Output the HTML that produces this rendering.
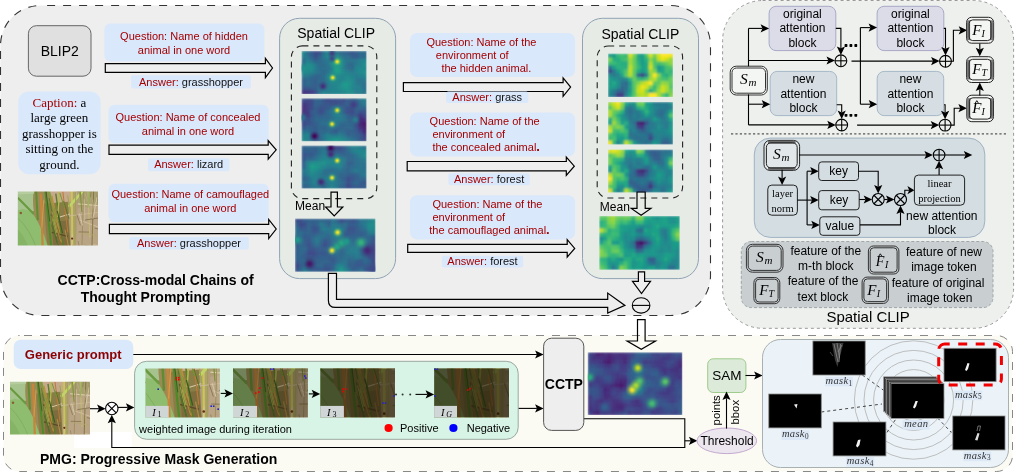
<!DOCTYPE html>
<html><head><meta charset="utf-8"><style>
html,body{margin:0;padding:0;background:#fff;}
svg{display:block;will-change:transform;}

</style></head><body>
<svg width="1015" height="475" viewBox="0 0 1015 475">
<rect x="0" y="0" width="1015" height="475" fill="#fff"/>
<rect x="0.5" y="5.5" width="710" height="310" rx="40" fill="#eeeeee" stroke="#333" stroke-width="1.1" stroke-dasharray="8 8" stroke-dashoffset="-6.6"/>
<rect x="722.6" y="0.5" width="291" height="327.8" rx="40" fill="#edf0ec" stroke="#999" stroke-width="1" stroke-dasharray="3 3" />
<rect x="3.5" y="335.5" width="1009" height="136" rx="16" fill="#fbfbf3" stroke="#888" stroke-width="1" stroke-dasharray="8 8" stroke-dashoffset="-4.5"/>
<rect x="28.4" y="25.7" width="62.6" height="50.5" rx="8" fill="#e0e0e0" stroke="#666" stroke-width="1" />
<text x="59.7" y="56" font-size="14" fill="#000" text-anchor="middle" font-family='"Liberation Sans", sans-serif' font-weight="normal" font-style="normal" >BLIP2</text>
<rect x="18.2" y="91.4" width="82.4" height="82.8" rx="11" fill="#dae8fc" stroke="none" stroke-width="1" />
<text x="59.4" y="106.7" font-size="13" fill="#000" text-anchor="middle" font-family='"Liberation Serif", serif' font-weight="normal" font-style="normal" ><tspan fill="#a50000">Caption:</tspan> a</text>
<text x="59.4" y="122.2" font-size="13" fill="#000" text-anchor="middle" font-family='"Liberation Serif", serif' font-weight="normal" font-style="normal" >large green</text>
<text x="59.4" y="137.7" font-size="13" fill="#000" text-anchor="middle" font-family='"Liberation Serif", serif' font-weight="normal" font-style="normal" >grasshopper is</text>
<text x="59.4" y="153.2" font-size="13" fill="#000" text-anchor="middle" font-family='"Liberation Serif", serif' font-weight="normal" font-style="normal" >sitting on the</text>
<text x="59.4" y="168.7" font-size="13" fill="#000" text-anchor="middle" font-family='"Liberation Serif", serif' font-weight="normal" font-style="normal" >ground.</text>
<defs><g id="ph"><rect x="-6" y="-6" width="92" height="65" fill="#9a8a55"/><path d="M50 -6 L86 -6 L86 59 L52 59 Z" fill="#b29c7a"/><path d="M60 16 L86 12 L86 59 L58 59 Z" fill="#b9a586"/><path d="M56 -6 L86 -6 L86 12 L60 14 Z" fill="#a8a070"/><path d="M30 -6 L54 -6 L53 10 L34 12 Z" fill="#c6a88c"/><path d="M26 12 L50 10 L53 59 L30 59 Z" fill="#8a7c46"/><path d="M34 30 L50 28 L53 59 L36 59 Z" fill="#7a6a3c" opacity="0.85"/><path d="M-6 -6 L17 -6 Q14 6 16 19 L-6 21 Z" fill="#a6c38e"/><path d="M-6 -6 L17 -6 L16 2 L-6 3 Z" fill="#b4cc9e"/><path d="M-6 20 L5 17 L13 19 Q20 28 26 42 L32 59 L-6 59 Z" fill="#8fbd70"/><path d="M-6 34 Q6 38 12 59 L-6 59 Z" fill="#85b466"/><path d="M0 6 L16 22" stroke="#6a9a40" stroke-width="2.2"/><path d="M0 26 Q12 36 20 59" stroke="#78a458" stroke-width="0.6" fill="none"/><circle cx="3" cy="21" r="1.2" fill="#8a5a30"/><path d="M18 -6 L20 28" stroke="#5e8c30" stroke-width="2.0" fill="none"/><path d="M23 2 L25 59" stroke="#c8843a" stroke-width="2.2" fill="none"/><path d="M26 8 L24 35" stroke="#d89a48" stroke-width="1.0" fill="none"/><path d="M27 -6 L34 59" stroke="#4f8a2a" stroke-width="2.0" fill="none"/><path d="M30 -6 L42 44" stroke="#7aa038" stroke-width="1.8" fill="none"/><path d="M34 4 L44 50" stroke="#b8903c" stroke-width="1.3" fill="none"/><path d="M38 2 L46 59" stroke="#587e2a" stroke-width="1.4" fill="none"/><path d="M42 -6 L40 25" stroke="#b0bc4c" stroke-width="1.3" fill="none"/><path d="M54 -6 L54.5 59" stroke="#c8c850" stroke-width="1.9" fill="none"/><path d="M51 15 L68 -4" stroke="#c0d468" stroke-width="2.6" fill="none"/><path d="M58 -6 L57 59" stroke="#98a448" stroke-width="0.9" fill="none"/><path d="M60 12 L84 14" stroke="#dccdb0" stroke-width="1.1" fill="none"/><path d="M50 24 L84 20" stroke="#cdbc98" stroke-width="0.8" fill="none"/><path d="M62 28 L84 36" stroke="#d4c4a4" stroke-width="0.8" fill="none"/><path d="M66 -6 L64 59" stroke="#9a8a5a" stroke-width="0.8" fill="none"/><path d="M70 -6 L72 45" stroke="#c8c070" stroke-width="0.8" fill="none"/><path d="M76 -6 L74 59" stroke="#806e44" stroke-width="0.9" fill="none"/><path d="M58 40 L84 44" stroke="#b4a474" stroke-width="0.8" fill="none"/><path d="M62 -6 L64 20" stroke="#7a9034" stroke-width="1.0" fill="none"/><path d="M72 -6 L70 16" stroke="#9ab058" stroke-width="1.2" fill="none"/><path d="M42 25 L52 22" stroke="#d6c8a8" stroke-width="1.0" fill="none"/><path d="M34 40 L50 44" stroke="#5a4a2a" stroke-width="1.3" fill="none"/><path d="M45 0 L50 40" stroke="#c07838" stroke-width="1.0" fill="none"/><path d="M59.4 -2.8 L58.4 4.8" stroke="#cdbd98" stroke-width="0.59"/><path d="M80.9 46.4 L88.2 43.9" stroke="#8a7650" stroke-width="0.86"/><path d="M79.7 6.1 L87.3 26.5" stroke="#c2b08a" stroke-width="0.81"/><path d="M54.8 52.2 L56.6 59.8" stroke="#76663e" stroke-width="0.53"/><path d="M75.4 32.6 L75.9 48.5" stroke="#b8b070" stroke-width="0.68"/><path d="M80.9 0.2 L81.4 11.6" stroke="#d6c8a8" stroke-width="0.60"/><path d="M77.9 -0.1 L80.0 6.1" stroke="#9c8c60" stroke-width="0.50"/><path d="M81.7 37.3 L82.4 53.2" stroke="#cdbd98" stroke-width="0.64"/><path d="M59.1 22.6 L62.6 33.1" stroke="#8a7650" stroke-width="0.82"/><path d="M60.4 54.0 L72.1 52.5" stroke="#c2b08a" stroke-width="0.82"/><path d="M76.9 35.8 L89.8 39.1" stroke="#76663e" stroke-width="0.61"/><path d="M75.9 12.8 L71.8 25.5" stroke="#b8b070" stroke-width="0.53"/><path d="M54.6 42.3 L53.6 57.1" stroke="#d6c8a8" stroke-width="0.66"/><path d="M66.3 52.4 L85.9 56.2" stroke="#9c8c60" stroke-width="0.76"/><path d="M74.9 7.8 L77.0 23.1" stroke="#cdbd98" stroke-width="0.54"/><path d="M60.3 48.5 L64.0 67.6" stroke="#8a7650" stroke-width="0.62"/><path d="M67.1 1.6 L69.7 9.5" stroke="#c2b08a" stroke-width="0.53"/><path d="M67.0 27.9 L86.0 25.0" stroke="#76663e" stroke-width="0.71"/><path d="M81.3 21.3 L90.0 19.9" stroke="#b8b070" stroke-width="0.88"/><path d="M79.3 5.4 L75.1 26.5" stroke="#d6c8a8" stroke-width="0.87"/><path d="M79.2 3.7 L80.5 14.5" stroke="#9c8c60" stroke-width="0.60"/><path d="M66.4 7.4 L66.9 28.3" stroke="#cdbd98" stroke-width="0.72"/><path d="M60.8 39.5 L71.3 39.7" stroke="#8a7650" stroke-width="0.87"/><path d="M65.6 -1.8 L80.3 -3.5" stroke="#c2b08a" stroke-width="0.79"/><path d="M73.4 -0.8 L72.7 5.4" stroke="#76663e" stroke-width="0.51"/><path d="M63.4 -3.2 L76.4 -6.2" stroke="#b8b070" stroke-width="0.69"/><path d="M81.5 17.7 L80.7 31.5" stroke="#d6c8a8" stroke-width="0.60"/><path d="M61.5 -1.5 L62.0 5.7" stroke="#9c8c60" stroke-width="0.88"/><path d="M75.2 51.6 L91.3 55.7" stroke="#cdbd98" stroke-width="0.68"/><path d="M80.2 7.1 L82.7 16.8" stroke="#8a7650" stroke-width="0.80"/><path d="M80.4 15.5 L94.4 13.3" stroke="#c2b08a" stroke-width="0.75"/><path d="M58.8 -0.1 L79.2 -1.1" stroke="#76663e" stroke-width="0.71"/><path d="M79.8 17.5 L81.3 24.2" stroke="#b8b070" stroke-width="0.73"/><path d="M61.6 21.5 L64.7 33.2" stroke="#d6c8a8" stroke-width="0.86"/><path d="M31.4 6.3 L36.4 31.3" stroke="#4a7426" stroke-width="0.69"/><path d="M35.0 25.4 L42.6 49.4" stroke="#8a6a34" stroke-width="0.81"/><path d="M36.0 15.7 L39.1 28.0" stroke="#6a9634" stroke-width="1.08"/><path d="M47.2 37.4 L54.2 69.9" stroke="#b08a44" stroke-width="1.07"/><path d="M33.2 22.1 L39.2 49.9" stroke="#3a5a22" stroke-width="0.73"/><path d="M33.9 24.3 L38.6 43.7" stroke="#9aa848" stroke-width="0.78"/><path d="M33.8 32.5 L42.3 58.4" stroke="#4a7426" stroke-width="0.97"/><path d="M38.1 30.3 L44.3 55.4" stroke="#8a6a34" stroke-width="1.02"/><path d="M30.2 8.2 L32.9 33.7" stroke="#6a9634" stroke-width="0.66"/><path d="M34.1 19.4 L43.1 49.1" stroke="#b08a44" stroke-width="0.98"/><path d="M39.4 18.8 L44.8 40.8" stroke="#3a5a22" stroke-width="1.05"/><path d="M49.9 3.7 L52.6 21.4" stroke="#9aa848" stroke-width="0.98"/><path d="M45.8 9.3 L51.1 26.4" stroke="#4a7426" stroke-width="0.79"/><path d="M39.5 34.4 L43.3 46.7" stroke="#8a6a34" stroke-width="0.93"/><path d="M42.1 1.5 L46.6 15.4" stroke="#6a9634" stroke-width="0.92"/><path d="M32.7 6.6 L41.5 35.9" stroke="#b08a44" stroke-width="0.87"/><path d="M28.2 -1.1 L31.9 29.4" stroke="#3a5a22" stroke-width="0.83"/><path d="M35.7 26.9 L39.2 40.6" stroke="#9aa848" stroke-width="1.05"/><circle cx="54.3" cy="46" r="1.1" fill="#6a2a10"/></g><filter id="pblur" x="-5%" y="-5%" width="110%" height="110%"><feGaussianBlur stdDeviation="0.45"/></filter></defs>
<defs><clipPath id="pca"><rect x="17.8" y="191.6" width="80.2" height="53.8"/></clipPath></defs>
<g clip-path="url(#pca)"><g transform="translate(17.8,191.6) scale(1,1.02)" filter="url(#pblur)"><use href="#ph"/></g>
</g>
<rect x="104.4" y="23.4" width="160" height="38" rx="6" fill="#dae8fc" stroke="none" stroke-width="1" />
<text x="184" y="39.8" font-size="11" fill="#a50000" text-anchor="middle" font-family='"Liberation Sans", sans-serif' font-weight="normal" font-style="normal" >Question: Name of hidden</text>
<text x="184" y="53.5" font-size="11" fill="#a50000" text-anchor="middle" font-family='"Liberation Sans", sans-serif' font-weight="normal" font-style="normal" >animal in one word</text>
<path d="M105.3 63.6 L265.4 63.6 L265.4 58.4 L272.5 68 L265.4 77.6 L265.4 72.4 L105.3 72.4 Z" fill="none" stroke="#000" stroke-width="1.2" stroke-linejoin="miter"/>
<rect x="131.1" y="75.3" width="119.8" height="13.1" rx="2" fill="#dae8fc" stroke="none" stroke-width="1" />
<text x="191" y="86" font-size="11" fill="#111" text-anchor="middle" font-family='"Liberation Sans", sans-serif' font-weight="normal" font-style="normal" ><tspan fill="#a50000">Answer:</tspan> grasshopper</text>
<rect x="108.5" y="104.7" width="160.2" height="38.6" rx="6" fill="#dae8fc" stroke="none" stroke-width="1" />
<text x="188" y="121" font-size="11" fill="#a50000" text-anchor="middle" font-family='"Liberation Sans", sans-serif' font-weight="normal" font-style="normal" >Question: Name of concealed</text>
<text x="188" y="134.7" font-size="11" fill="#a50000" text-anchor="middle" font-family='"Liberation Sans", sans-serif' font-weight="normal" font-style="normal" >animal in one word</text>
<path d="M109 145.2 L268.2 145.2 L268.2 140.5 L276.2 149.8 L268.2 159.1 L268.2 154.4 L109 154.4 Z" fill="none" stroke="#000" stroke-width="1.2" stroke-linejoin="miter"/>
<rect x="148" y="158.3" width="81.4" height="13" rx="2" fill="#dae8fc" stroke="none" stroke-width="1" />
<text x="188.7" y="168" font-size="11" fill="#111" text-anchor="middle" font-family='"Liberation Sans", sans-serif' font-weight="normal" font-style="normal" ><tspan fill="#a50000">Answer:</tspan> lizard</text>
<rect x="108.5" y="183.7" width="160.2" height="38.4" rx="6" fill="#dae8fc" stroke="none" stroke-width="1" />
<text x="190.3" y="198" font-size="11" fill="#a50000" text-anchor="middle" font-family='"Liberation Sans", sans-serif' font-weight="normal" font-style="normal" >Question: Name of camouflaged</text>
<text x="190.3" y="211.7" font-size="11" fill="#a50000" text-anchor="middle" font-family='"Liberation Sans", sans-serif' font-weight="normal" font-style="normal" >animal in one word</text>
<path d="M109.4 224.4 L268.7 224.4 L268.7 219.5 L276.2 229 L268.7 238.5 L268.7 233.6 L109.4 233.6 Z" fill="none" stroke="#000" stroke-width="1.2" stroke-linejoin="miter"/>
<rect x="129.3" y="237.1" width="119.6" height="12.5" rx="2" fill="#dae8fc" stroke="none" stroke-width="1" />
<text x="189" y="247.3" font-size="11" fill="#111" text-anchor="middle" font-family='"Liberation Sans", sans-serif' font-weight="normal" font-style="normal" ><tspan fill="#a50000">Answer:</tspan> grasshopper</text>
<text x="57.6" y="285.1" font-size="14" fill="#000" text-anchor="start" font-family='"Liberation Sans", sans-serif' font-weight="bold" font-style="normal" >CCTP:Cross-modal Chains of</text>
<text x="80.7" y="301.7" font-size="14" fill="#000" text-anchor="start" font-family='"Liberation Sans", sans-serif' font-weight="bold" font-style="normal" >Thought Prompting</text>
<rect x="279.6" y="18.3" width="116" height="260.3" rx="20" fill="#e6ebe6" stroke="#8fa3b3" stroke-width="1" />
<rect x="582.5" y="18.3" width="116" height="260.3" rx="20" fill="#e6ebe6" stroke="#8fa3b3" stroke-width="1" />
<text x="336.2" y="37.8" font-size="14" fill="#000" text-anchor="middle" font-family='"Liberation Sans", sans-serif' font-weight="normal" font-style="normal" >Spatial CLIP</text>
<text x="640.4" y="38.6" font-size="14" fill="#000" text-anchor="middle" font-family='"Liberation Sans", sans-serif' font-weight="normal" font-style="normal" >Spatial CLIP</text>
<rect x="291.4" y="45.9" width="85.4" height="152.7" rx="11" fill="none" stroke="#222" stroke-width="1.1" stroke-dasharray="6 5" />
<rect x="597.2" y="46" width="85.4" height="152" rx="11" fill="none" stroke="#222" stroke-width="1.1" stroke-dasharray="6 5" />
<defs><filter id="hb1" x="-5%" y="-5%" width="110%" height="110%"><feGaussianBlur stdDeviation="0.9"/></filter><clipPath id="chb1"><rect x="301.5" y="50.9" width="65" height="43.2"/></clipPath><radialGradient id="hb1g0"><stop offset="0.00" stop-color="#28ae7f" stop-opacity="1.000"/><stop offset="0.20" stop-color="#28ae7f" stop-opacity="0.874"/><stop offset="0.40" stop-color="#28ae7f" stop-opacity="0.582"/><stop offset="0.60" stop-color="#28ae7f" stop-opacity="0.296"/><stop offset="0.80" stop-color="#28ae7f" stop-opacity="0.115"/><stop offset="1.00" stop-color="#28ae7f" stop-opacity="0.034"/></radialGradient><radialGradient id="hb1g1"><stop offset="0.00" stop-color="#1ea087" stop-opacity="1.000"/><stop offset="0.20" stop-color="#1ea087" stop-opacity="0.874"/><stop offset="0.40" stop-color="#1ea087" stop-opacity="0.582"/><stop offset="0.60" stop-color="#1ea087" stop-opacity="0.296"/><stop offset="0.80" stop-color="#1ea087" stop-opacity="0.115"/><stop offset="1.00" stop-color="#1ea087" stop-opacity="0.034"/></radialGradient><radialGradient id="hb1g2"><stop offset="0.00" stop-color="#20918c" stop-opacity="1.000"/><stop offset="0.20" stop-color="#20918c" stop-opacity="0.874"/><stop offset="0.40" stop-color="#20918c" stop-opacity="0.582"/><stop offset="0.60" stop-color="#20918c" stop-opacity="0.296"/><stop offset="0.80" stop-color="#20918c" stop-opacity="0.115"/><stop offset="1.00" stop-color="#20918c" stop-opacity="0.034"/></radialGradient><radialGradient id="hb1g3"><stop offset="0.00" stop-color="#1fa187" stop-opacity="1.000"/><stop offset="0.20" stop-color="#1fa187" stop-opacity="0.874"/><stop offset="0.40" stop-color="#1fa187" stop-opacity="0.582"/><stop offset="0.60" stop-color="#1fa187" stop-opacity="0.296"/><stop offset="0.80" stop-color="#1fa187" stop-opacity="0.115"/><stop offset="1.00" stop-color="#1fa187" stop-opacity="0.034"/></radialGradient><radialGradient id="hb1g4"><stop offset="0.00" stop-color="#443982" stop-opacity="1.000"/><stop offset="0.20" stop-color="#443982" stop-opacity="0.874"/><stop offset="0.40" stop-color="#443982" stop-opacity="0.582"/><stop offset="0.60" stop-color="#443982" stop-opacity="0.296"/><stop offset="0.80" stop-color="#443982" stop-opacity="0.115"/><stop offset="1.00" stop-color="#443982" stop-opacity="0.034"/></radialGradient><radialGradient id="hb1g5"><stop offset="0.00" stop-color="#472b7a" stop-opacity="1.000"/><stop offset="0.20" stop-color="#472b7a" stop-opacity="0.874"/><stop offset="0.40" stop-color="#472b7a" stop-opacity="0.582"/><stop offset="0.60" stop-color="#472b7a" stop-opacity="0.296"/><stop offset="0.80" stop-color="#472b7a" stop-opacity="0.115"/><stop offset="1.00" stop-color="#472b7a" stop-opacity="0.034"/></radialGradient><radialGradient id="hb1g6"><stop offset="0.00" stop-color="#3e4888" stop-opacity="1.000"/><stop offset="0.20" stop-color="#3e4888" stop-opacity="0.874"/><stop offset="0.40" stop-color="#3e4888" stop-opacity="0.582"/><stop offset="0.60" stop-color="#3e4888" stop-opacity="0.296"/><stop offset="0.80" stop-color="#3e4888" stop-opacity="0.115"/><stop offset="1.00" stop-color="#3e4888" stop-opacity="0.034"/></radialGradient><radialGradient id="hb1g7"><stop offset="0.00" stop-color="#fde724" stop-opacity="1.000"/><stop offset="0.20" stop-color="#fde724" stop-opacity="0.874"/><stop offset="0.40" stop-color="#fde724" stop-opacity="0.582"/><stop offset="0.60" stop-color="#fde724" stop-opacity="0.296"/><stop offset="0.80" stop-color="#fde724" stop-opacity="0.115"/><stop offset="1.00" stop-color="#fde724" stop-opacity="0.034"/></radialGradient><radialGradient id="hb1g8"><stop offset="0.00" stop-color="#fde724" stop-opacity="1.000"/><stop offset="0.20" stop-color="#fde724" stop-opacity="0.874"/><stop offset="0.40" stop-color="#fde724" stop-opacity="0.582"/><stop offset="0.60" stop-color="#fde724" stop-opacity="0.296"/><stop offset="0.80" stop-color="#fde724" stop-opacity="0.115"/><stop offset="1.00" stop-color="#fde724" stop-opacity="0.034"/></radialGradient></defs>
<g clip-path="url(#chb1)"><g filter="url(#hb1)"><rect x="301.5" y="50.9" width="4.66" height="4.53" fill="#23878d"/><rect x="305.56" y="50.9" width="4.66" height="4.53" fill="#2e6d8e"/><rect x="309.62" y="50.9" width="4.66" height="4.53" fill="#345e8d"/><rect x="313.69" y="50.9" width="4.66" height="4.53" fill="#3c4d8a"/><rect x="317.75" y="50.9" width="4.66" height="4.53" fill="#3a538b"/><rect x="321.81" y="50.9" width="4.66" height="4.53" fill="#2c728e"/><rect x="325.88" y="50.9" width="4.66" height="4.53" fill="#228b8d"/><rect x="329.94" y="50.9" width="4.66" height="4.53" fill="#1f938b"/><rect x="334" y="50.9" width="4.66" height="4.53" fill="#277e8e"/><rect x="338.06" y="50.9" width="4.66" height="4.53" fill="#2e6d8e"/><rect x="342.12" y="50.9" width="4.66" height="4.53" fill="#30678d"/><rect x="346.19" y="50.9" width="4.66" height="4.53" fill="#33608d"/><rect x="350.25" y="50.9" width="4.66" height="4.53" fill="#37598c"/><rect x="354.31" y="50.9" width="4.66" height="4.53" fill="#345e8d"/><rect x="358.38" y="50.9" width="4.66" height="4.53" fill="#2e6c8e"/><rect x="362.44" y="50.9" width="4.66" height="4.53" fill="#2e6b8e"/><rect x="301.5" y="54.83" width="4.66" height="4.53" fill="#267f8e"/><rect x="305.56" y="54.83" width="4.66" height="4.53" fill="#2a768e"/><rect x="309.62" y="54.83" width="4.66" height="4.53" fill="#32628d"/><rect x="313.69" y="54.83" width="4.66" height="4.53" fill="#3b508a"/><rect x="317.75" y="54.83" width="4.66" height="4.53" fill="#32628d"/><rect x="321.81" y="54.83" width="4.66" height="4.53" fill="#2a778e"/><rect x="325.88" y="54.83" width="4.66" height="4.53" fill="#228a8d"/><rect x="329.94" y="54.83" width="4.66" height="4.53" fill="#1f938b"/><rect x="334" y="54.83" width="4.66" height="4.53" fill="#25828e"/><rect x="338.06" y="54.83" width="4.66" height="4.53" fill="#2a768e"/><rect x="342.12" y="54.83" width="4.66" height="4.53" fill="#2d6e8e"/><rect x="346.19" y="54.83" width="4.66" height="4.53" fill="#2d6e8e"/><rect x="350.25" y="54.83" width="4.66" height="4.53" fill="#345f8d"/><rect x="354.31" y="54.83" width="4.66" height="4.53" fill="#355c8c"/><rect x="358.38" y="54.83" width="4.66" height="4.53" fill="#30678d"/><rect x="362.44" y="54.83" width="4.66" height="4.53" fill="#2e6c8e"/><rect x="301.5" y="58.75" width="4.66" height="4.53" fill="#2f6a8d"/><rect x="305.56" y="58.75" width="4.66" height="4.53" fill="#26808e"/><rect x="309.62" y="58.75" width="4.66" height="4.53" fill="#2c728e"/><rect x="313.69" y="58.75" width="4.66" height="4.53" fill="#33618d"/><rect x="317.75" y="58.75" width="4.66" height="4.53" fill="#2e6b8e"/><rect x="321.81" y="58.75" width="4.66" height="4.53" fill="#2d6f8e"/><rect x="325.88" y="58.75" width="4.66" height="4.53" fill="#287b8e"/><rect x="329.94" y="58.75" width="4.66" height="4.53" fill="#218d8c"/><rect x="334" y="58.75" width="4.66" height="4.53" fill="#228a8d"/><rect x="338.06" y="58.75" width="4.66" height="4.53" fill="#26808e"/><rect x="342.12" y="58.75" width="4.66" height="4.53" fill="#287a8e"/><rect x="346.19" y="58.75" width="4.66" height="4.53" fill="#2b748e"/><rect x="350.25" y="58.75" width="4.66" height="4.53" fill="#2b748e"/><rect x="354.31" y="58.75" width="4.66" height="4.53" fill="#2a778e"/><rect x="358.38" y="58.75" width="4.66" height="4.53" fill="#26818e"/><rect x="362.44" y="58.75" width="4.66" height="4.53" fill="#24868d"/><rect x="301.5" y="62.68" width="4.66" height="4.53" fill="#2e6b8e"/><rect x="305.56" y="62.68" width="4.66" height="4.53" fill="#218e8c"/><rect x="309.62" y="62.68" width="4.66" height="4.53" fill="#23898d"/><rect x="313.69" y="62.68" width="4.66" height="4.53" fill="#2a778e"/><rect x="317.75" y="62.68" width="4.66" height="4.53" fill="#2e6c8e"/><rect x="321.81" y="62.68" width="4.66" height="4.53" fill="#2e6c8e"/><rect x="325.88" y="62.68" width="4.66" height="4.53" fill="#2a768e"/><rect x="329.94" y="62.68" width="4.66" height="4.53" fill="#25838d"/><rect x="334" y="62.68" width="4.66" height="4.53" fill="#208f8c"/><rect x="338.06" y="62.68" width="4.66" height="4.53" fill="#228b8d"/><rect x="342.12" y="62.68" width="4.66" height="4.53" fill="#287b8e"/><rect x="346.19" y="62.68" width="4.66" height="4.53" fill="#2f6a8d"/><rect x="350.25" y="62.68" width="4.66" height="4.53" fill="#2f6a8d"/><rect x="354.31" y="62.68" width="4.66" height="4.53" fill="#287a8e"/><rect x="358.38" y="62.68" width="4.66" height="4.53" fill="#26818e"/><rect x="362.44" y="62.68" width="4.66" height="4.53" fill="#218d8c"/><rect x="301.5" y="66.61" width="4.66" height="4.53" fill="#29798e"/><rect x="305.56" y="66.61" width="4.66" height="4.53" fill="#228b8d"/><rect x="309.62" y="66.61" width="4.66" height="4.53" fill="#218e8c"/><rect x="313.69" y="66.61" width="4.66" height="4.53" fill="#277d8e"/><rect x="317.75" y="66.61" width="4.66" height="4.53" fill="#2c708e"/><rect x="321.81" y="66.61" width="4.66" height="4.53" fill="#2d6e8e"/><rect x="325.88" y="66.61" width="4.66" height="4.53" fill="#2b738e"/><rect x="329.94" y="66.61" width="4.66" height="4.53" fill="#287a8e"/><rect x="334" y="66.61" width="4.66" height="4.53" fill="#218c8d"/><rect x="338.06" y="66.61" width="4.66" height="4.53" fill="#23878d"/><rect x="342.12" y="66.61" width="4.66" height="4.53" fill="#277c8e"/><rect x="346.19" y="66.61" width="4.66" height="4.53" fill="#2d6f8e"/><rect x="350.25" y="66.61" width="4.66" height="4.53" fill="#2f6a8d"/><rect x="354.31" y="66.61" width="4.66" height="4.53" fill="#24848d"/><rect x="358.38" y="66.61" width="4.66" height="4.53" fill="#23898d"/><rect x="362.44" y="66.61" width="4.66" height="4.53" fill="#23878d"/><rect x="301.5" y="70.54" width="4.66" height="4.53" fill="#23888d"/><rect x="305.56" y="70.54" width="4.66" height="4.53" fill="#23878d"/><rect x="309.62" y="70.54" width="4.66" height="4.53" fill="#25838d"/><rect x="313.69" y="70.54" width="4.66" height="4.53" fill="#29788e"/><rect x="317.75" y="70.54" width="4.66" height="4.53" fill="#2d6f8e"/><rect x="321.81" y="70.54" width="4.66" height="4.53" fill="#2e6b8e"/><rect x="325.88" y="70.54" width="4.66" height="4.53" fill="#2b738e"/><rect x="329.94" y="70.54" width="4.66" height="4.53" fill="#29788e"/><rect x="334" y="70.54" width="4.66" height="4.53" fill="#25828e"/><rect x="338.06" y="70.54" width="4.66" height="4.53" fill="#22898d"/><rect x="342.12" y="70.54" width="4.66" height="4.53" fill="#23878d"/><rect x="346.19" y="70.54" width="4.66" height="4.53" fill="#26808e"/><rect x="350.25" y="70.54" width="4.66" height="4.53" fill="#287b8e"/><rect x="354.31" y="70.54" width="4.66" height="4.53" fill="#26818e"/><rect x="358.38" y="70.54" width="4.66" height="4.53" fill="#228a8d"/><rect x="362.44" y="70.54" width="4.66" height="4.53" fill="#20908c"/><rect x="301.5" y="74.46" width="4.66" height="4.53" fill="#29788e"/><rect x="305.56" y="74.46" width="4.66" height="4.53" fill="#2a778e"/><rect x="309.62" y="74.46" width="4.66" height="4.53" fill="#2e6c8e"/><rect x="313.69" y="74.46" width="4.66" height="4.53" fill="#31658d"/><rect x="317.75" y="74.46" width="4.66" height="4.53" fill="#31668d"/><rect x="321.81" y="74.46" width="4.66" height="4.53" fill="#2c718e"/><rect x="325.88" y="74.46" width="4.66" height="4.53" fill="#2a778e"/><rect x="329.94" y="74.46" width="4.66" height="4.53" fill="#277c8e"/><rect x="334" y="74.46" width="4.66" height="4.53" fill="#287a8e"/><rect x="338.06" y="74.46" width="4.66" height="4.53" fill="#26818e"/><rect x="342.12" y="74.46" width="4.66" height="4.53" fill="#24868d"/><rect x="346.19" y="74.46" width="4.66" height="4.53" fill="#22898d"/><rect x="350.25" y="74.46" width="4.66" height="4.53" fill="#24848d"/><rect x="354.31" y="74.46" width="4.66" height="4.53" fill="#277c8e"/><rect x="358.38" y="74.46" width="4.66" height="4.53" fill="#26808e"/><rect x="362.44" y="74.46" width="4.66" height="4.53" fill="#24868d"/><rect x="301.5" y="78.39" width="4.66" height="4.53" fill="#33618d"/><rect x="305.56" y="78.39" width="4.66" height="4.53" fill="#2f6a8d"/><rect x="309.62" y="78.39" width="4.66" height="4.53" fill="#32638d"/><rect x="313.69" y="78.39" width="4.66" height="4.53" fill="#33608d"/><rect x="317.75" y="78.39" width="4.66" height="4.53" fill="#30678d"/><rect x="321.81" y="78.39" width="4.66" height="4.53" fill="#2e6c8e"/><rect x="325.88" y="78.39" width="4.66" height="4.53" fill="#2a758e"/><rect x="329.94" y="78.39" width="4.66" height="4.53" fill="#287a8e"/><rect x="334" y="78.39" width="4.66" height="4.53" fill="#267f8e"/><rect x="338.06" y="78.39" width="4.66" height="4.53" fill="#24848d"/><rect x="342.12" y="78.39" width="4.66" height="4.53" fill="#23898d"/><rect x="346.19" y="78.39" width="4.66" height="4.53" fill="#218e8c"/><rect x="350.25" y="78.39" width="4.66" height="4.53" fill="#228b8d"/><rect x="354.31" y="78.39" width="4.66" height="4.53" fill="#29788e"/><rect x="358.38" y="78.39" width="4.66" height="4.53" fill="#2a758e"/><rect x="362.44" y="78.39" width="4.66" height="4.53" fill="#29788e"/><rect x="301.5" y="82.32" width="4.66" height="4.53" fill="#33618d"/><rect x="305.56" y="82.32" width="4.66" height="4.53" fill="#2e6c8e"/><rect x="309.62" y="82.32" width="4.66" height="4.53" fill="#31658d"/><rect x="313.69" y="82.32" width="4.66" height="4.53" fill="#345f8d"/><rect x="317.75" y="82.32" width="4.66" height="4.53" fill="#2e6b8e"/><rect x="321.81" y="82.32" width="4.66" height="4.53" fill="#2c708e"/><rect x="325.88" y="82.32" width="4.66" height="4.53" fill="#287a8e"/><rect x="329.94" y="82.32" width="4.66" height="4.53" fill="#26808e"/><rect x="334" y="82.32" width="4.66" height="4.53" fill="#24868d"/><rect x="338.06" y="82.32" width="4.66" height="4.53" fill="#228a8d"/><rect x="342.12" y="82.32" width="4.66" height="4.53" fill="#1e9a89"/><rect x="346.19" y="82.32" width="4.66" height="4.53" fill="#1e978a"/><rect x="350.25" y="82.32" width="4.66" height="4.53" fill="#22898d"/><rect x="354.31" y="82.32" width="4.66" height="4.53" fill="#277c8e"/><rect x="358.38" y="82.32" width="4.66" height="4.53" fill="#2a778e"/><rect x="362.44" y="82.32" width="4.66" height="4.53" fill="#2c718e"/><rect x="301.5" y="86.25" width="4.66" height="4.53" fill="#39548b"/><rect x="305.56" y="86.25" width="4.66" height="4.53" fill="#37588c"/><rect x="309.62" y="86.25" width="4.66" height="4.53" fill="#365b8c"/><rect x="313.69" y="86.25" width="4.66" height="4.53" fill="#345e8d"/><rect x="317.75" y="86.25" width="4.66" height="4.53" fill="#2b738e"/><rect x="321.81" y="86.25" width="4.66" height="4.53" fill="#277d8e"/><rect x="325.88" y="86.25" width="4.66" height="4.53" fill="#287b8e"/><rect x="329.94" y="86.25" width="4.66" height="4.53" fill="#24848d"/><rect x="334" y="86.25" width="4.66" height="4.53" fill="#24868d"/><rect x="338.06" y="86.25" width="4.66" height="4.53" fill="#218c8d"/><rect x="342.12" y="86.25" width="4.66" height="4.53" fill="#1f948b"/><rect x="346.19" y="86.25" width="4.66" height="4.53" fill="#1f948b"/><rect x="350.25" y="86.25" width="4.66" height="4.53" fill="#24868d"/><rect x="354.31" y="86.25" width="4.66" height="4.53" fill="#267f8e"/><rect x="358.38" y="86.25" width="4.66" height="4.53" fill="#267f8e"/><rect x="362.44" y="86.25" width="4.66" height="4.53" fill="#2c708e"/><rect x="301.5" y="90.17" width="4.66" height="4.53" fill="#453580"/><rect x="305.56" y="90.17" width="4.66" height="4.53" fill="#443982"/><rect x="309.62" y="90.17" width="4.66" height="4.53" fill="#423e85"/><rect x="313.69" y="90.17" width="4.66" height="4.53" fill="#3b508a"/><rect x="317.75" y="90.17" width="4.66" height="4.53" fill="#2c718e"/><rect x="321.81" y="90.17" width="4.66" height="4.53" fill="#24858d"/><rect x="325.88" y="90.17" width="4.66" height="4.53" fill="#277e8e"/><rect x="329.94" y="90.17" width="4.66" height="4.53" fill="#24848d"/><rect x="334" y="90.17" width="4.66" height="4.53" fill="#24848d"/><rect x="338.06" y="90.17" width="4.66" height="4.53" fill="#24858d"/><rect x="342.12" y="90.17" width="4.66" height="4.53" fill="#23878d"/><rect x="346.19" y="90.17" width="4.66" height="4.53" fill="#218e8c"/><rect x="350.25" y="90.17" width="4.66" height="4.53" fill="#218c8d"/><rect x="354.31" y="90.17" width="4.66" height="4.53" fill="#277e8e"/><rect x="358.38" y="90.17" width="4.66" height="4.53" fill="#277e8e"/><rect x="362.44" y="90.17" width="4.66" height="4.53" fill="#2a768e"/></g><ellipse cx="337.25" cy="61.7" rx="8.32" ry="8.32" fill="url(#hb1g0)"/><ellipse cx="332.7" cy="77.68" rx="8.32" ry="8.32" fill="url(#hb1g1)"/><ellipse cx="303.45" cy="68.18" rx="7.8" ry="7.8" fill="url(#hb1g2)"/><ellipse cx="337.25" cy="70.34" rx="7.8" ry="7.8" fill="url(#hb1g3)"/><ellipse cx="332.05" cy="53.49" rx="5.72" ry="5.72" fill="url(#hb1g4)"/><ellipse cx="322.95" cy="86.32" rx="5.72" ry="5.72" fill="url(#hb1g5)"/><ellipse cx="332.05" cy="58.68" rx="5.2" ry="5.2" fill="url(#hb1g6)"/><ellipse cx="337.25" cy="61.7" rx="3.9" ry="3.9" fill="url(#hb1g7)"/><ellipse cx="332.7" cy="77.68" rx="3.9" ry="3.9" fill="url(#hb1g8)"/></g>
<defs><filter id="hb2" x="-5%" y="-5%" width="110%" height="110%"><feGaussianBlur stdDeviation="0.9"/></filter><clipPath id="chb2"><rect x="301.5" y="98.3" width="65" height="43"/></clipPath><radialGradient id="hb2g0"><stop offset="0.00" stop-color="#20908c" stop-opacity="1.000"/><stop offset="0.20" stop-color="#20908c" stop-opacity="0.874"/><stop offset="0.40" stop-color="#20908c" stop-opacity="0.582"/><stop offset="0.60" stop-color="#20908c" stop-opacity="0.296"/><stop offset="0.80" stop-color="#20908c" stop-opacity="0.115"/><stop offset="1.00" stop-color="#20908c" stop-opacity="0.034"/></radialGradient><radialGradient id="hb2g1"><stop offset="0.00" stop-color="#218d8c" stop-opacity="1.000"/><stop offset="0.20" stop-color="#218d8c" stop-opacity="0.874"/><stop offset="0.40" stop-color="#218d8c" stop-opacity="0.582"/><stop offset="0.60" stop-color="#218d8c" stop-opacity="0.296"/><stop offset="0.80" stop-color="#218d8c" stop-opacity="0.115"/><stop offset="1.00" stop-color="#218d8c" stop-opacity="0.034"/></radialGradient><radialGradient id="hb2g2"><stop offset="0.00" stop-color="#423e85" stop-opacity="1.000"/><stop offset="0.20" stop-color="#423e85" stop-opacity="0.874"/><stop offset="0.40" stop-color="#423e85" stop-opacity="0.582"/><stop offset="0.60" stop-color="#423e85" stop-opacity="0.296"/><stop offset="0.80" stop-color="#423e85" stop-opacity="0.115"/><stop offset="1.00" stop-color="#423e85" stop-opacity="0.034"/></radialGradient><radialGradient id="hb2g3"><stop offset="0.00" stop-color="#3c4e8a" stop-opacity="1.000"/><stop offset="0.20" stop-color="#3c4e8a" stop-opacity="0.874"/><stop offset="0.40" stop-color="#3c4e8a" stop-opacity="0.582"/><stop offset="0.60" stop-color="#3c4e8a" stop-opacity="0.296"/><stop offset="0.80" stop-color="#3c4e8a" stop-opacity="0.115"/><stop offset="1.00" stop-color="#3c4e8a" stop-opacity="0.034"/></radialGradient><radialGradient id="hb2g4"><stop offset="0.00" stop-color="#2a758e" stop-opacity="1.000"/><stop offset="0.20" stop-color="#2a758e" stop-opacity="0.874"/><stop offset="0.40" stop-color="#2a758e" stop-opacity="0.582"/><stop offset="0.60" stop-color="#2a758e" stop-opacity="0.296"/><stop offset="0.80" stop-color="#2a758e" stop-opacity="0.115"/><stop offset="1.00" stop-color="#2a758e" stop-opacity="0.034"/></radialGradient><radialGradient id="hb2g5"><stop offset="0.00" stop-color="#267f8e" stop-opacity="1.000"/><stop offset="0.20" stop-color="#267f8e" stop-opacity="0.874"/><stop offset="0.40" stop-color="#267f8e" stop-opacity="0.582"/><stop offset="0.60" stop-color="#267f8e" stop-opacity="0.296"/><stop offset="0.80" stop-color="#267f8e" stop-opacity="0.115"/><stop offset="1.00" stop-color="#267f8e" stop-opacity="0.034"/></radialGradient><radialGradient id="hb2g6"><stop offset="0.00" stop-color="#440154" stop-opacity="1.000"/><stop offset="0.20" stop-color="#440154" stop-opacity="0.874"/><stop offset="0.40" stop-color="#440154" stop-opacity="0.582"/><stop offset="0.60" stop-color="#440154" stop-opacity="0.296"/><stop offset="0.80" stop-color="#440154" stop-opacity="0.115"/><stop offset="1.00" stop-color="#440154" stop-opacity="0.034"/></radialGradient><radialGradient id="hb2g7"><stop offset="0.00" stop-color="#f3e51e" stop-opacity="1.000"/><stop offset="0.20" stop-color="#f3e51e" stop-opacity="0.874"/><stop offset="0.40" stop-color="#f3e51e" stop-opacity="0.582"/><stop offset="0.60" stop-color="#f3e51e" stop-opacity="0.296"/><stop offset="0.80" stop-color="#f3e51e" stop-opacity="0.115"/><stop offset="1.00" stop-color="#f3e51e" stop-opacity="0.034"/></radialGradient><radialGradient id="hb2g8"><stop offset="0.00" stop-color="#f8e621" stop-opacity="1.000"/><stop offset="0.20" stop-color="#f8e621" stop-opacity="0.874"/><stop offset="0.40" stop-color="#f8e621" stop-opacity="0.582"/><stop offset="0.60" stop-color="#f8e621" stop-opacity="0.296"/><stop offset="0.80" stop-color="#f8e621" stop-opacity="0.115"/><stop offset="1.00" stop-color="#f8e621" stop-opacity="0.034"/></radialGradient></defs>
<g clip-path="url(#chb2)"><g filter="url(#hb2)"><rect x="301.5" y="98.3" width="4.66" height="4.51" fill="#3c4d8a"/><rect x="305.56" y="98.3" width="4.66" height="4.51" fill="#3e4888"/><rect x="309.62" y="98.3" width="4.66" height="4.51" fill="#3d4c89"/><rect x="313.69" y="98.3" width="4.66" height="4.51" fill="#32638d"/><rect x="317.75" y="98.3" width="4.66" height="4.51" fill="#32638d"/><rect x="321.81" y="98.3" width="4.66" height="4.51" fill="#39558b"/><rect x="325.88" y="98.3" width="4.66" height="4.51" fill="#3d4c89"/><rect x="329.94" y="98.3" width="4.66" height="4.51" fill="#3c4d8a"/><rect x="334" y="98.3" width="4.66" height="4.51" fill="#3b518a"/><rect x="338.06" y="98.3" width="4.66" height="4.51" fill="#3a528b"/><rect x="342.12" y="98.3" width="4.66" height="4.51" fill="#3c4e8a"/><rect x="346.19" y="98.3" width="4.66" height="4.51" fill="#345f8d"/><rect x="350.25" y="98.3" width="4.66" height="4.51" fill="#30688d"/><rect x="354.31" y="98.3" width="4.66" height="4.51" fill="#2f698d"/><rect x="358.38" y="98.3" width="4.66" height="4.51" fill="#2a758e"/><rect x="362.44" y="98.3" width="4.66" height="4.51" fill="#277c8e"/><rect x="301.5" y="102.21" width="4.66" height="4.51" fill="#443982"/><rect x="305.56" y="102.21" width="4.66" height="4.51" fill="#424085"/><rect x="309.62" y="102.21" width="4.66" height="4.51" fill="#3d4a89"/><rect x="313.69" y="102.21" width="4.66" height="4.51" fill="#31648d"/><rect x="317.75" y="102.21" width="4.66" height="4.51" fill="#345f8d"/><rect x="321.81" y="102.21" width="4.66" height="4.51" fill="#37588c"/><rect x="325.88" y="102.21" width="4.66" height="4.51" fill="#38578c"/><rect x="329.94" y="102.21" width="4.66" height="4.51" fill="#3b508a"/><rect x="334" y="102.21" width="4.66" height="4.51" fill="#3f4788"/><rect x="338.06" y="102.21" width="4.66" height="4.51" fill="#3c4e8a"/><rect x="342.12" y="102.21" width="4.66" height="4.51" fill="#37588c"/><rect x="346.19" y="102.21" width="4.66" height="4.51" fill="#31668d"/><rect x="350.25" y="102.21" width="4.66" height="4.51" fill="#30678d"/><rect x="354.31" y="102.21" width="4.66" height="4.51" fill="#31658d"/><rect x="358.38" y="102.21" width="4.66" height="4.51" fill="#2c708e"/><rect x="362.44" y="102.21" width="4.66" height="4.51" fill="#2a778e"/><rect x="301.5" y="106.12" width="4.66" height="4.51" fill="#46317e"/><rect x="305.56" y="106.12" width="4.66" height="4.51" fill="#423e85"/><rect x="309.62" y="106.12" width="4.66" height="4.51" fill="#3d4c89"/><rect x="313.69" y="106.12" width="4.66" height="4.51" fill="#33618d"/><rect x="317.75" y="106.12" width="4.66" height="4.51" fill="#345e8d"/><rect x="321.81" y="106.12" width="4.66" height="4.51" fill="#38568b"/><rect x="325.88" y="106.12" width="4.66" height="4.51" fill="#365a8c"/><rect x="329.94" y="106.12" width="4.66" height="4.51" fill="#355d8c"/><rect x="334" y="106.12" width="4.66" height="4.51" fill="#38568b"/><rect x="338.06" y="106.12" width="4.66" height="4.51" fill="#37588c"/><rect x="342.12" y="106.12" width="4.66" height="4.51" fill="#37598c"/><rect x="346.19" y="106.12" width="4.66" height="4.51" fill="#39558b"/><rect x="350.25" y="106.12" width="4.66" height="4.51" fill="#365a8c"/><rect x="354.31" y="106.12" width="4.66" height="4.51" fill="#2e6d8e"/><rect x="358.38" y="106.12" width="4.66" height="4.51" fill="#30678d"/><rect x="362.44" y="106.12" width="4.66" height="4.51" fill="#32638d"/><rect x="301.5" y="110.03" width="4.66" height="4.51" fill="#46317e"/><rect x="305.56" y="110.03" width="4.66" height="4.51" fill="#433c84"/><rect x="309.62" y="110.03" width="4.66" height="4.51" fill="#37598c"/><rect x="313.69" y="110.03" width="4.66" height="4.51" fill="#31658d"/><rect x="317.75" y="110.03" width="4.66" height="4.51" fill="#2f698d"/><rect x="321.81" y="110.03" width="4.66" height="4.51" fill="#30688d"/><rect x="325.88" y="110.03" width="4.66" height="4.51" fill="#2f698d"/><rect x="329.94" y="110.03" width="4.66" height="4.51" fill="#2c708e"/><rect x="334" y="110.03" width="4.66" height="4.51" fill="#2e6c8e"/><rect x="338.06" y="110.03" width="4.66" height="4.51" fill="#31648d"/><rect x="342.12" y="110.03" width="4.66" height="4.51" fill="#37598c"/><rect x="346.19" y="110.03" width="4.66" height="4.51" fill="#3c4e8a"/><rect x="350.25" y="110.03" width="4.66" height="4.51" fill="#3d4b89"/><rect x="354.31" y="110.03" width="4.66" height="4.51" fill="#33608d"/><rect x="358.38" y="110.03" width="4.66" height="4.51" fill="#3b518a"/><rect x="362.44" y="110.03" width="4.66" height="4.51" fill="#39558b"/><rect x="301.5" y="113.94" width="4.66" height="4.51" fill="#46307d"/><rect x="305.56" y="113.94" width="4.66" height="4.51" fill="#443982"/><rect x="309.62" y="113.94" width="4.66" height="4.51" fill="#38578c"/><rect x="313.69" y="113.94" width="4.66" height="4.51" fill="#32638d"/><rect x="317.75" y="113.94" width="4.66" height="4.51" fill="#31668d"/><rect x="321.81" y="113.94" width="4.66" height="4.51" fill="#2f6a8d"/><rect x="325.88" y="113.94" width="4.66" height="4.51" fill="#30678d"/><rect x="329.94" y="113.94" width="4.66" height="4.51" fill="#2c708e"/><rect x="334" y="113.94" width="4.66" height="4.51" fill="#287a8e"/><rect x="338.06" y="113.94" width="4.66" height="4.51" fill="#287b8e"/><rect x="342.12" y="113.94" width="4.66" height="4.51" fill="#2d6f8e"/><rect x="346.19" y="113.94" width="4.66" height="4.51" fill="#33608d"/><rect x="350.25" y="113.94" width="4.66" height="4.51" fill="#39558b"/><rect x="354.31" y="113.94" width="4.66" height="4.51" fill="#3c4d8a"/><rect x="358.38" y="113.94" width="4.66" height="4.51" fill="#443781"/><rect x="362.44" y="113.94" width="4.66" height="4.51" fill="#3f4788"/><rect x="301.5" y="117.85" width="4.66" height="4.51" fill="#3f4587"/><rect x="305.56" y="117.85" width="4.66" height="4.51" fill="#3d4b89"/><rect x="309.62" y="117.85" width="4.66" height="4.51" fill="#355c8c"/><rect x="313.69" y="117.85" width="4.66" height="4.51" fill="#2f698d"/><rect x="317.75" y="117.85" width="4.66" height="4.51" fill="#2f698d"/><rect x="321.81" y="117.85" width="4.66" height="4.51" fill="#2e6c8e"/><rect x="325.88" y="117.85" width="4.66" height="4.51" fill="#31648d"/><rect x="329.94" y="117.85" width="4.66" height="4.51" fill="#30678d"/><rect x="334" y="117.85" width="4.66" height="4.51" fill="#2a778e"/><rect x="338.06" y="117.85" width="4.66" height="4.51" fill="#287b8e"/><rect x="342.12" y="117.85" width="4.66" height="4.51" fill="#2b748e"/><rect x="346.19" y="117.85" width="4.66" height="4.51" fill="#31658d"/><rect x="350.25" y="117.85" width="4.66" height="4.51" fill="#37588c"/><rect x="354.31" y="117.85" width="4.66" height="4.51" fill="#423d84"/><rect x="358.38" y="117.85" width="4.66" height="4.51" fill="#472676"/><rect x="362.44" y="117.85" width="4.66" height="4.51" fill="#46317e"/><rect x="301.5" y="121.75" width="4.66" height="4.51" fill="#3e4989"/><rect x="305.56" y="121.75" width="4.66" height="4.51" fill="#3a538b"/><rect x="309.62" y="121.75" width="4.66" height="4.51" fill="#37588c"/><rect x="313.69" y="121.75" width="4.66" height="4.51" fill="#345e8d"/><rect x="317.75" y="121.75" width="4.66" height="4.51" fill="#2e6c8e"/><rect x="321.81" y="121.75" width="4.66" height="4.51" fill="#2d6f8e"/><rect x="325.88" y="121.75" width="4.66" height="4.51" fill="#2f6a8d"/><rect x="329.94" y="121.75" width="4.66" height="4.51" fill="#2f698d"/><rect x="334" y="121.75" width="4.66" height="4.51" fill="#2c718e"/><rect x="338.06" y="121.75" width="4.66" height="4.51" fill="#2f6a8d"/><rect x="342.12" y="121.75" width="4.66" height="4.51" fill="#31658d"/><rect x="346.19" y="121.75" width="4.66" height="4.51" fill="#2f698d"/><rect x="350.25" y="121.75" width="4.66" height="4.51" fill="#32628d"/><rect x="354.31" y="121.75" width="4.66" height="4.51" fill="#3f4587"/><rect x="358.38" y="121.75" width="4.66" height="4.51" fill="#472575"/><rect x="362.44" y="121.75" width="4.66" height="4.51" fill="#481e70"/><rect x="301.5" y="125.66" width="4.66" height="4.51" fill="#38568b"/><rect x="305.56" y="125.66" width="4.66" height="4.51" fill="#32638d"/><rect x="309.62" y="125.66" width="4.66" height="4.51" fill="#345f8d"/><rect x="313.69" y="125.66" width="4.66" height="4.51" fill="#365b8c"/><rect x="317.75" y="125.66" width="4.66" height="4.51" fill="#2f6a8d"/><rect x="321.81" y="125.66" width="4.66" height="4.51" fill="#32638d"/><rect x="325.88" y="125.66" width="4.66" height="4.51" fill="#31648d"/><rect x="329.94" y="125.66" width="4.66" height="4.51" fill="#33618d"/><rect x="334" y="125.66" width="4.66" height="4.51" fill="#345e8d"/><rect x="338.06" y="125.66" width="4.66" height="4.51" fill="#31648d"/><rect x="342.12" y="125.66" width="4.66" height="4.51" fill="#31668d"/><rect x="346.19" y="125.66" width="4.66" height="4.51" fill="#30688d"/><rect x="350.25" y="125.66" width="4.66" height="4.51" fill="#30688d"/><rect x="354.31" y="125.66" width="4.66" height="4.51" fill="#3a538b"/><rect x="358.38" y="125.66" width="4.66" height="4.51" fill="#46307d"/><rect x="362.44" y="125.66" width="4.66" height="4.51" fill="#482273"/><rect x="301.5" y="129.57" width="4.66" height="4.51" fill="#2c708e"/><rect x="305.56" y="129.57" width="4.66" height="4.51" fill="#2c718e"/><rect x="309.62" y="129.57" width="4.66" height="4.51" fill="#33608d"/><rect x="313.69" y="129.57" width="4.66" height="4.51" fill="#365b8c"/><rect x="317.75" y="129.57" width="4.66" height="4.51" fill="#30688d"/><rect x="321.81" y="129.57" width="4.66" height="4.51" fill="#30688d"/><rect x="325.88" y="129.57" width="4.66" height="4.51" fill="#2d6e8e"/><rect x="329.94" y="129.57" width="4.66" height="4.51" fill="#345f8d"/><rect x="334" y="129.57" width="4.66" height="4.51" fill="#365a8c"/><rect x="338.06" y="129.57" width="4.66" height="4.51" fill="#2e6c8e"/><rect x="342.12" y="129.57" width="4.66" height="4.51" fill="#30678d"/><rect x="346.19" y="129.57" width="4.66" height="4.51" fill="#345e8d"/><rect x="350.25" y="129.57" width="4.66" height="4.51" fill="#33618d"/><rect x="354.31" y="129.57" width="4.66" height="4.51" fill="#37588c"/><rect x="358.38" y="129.57" width="4.66" height="4.51" fill="#3f4788"/><rect x="362.44" y="129.57" width="4.66" height="4.51" fill="#472c7b"/><rect x="301.5" y="133.48" width="4.66" height="4.51" fill="#26808e"/><rect x="305.56" y="133.48" width="4.66" height="4.51" fill="#23878d"/><rect x="309.62" y="133.48" width="4.66" height="4.51" fill="#2f6a8d"/><rect x="313.69" y="133.48" width="4.66" height="4.51" fill="#38568b"/><rect x="317.75" y="133.48" width="4.66" height="4.51" fill="#31668d"/><rect x="321.81" y="133.48" width="4.66" height="4.51" fill="#2a768e"/><rect x="325.88" y="133.48" width="4.66" height="4.51" fill="#26818e"/><rect x="329.94" y="133.48" width="4.66" height="4.51" fill="#287a8e"/><rect x="334" y="133.48" width="4.66" height="4.51" fill="#29788e"/><rect x="338.06" y="133.48" width="4.66" height="4.51" fill="#26808e"/><rect x="342.12" y="133.48" width="4.66" height="4.51" fill="#2a758e"/><rect x="346.19" y="133.48" width="4.66" height="4.51" fill="#31648d"/><rect x="350.25" y="133.48" width="4.66" height="4.51" fill="#31668d"/><rect x="354.31" y="133.48" width="4.66" height="4.51" fill="#33618d"/><rect x="358.38" y="133.48" width="4.66" height="4.51" fill="#37588c"/><rect x="362.44" y="133.48" width="4.66" height="4.51" fill="#414286"/><rect x="301.5" y="137.39" width="4.66" height="4.51" fill="#23878d"/><rect x="305.56" y="137.39" width="4.66" height="4.51" fill="#26818e"/><rect x="309.62" y="137.39" width="4.66" height="4.51" fill="#2c708e"/><rect x="313.69" y="137.39" width="4.66" height="4.51" fill="#345f8d"/><rect x="317.75" y="137.39" width="4.66" height="4.51" fill="#31648d"/><rect x="321.81" y="137.39" width="4.66" height="4.51" fill="#2a768e"/><rect x="325.88" y="137.39" width="4.66" height="4.51" fill="#23878d"/><rect x="329.94" y="137.39" width="4.66" height="4.51" fill="#218e8c"/><rect x="334" y="137.39" width="4.66" height="4.51" fill="#1f968b"/><rect x="338.06" y="137.39" width="4.66" height="4.51" fill="#218d8c"/><rect x="342.12" y="137.39" width="4.66" height="4.51" fill="#25838d"/><rect x="346.19" y="137.39" width="4.66" height="4.51" fill="#277d8e"/><rect x="350.25" y="137.39" width="4.66" height="4.51" fill="#2c708e"/><rect x="354.31" y="137.39" width="4.66" height="4.51" fill="#30678d"/><rect x="358.38" y="137.39" width="4.66" height="4.51" fill="#38578c"/><rect x="362.44" y="137.39" width="4.66" height="4.51" fill="#3d4b89"/></g><ellipse cx="337.25" cy="110.34" rx="8.32" ry="8.32" fill="url(#hb2g0)"/><ellipse cx="332.05" cy="124.1" rx="8.32" ry="8.32" fill="url(#hb2g1)"/><ellipse cx="353.5" cy="104.75" rx="7.8" ry="7.8" fill="url(#hb2g2)"/><ellipse cx="321" cy="111.2" rx="7.8" ry="7.8" fill="url(#hb2g3)"/><ellipse cx="302.8" cy="117.65" rx="6.5" ry="6.5" fill="url(#hb2g4)"/><ellipse cx="355.45" cy="119.8" rx="6.5" ry="6.5" fill="url(#hb2g5)"/><ellipse cx="314.5" cy="136.14" rx="5.72" ry="5.72" fill="url(#hb2g6)"/><ellipse cx="337.25" cy="110.34" rx="3.9" ry="3.9" fill="url(#hb2g7)"/><ellipse cx="332.05" cy="124.1" rx="3.9" ry="3.9" fill="url(#hb2g8)"/></g>
<defs><filter id="hb3" x="-5%" y="-5%" width="110%" height="110%"><feGaussianBlur stdDeviation="0.9"/></filter><clipPath id="chb3"><rect x="301.5" y="145.6" width="65" height="42.9"/></clipPath><radialGradient id="hb3g0"><stop offset="0.00" stop-color="#1f948b" stop-opacity="1.000"/><stop offset="0.20" stop-color="#1f948b" stop-opacity="0.874"/><stop offset="0.40" stop-color="#1f948b" stop-opacity="0.582"/><stop offset="0.60" stop-color="#1f948b" stop-opacity="0.296"/><stop offset="0.80" stop-color="#1f948b" stop-opacity="0.115"/><stop offset="1.00" stop-color="#1f948b" stop-opacity="0.034"/></radialGradient><radialGradient id="hb3g1"><stop offset="0.00" stop-color="#1f948b" stop-opacity="1.000"/><stop offset="0.20" stop-color="#1f948b" stop-opacity="0.874"/><stop offset="0.40" stop-color="#1f948b" stop-opacity="0.582"/><stop offset="0.60" stop-color="#1f948b" stop-opacity="0.296"/><stop offset="0.80" stop-color="#1f948b" stop-opacity="0.115"/><stop offset="1.00" stop-color="#1f948b" stop-opacity="0.034"/></radialGradient><radialGradient id="hb3g2"><stop offset="0.00" stop-color="#440154" stop-opacity="1.000"/><stop offset="0.20" stop-color="#440154" stop-opacity="0.874"/><stop offset="0.40" stop-color="#440154" stop-opacity="0.582"/><stop offset="0.60" stop-color="#440154" stop-opacity="0.296"/><stop offset="0.80" stop-color="#440154" stop-opacity="0.115"/><stop offset="1.00" stop-color="#440154" stop-opacity="0.034"/></radialGradient><radialGradient id="hb3g3"><stop offset="0.00" stop-color="#472878" stop-opacity="1.000"/><stop offset="0.20" stop-color="#472878" stop-opacity="0.874"/><stop offset="0.40" stop-color="#472878" stop-opacity="0.582"/><stop offset="0.60" stop-color="#472878" stop-opacity="0.296"/><stop offset="0.80" stop-color="#472878" stop-opacity="0.115"/><stop offset="1.00" stop-color="#472878" stop-opacity="0.034"/></radialGradient><radialGradient id="hb3g4"><stop offset="0.00" stop-color="#472676" stop-opacity="1.000"/><stop offset="0.20" stop-color="#472676" stop-opacity="0.874"/><stop offset="0.40" stop-color="#472676" stop-opacity="0.582"/><stop offset="0.60" stop-color="#472676" stop-opacity="0.296"/><stop offset="0.80" stop-color="#472676" stop-opacity="0.115"/><stop offset="1.00" stop-color="#472676" stop-opacity="0.034"/></radialGradient><radialGradient id="hb3g5"><stop offset="0.00" stop-color="#fde724" stop-opacity="1.000"/><stop offset="0.20" stop-color="#fde724" stop-opacity="0.874"/><stop offset="0.40" stop-color="#fde724" stop-opacity="0.582"/><stop offset="0.60" stop-color="#fde724" stop-opacity="0.296"/><stop offset="0.80" stop-color="#fde724" stop-opacity="0.115"/><stop offset="1.00" stop-color="#fde724" stop-opacity="0.034"/></radialGradient><radialGradient id="hb3g6"><stop offset="0.00" stop-color="#fde724" stop-opacity="1.000"/><stop offset="0.20" stop-color="#fde724" stop-opacity="0.874"/><stop offset="0.40" stop-color="#fde724" stop-opacity="0.582"/><stop offset="0.60" stop-color="#fde724" stop-opacity="0.296"/><stop offset="0.80" stop-color="#fde724" stop-opacity="0.115"/><stop offset="1.00" stop-color="#fde724" stop-opacity="0.034"/></radialGradient></defs>
<g clip-path="url(#chb3)"><g filter="url(#hb3)"><rect x="301.5" y="145.6" width="4.66" height="4.5" fill="#32638d"/><rect x="305.56" y="145.6" width="4.66" height="4.5" fill="#30688d"/><rect x="309.62" y="145.6" width="4.66" height="4.5" fill="#30688d"/><rect x="313.69" y="145.6" width="4.66" height="4.5" fill="#32628d"/><rect x="317.75" y="145.6" width="4.66" height="4.5" fill="#2d6e8e"/><rect x="321.81" y="145.6" width="4.66" height="4.5" fill="#2d6f8e"/><rect x="325.88" y="145.6" width="4.66" height="4.5" fill="#31658d"/><rect x="329.94" y="145.6" width="4.66" height="4.5" fill="#365b8c"/><rect x="334" y="145.6" width="4.66" height="4.5" fill="#3e4989"/><rect x="338.06" y="145.6" width="4.66" height="4.5" fill="#3d4b89"/><rect x="342.12" y="145.6" width="4.66" height="4.5" fill="#37588c"/><rect x="346.19" y="145.6" width="4.66" height="4.5" fill="#2c708e"/><rect x="350.25" y="145.6" width="4.66" height="4.5" fill="#26808e"/><rect x="354.31" y="145.6" width="4.66" height="4.5" fill="#26808e"/><rect x="358.38" y="145.6" width="4.66" height="4.5" fill="#277c8e"/><rect x="362.44" y="145.6" width="4.66" height="4.5" fill="#2b738e"/><rect x="301.5" y="149.5" width="4.66" height="4.5" fill="#345f8d"/><rect x="305.56" y="149.5" width="4.66" height="4.5" fill="#33608d"/><rect x="309.62" y="149.5" width="4.66" height="4.5" fill="#345e8d"/><rect x="313.69" y="149.5" width="4.66" height="4.5" fill="#345e8d"/><rect x="317.75" y="149.5" width="4.66" height="4.5" fill="#2c708e"/><rect x="321.81" y="149.5" width="4.66" height="4.5" fill="#29788e"/><rect x="325.88" y="149.5" width="4.66" height="4.5" fill="#2d6e8e"/><rect x="329.94" y="149.5" width="4.66" height="4.5" fill="#32638d"/><rect x="334" y="149.5" width="4.66" height="4.5" fill="#365b8c"/><rect x="338.06" y="149.5" width="4.66" height="4.5" fill="#365a8c"/><rect x="342.12" y="149.5" width="4.66" height="4.5" fill="#345f8d"/><rect x="346.19" y="149.5" width="4.66" height="4.5" fill="#2e6c8e"/><rect x="350.25" y="149.5" width="4.66" height="4.5" fill="#287a8e"/><rect x="354.31" y="149.5" width="4.66" height="4.5" fill="#24848d"/><rect x="358.38" y="149.5" width="4.66" height="4.5" fill="#23888d"/><rect x="362.44" y="149.5" width="4.66" height="4.5" fill="#23878d"/><rect x="301.5" y="153.4" width="4.66" height="4.5" fill="#38568b"/><rect x="305.56" y="153.4" width="4.66" height="4.5" fill="#37598c"/><rect x="309.62" y="153.4" width="4.66" height="4.5" fill="#365a8c"/><rect x="313.69" y="153.4" width="4.66" height="4.5" fill="#2f698d"/><rect x="317.75" y="153.4" width="4.66" height="4.5" fill="#2b738e"/><rect x="321.81" y="153.4" width="4.66" height="4.5" fill="#267f8e"/><rect x="325.88" y="153.4" width="4.66" height="4.5" fill="#29798e"/><rect x="329.94" y="153.4" width="4.66" height="4.5" fill="#2c718e"/><rect x="334" y="153.4" width="4.66" height="4.5" fill="#2f6a8d"/><rect x="338.06" y="153.4" width="4.66" height="4.5" fill="#31658d"/><rect x="342.12" y="153.4" width="4.66" height="4.5" fill="#30678d"/><rect x="346.19" y="153.4" width="4.66" height="4.5" fill="#31658d"/><rect x="350.25" y="153.4" width="4.66" height="4.5" fill="#2e6b8e"/><rect x="354.31" y="153.4" width="4.66" height="4.5" fill="#2a768e"/><rect x="358.38" y="153.4" width="4.66" height="4.5" fill="#26808e"/><rect x="362.44" y="153.4" width="4.66" height="4.5" fill="#218d8c"/><rect x="301.5" y="157.3" width="4.66" height="4.5" fill="#38568b"/><rect x="305.56" y="157.3" width="4.66" height="4.5" fill="#2e6b8e"/><rect x="309.62" y="157.3" width="4.66" height="4.5" fill="#30678d"/><rect x="313.69" y="157.3" width="4.66" height="4.5" fill="#2a758e"/><rect x="317.75" y="157.3" width="4.66" height="4.5" fill="#267f8e"/><rect x="321.81" y="157.3" width="4.66" height="4.5" fill="#24858d"/><rect x="325.88" y="157.3" width="4.66" height="4.5" fill="#24858d"/><rect x="329.94" y="157.3" width="4.66" height="4.5" fill="#277c8e"/><rect x="334" y="157.3" width="4.66" height="4.5" fill="#2d6f8e"/><rect x="338.06" y="157.3" width="4.66" height="4.5" fill="#2c708e"/><rect x="342.12" y="157.3" width="4.66" height="4.5" fill="#29788e"/><rect x="346.19" y="157.3" width="4.66" height="4.5" fill="#30678d"/><rect x="350.25" y="157.3" width="4.66" height="4.5" fill="#30688d"/><rect x="354.31" y="157.3" width="4.66" height="4.5" fill="#2c708e"/><rect x="358.38" y="157.3" width="4.66" height="4.5" fill="#2a778e"/><rect x="362.44" y="157.3" width="4.66" height="4.5" fill="#287b8e"/><rect x="301.5" y="161.2" width="4.66" height="4.5" fill="#345e8d"/><rect x="305.56" y="161.2" width="4.66" height="4.5" fill="#25828e"/><rect x="309.62" y="161.2" width="4.66" height="4.5" fill="#208f8c"/><rect x="313.69" y="161.2" width="4.66" height="4.5" fill="#218e8c"/><rect x="317.75" y="161.2" width="4.66" height="4.5" fill="#20908c"/><rect x="321.81" y="161.2" width="4.66" height="4.5" fill="#20918c"/><rect x="325.88" y="161.2" width="4.66" height="4.5" fill="#23898d"/><rect x="329.94" y="161.2" width="4.66" height="4.5" fill="#24848d"/><rect x="334" y="161.2" width="4.66" height="4.5" fill="#287b8e"/><rect x="338.06" y="161.2" width="4.66" height="4.5" fill="#287b8e"/><rect x="342.12" y="161.2" width="4.66" height="4.5" fill="#2a768e"/><rect x="346.19" y="161.2" width="4.66" height="4.5" fill="#345f8d"/><rect x="350.25" y="161.2" width="4.66" height="4.5" fill="#31648d"/><rect x="354.31" y="161.2" width="4.66" height="4.5" fill="#2d6e8e"/><rect x="358.38" y="161.2" width="4.66" height="4.5" fill="#2c728e"/><rect x="362.44" y="161.2" width="4.66" height="4.5" fill="#2b748e"/><rect x="301.5" y="165.1" width="4.66" height="4.5" fill="#31648d"/><rect x="305.56" y="165.1" width="4.66" height="4.5" fill="#26818e"/><rect x="309.62" y="165.1" width="4.66" height="4.5" fill="#1e9e88"/><rect x="313.69" y="165.1" width="4.66" height="4.5" fill="#1e988a"/><rect x="317.75" y="165.1" width="4.66" height="4.5" fill="#218d8c"/><rect x="321.81" y="165.1" width="4.66" height="4.5" fill="#23888d"/><rect x="325.88" y="165.1" width="4.66" height="4.5" fill="#277c8e"/><rect x="329.94" y="165.1" width="4.66" height="4.5" fill="#287a8e"/><rect x="334" y="165.1" width="4.66" height="4.5" fill="#277c8e"/><rect x="338.06" y="165.1" width="4.66" height="4.5" fill="#26818e"/><rect x="342.12" y="165.1" width="4.66" height="4.5" fill="#2d6f8e"/><rect x="346.19" y="165.1" width="4.66" height="4.5" fill="#31658d"/><rect x="350.25" y="165.1" width="4.66" height="4.5" fill="#2e6c8e"/><rect x="354.31" y="165.1" width="4.66" height="4.5" fill="#2c708e"/><rect x="358.38" y="165.1" width="4.66" height="4.5" fill="#2b748e"/><rect x="362.44" y="165.1" width="4.66" height="4.5" fill="#2d6f8e"/><rect x="301.5" y="169" width="4.66" height="4.5" fill="#2a768e"/><rect x="305.56" y="169" width="4.66" height="4.5" fill="#26818e"/><rect x="309.62" y="169" width="4.66" height="4.5" fill="#20918c"/><rect x="313.69" y="169" width="4.66" height="4.5" fill="#218c8d"/><rect x="317.75" y="169" width="4.66" height="4.5" fill="#24848d"/><rect x="321.81" y="169" width="4.66" height="4.5" fill="#2b738e"/><rect x="325.88" y="169" width="4.66" height="4.5" fill="#2e6d8e"/><rect x="329.94" y="169" width="4.66" height="4.5" fill="#2f6a8d"/><rect x="334" y="169" width="4.66" height="4.5" fill="#2c718e"/><rect x="338.06" y="169" width="4.66" height="4.5" fill="#2b738e"/><rect x="342.12" y="169" width="4.66" height="4.5" fill="#2e6b8e"/><rect x="346.19" y="169" width="4.66" height="4.5" fill="#31648d"/><rect x="350.25" y="169" width="4.66" height="4.5" fill="#2c728e"/><rect x="354.31" y="169" width="4.66" height="4.5" fill="#29798e"/><rect x="358.38" y="169" width="4.66" height="4.5" fill="#2a758e"/><rect x="362.44" y="169" width="4.66" height="4.5" fill="#2a758e"/><rect x="301.5" y="172.9" width="4.66" height="4.5" fill="#2d6e8e"/><rect x="305.56" y="172.9" width="4.66" height="4.5" fill="#287b8e"/><rect x="309.62" y="172.9" width="4.66" height="4.5" fill="#23898d"/><rect x="313.69" y="172.9" width="4.66" height="4.5" fill="#26818e"/><rect x="317.75" y="172.9" width="4.66" height="4.5" fill="#287b8e"/><rect x="321.81" y="172.9" width="4.66" height="4.5" fill="#2c728e"/><rect x="325.88" y="172.9" width="4.66" height="4.5" fill="#30688d"/><rect x="329.94" y="172.9" width="4.66" height="4.5" fill="#31648d"/><rect x="334" y="172.9" width="4.66" height="4.5" fill="#30688d"/><rect x="338.06" y="172.9" width="4.66" height="4.5" fill="#31658d"/><rect x="342.12" y="172.9" width="4.66" height="4.5" fill="#30688d"/><rect x="346.19" y="172.9" width="4.66" height="4.5" fill="#345e8d"/><rect x="350.25" y="172.9" width="4.66" height="4.5" fill="#355d8c"/><rect x="354.31" y="172.9" width="4.66" height="4.5" fill="#32638d"/><rect x="358.38" y="172.9" width="4.66" height="4.5" fill="#2d6e8e"/><rect x="362.44" y="172.9" width="4.66" height="4.5" fill="#287b8e"/><rect x="301.5" y="176.8" width="4.66" height="4.5" fill="#32628d"/><rect x="305.56" y="176.8" width="4.66" height="4.5" fill="#30688d"/><rect x="309.62" y="176.8" width="4.66" height="4.5" fill="#277c8e"/><rect x="313.69" y="176.8" width="4.66" height="4.5" fill="#25828e"/><rect x="317.75" y="176.8" width="4.66" height="4.5" fill="#277c8e"/><rect x="321.81" y="176.8" width="4.66" height="4.5" fill="#287b8e"/><rect x="325.88" y="176.8" width="4.66" height="4.5" fill="#2b748e"/><rect x="329.94" y="176.8" width="4.66" height="4.5" fill="#2d6f8e"/><rect x="334" y="176.8" width="4.66" height="4.5" fill="#2f698d"/><rect x="338.06" y="176.8" width="4.66" height="4.5" fill="#30678d"/><rect x="342.12" y="176.8" width="4.66" height="4.5" fill="#33608d"/><rect x="346.19" y="176.8" width="4.66" height="4.5" fill="#3c4d8a"/><rect x="350.25" y="176.8" width="4.66" height="4.5" fill="#38578c"/><rect x="354.31" y="176.8" width="4.66" height="4.5" fill="#345e8d"/><rect x="358.38" y="176.8" width="4.66" height="4.5" fill="#30678d"/><rect x="362.44" y="176.8" width="4.66" height="4.5" fill="#30678d"/><rect x="301.5" y="180.7" width="4.66" height="4.5" fill="#2d6f8e"/><rect x="305.56" y="180.7" width="4.66" height="4.5" fill="#2e6d8e"/><rect x="309.62" y="180.7" width="4.66" height="4.5" fill="#287b8e"/><rect x="313.69" y="180.7" width="4.66" height="4.5" fill="#25828e"/><rect x="317.75" y="180.7" width="4.66" height="4.5" fill="#2a758e"/><rect x="321.81" y="180.7" width="4.66" height="4.5" fill="#2f698d"/><rect x="325.88" y="180.7" width="4.66" height="4.5" fill="#2c728e"/><rect x="329.94" y="180.7" width="4.66" height="4.5" fill="#287a8e"/><rect x="334" y="180.7" width="4.66" height="4.5" fill="#2b738e"/><rect x="338.06" y="180.7" width="4.66" height="4.5" fill="#2d6f8e"/><rect x="342.12" y="180.7" width="4.66" height="4.5" fill="#31658d"/><rect x="346.19" y="180.7" width="4.66" height="4.5" fill="#3c4e8a"/><rect x="350.25" y="180.7" width="4.66" height="4.5" fill="#345e8d"/><rect x="354.31" y="180.7" width="4.66" height="4.5" fill="#2f6a8d"/><rect x="358.38" y="180.7" width="4.66" height="4.5" fill="#33618d"/><rect x="362.44" y="180.7" width="4.66" height="4.5" fill="#38578c"/><rect x="301.5" y="184.6" width="4.66" height="4.5" fill="#32638d"/><rect x="305.56" y="184.6" width="4.66" height="4.5" fill="#30678d"/><rect x="309.62" y="184.6" width="4.66" height="4.5" fill="#2a758e"/><rect x="313.69" y="184.6" width="4.66" height="4.5" fill="#29788e"/><rect x="317.75" y="184.6" width="4.66" height="4.5" fill="#2a758e"/><rect x="321.81" y="184.6" width="4.66" height="4.5" fill="#31658d"/><rect x="325.88" y="184.6" width="4.66" height="4.5" fill="#2a778e"/><rect x="329.94" y="184.6" width="4.66" height="4.5" fill="#25838d"/><rect x="334" y="184.6" width="4.66" height="4.5" fill="#287a8e"/><rect x="338.06" y="184.6" width="4.66" height="4.5" fill="#30688d"/><rect x="342.12" y="184.6" width="4.66" height="4.5" fill="#33618d"/><rect x="346.19" y="184.6" width="4.66" height="4.5" fill="#3e4989"/><rect x="350.25" y="184.6" width="4.66" height="4.5" fill="#365a8c"/><rect x="354.31" y="184.6" width="4.66" height="4.5" fill="#33618d"/><rect x="358.38" y="184.6" width="4.66" height="4.5" fill="#37598c"/><rect x="362.44" y="184.6" width="4.66" height="4.5" fill="#355d8c"/></g><ellipse cx="337.25" cy="160.61" rx="8.32" ry="8.32" fill="url(#hb3g0)"/><ellipse cx="332.05" cy="177.77" rx="8.32" ry="8.32" fill="url(#hb3g1)"/><ellipse cx="330.75" cy="148.17" rx="5.72" ry="5.72" fill="url(#hb3g2)"/><ellipse cx="330.75" cy="154.18" rx="5.72" ry="5.72" fill="url(#hb3g3)"/><ellipse cx="321" cy="182.06" rx="5.72" ry="5.72" fill="url(#hb3g4)"/><ellipse cx="337.25" cy="160.61" rx="3.9" ry="3.9" fill="url(#hb3g5)"/><ellipse cx="332.05" cy="177.77" rx="3.9" ry="3.9" fill="url(#hb3g6)"/></g>
<defs><filter id="hb4" x="-5%" y="-5%" width="110%" height="110%"><feGaussianBlur stdDeviation="1.0"/></filter><clipPath id="chb4"><rect x="295" y="218.6" width="80.4" height="53.2"/></clipPath><radialGradient id="hb4g0"><stop offset="0.00" stop-color="#1e998a" stop-opacity="1.000"/><stop offset="0.20" stop-color="#1e998a" stop-opacity="0.874"/><stop offset="0.40" stop-color="#1e998a" stop-opacity="0.582"/><stop offset="0.60" stop-color="#1e998a" stop-opacity="0.296"/><stop offset="0.80" stop-color="#1e998a" stop-opacity="0.115"/><stop offset="1.00" stop-color="#1e998a" stop-opacity="0.034"/></radialGradient><radialGradient id="hb4g1"><stop offset="0.00" stop-color="#26818e" stop-opacity="1.000"/><stop offset="0.20" stop-color="#26818e" stop-opacity="0.874"/><stop offset="0.40" stop-color="#26818e" stop-opacity="0.582"/><stop offset="0.60" stop-color="#26818e" stop-opacity="0.296"/><stop offset="0.80" stop-color="#26818e" stop-opacity="0.115"/><stop offset="1.00" stop-color="#26818e" stop-opacity="0.034"/></radialGradient><radialGradient id="hb4g2"><stop offset="0.00" stop-color="#472575" stop-opacity="1.000"/><stop offset="0.20" stop-color="#472575" stop-opacity="0.874"/><stop offset="0.40" stop-color="#472575" stop-opacity="0.582"/><stop offset="0.60" stop-color="#472575" stop-opacity="0.296"/><stop offset="0.80" stop-color="#472575" stop-opacity="0.115"/><stop offset="1.00" stop-color="#472575" stop-opacity="0.034"/></radialGradient><radialGradient id="hb4g3"><stop offset="0.00" stop-color="#3a528b" stop-opacity="1.000"/><stop offset="0.20" stop-color="#3a528b" stop-opacity="0.874"/><stop offset="0.40" stop-color="#3a528b" stop-opacity="0.582"/><stop offset="0.60" stop-color="#3a528b" stop-opacity="0.296"/><stop offset="0.80" stop-color="#3a528b" stop-opacity="0.115"/><stop offset="1.00" stop-color="#3a528b" stop-opacity="0.034"/></radialGradient><radialGradient id="hb4g4"><stop offset="0.00" stop-color="#25ab81" stop-opacity="1.000"/><stop offset="0.20" stop-color="#25ab81" stop-opacity="0.874"/><stop offset="0.40" stop-color="#25ab81" stop-opacity="0.582"/><stop offset="0.60" stop-color="#25ab81" stop-opacity="0.296"/><stop offset="0.80" stop-color="#25ab81" stop-opacity="0.115"/><stop offset="1.00" stop-color="#25ab81" stop-opacity="0.034"/></radialGradient><radialGradient id="hb4g5"><stop offset="0.00" stop-color="#471265" stop-opacity="1.000"/><stop offset="0.20" stop-color="#471265" stop-opacity="0.874"/><stop offset="0.40" stop-color="#471265" stop-opacity="0.582"/><stop offset="0.60" stop-color="#471265" stop-opacity="0.296"/><stop offset="0.80" stop-color="#471265" stop-opacity="0.115"/><stop offset="1.00" stop-color="#471265" stop-opacity="0.034"/></radialGradient><radialGradient id="hb4g6"><stop offset="0.00" stop-color="#3f4587" stop-opacity="1.000"/><stop offset="0.20" stop-color="#3f4587" stop-opacity="0.874"/><stop offset="0.40" stop-color="#3f4587" stop-opacity="0.582"/><stop offset="0.60" stop-color="#3f4587" stop-opacity="0.296"/><stop offset="0.80" stop-color="#3f4587" stop-opacity="0.115"/><stop offset="1.00" stop-color="#3f4587" stop-opacity="0.034"/></radialGradient><radialGradient id="hb4g7"><stop offset="0.00" stop-color="#22a784" stop-opacity="1.000"/><stop offset="0.20" stop-color="#22a784" stop-opacity="0.874"/><stop offset="0.40" stop-color="#22a784" stop-opacity="0.582"/><stop offset="0.60" stop-color="#22a784" stop-opacity="0.296"/><stop offset="0.80" stop-color="#22a784" stop-opacity="0.115"/><stop offset="1.00" stop-color="#22a784" stop-opacity="0.034"/></radialGradient><radialGradient id="hb4g8"><stop offset="0.00" stop-color="#1e9c89" stop-opacity="1.000"/><stop offset="0.20" stop-color="#1e9c89" stop-opacity="0.874"/><stop offset="0.40" stop-color="#1e9c89" stop-opacity="0.582"/><stop offset="0.60" stop-color="#1e9c89" stop-opacity="0.296"/><stop offset="0.80" stop-color="#1e9c89" stop-opacity="0.115"/><stop offset="1.00" stop-color="#1e9c89" stop-opacity="0.034"/></radialGradient><radialGradient id="hb4g9"><stop offset="0.00" stop-color="#33b679" stop-opacity="1.000"/><stop offset="0.20" stop-color="#33b679" stop-opacity="0.874"/><stop offset="0.40" stop-color="#33b679" stop-opacity="0.582"/><stop offset="0.60" stop-color="#33b679" stop-opacity="0.296"/><stop offset="0.80" stop-color="#33b679" stop-opacity="0.115"/><stop offset="1.00" stop-color="#33b679" stop-opacity="0.034"/></radialGradient><radialGradient id="hb4g10"><stop offset="0.00" stop-color="#1e9a89" stop-opacity="1.000"/><stop offset="0.20" stop-color="#1e9a89" stop-opacity="0.874"/><stop offset="0.40" stop-color="#1e9a89" stop-opacity="0.582"/><stop offset="0.60" stop-color="#1e9a89" stop-opacity="0.296"/><stop offset="0.80" stop-color="#1e9a89" stop-opacity="0.115"/><stop offset="1.00" stop-color="#1e9a89" stop-opacity="0.034"/></radialGradient><radialGradient id="hb4g11"><stop offset="0.00" stop-color="#fde724" stop-opacity="1.000"/><stop offset="0.20" stop-color="#fde724" stop-opacity="0.874"/><stop offset="0.40" stop-color="#fde724" stop-opacity="0.582"/><stop offset="0.60" stop-color="#fde724" stop-opacity="0.296"/><stop offset="0.80" stop-color="#fde724" stop-opacity="0.115"/><stop offset="1.00" stop-color="#fde724" stop-opacity="0.034"/></radialGradient><radialGradient id="hb4g12"><stop offset="0.00" stop-color="#fde724" stop-opacity="1.000"/><stop offset="0.20" stop-color="#fde724" stop-opacity="0.874"/><stop offset="0.40" stop-color="#fde724" stop-opacity="0.582"/><stop offset="0.60" stop-color="#fde724" stop-opacity="0.296"/><stop offset="0.80" stop-color="#fde724" stop-opacity="0.115"/><stop offset="1.00" stop-color="#fde724" stop-opacity="0.034"/></radialGradient></defs>
<g clip-path="url(#chb4)"><g filter="url(#hb4)"><rect x="295" y="218.6" width="4.62" height="4.69" fill="#3b508a"/><rect x="299.02" y="218.6" width="4.62" height="4.69" fill="#3b518a"/><rect x="303.04" y="218.6" width="4.62" height="4.69" fill="#355c8c"/><rect x="307.06" y="218.6" width="4.62" height="4.69" fill="#33608d"/><rect x="311.08" y="218.6" width="4.62" height="4.69" fill="#33608d"/><rect x="315.1" y="218.6" width="4.62" height="4.69" fill="#31658d"/><rect x="319.12" y="218.6" width="4.62" height="4.69" fill="#30688d"/><rect x="323.14" y="218.6" width="4.62" height="4.69" fill="#31658d"/><rect x="327.16" y="218.6" width="4.62" height="4.69" fill="#33618d"/><rect x="331.18" y="218.6" width="4.62" height="4.69" fill="#2b738e"/><rect x="335.2" y="218.6" width="4.62" height="4.69" fill="#31658d"/><rect x="339.22" y="218.6" width="4.62" height="4.69" fill="#3d4c89"/><rect x="343.24" y="218.6" width="4.62" height="4.69" fill="#37588c"/><rect x="347.26" y="218.6" width="4.62" height="4.69" fill="#355c8c"/><rect x="351.28" y="218.6" width="4.62" height="4.69" fill="#38568b"/><rect x="355.3" y="218.6" width="4.62" height="4.69" fill="#33608d"/><rect x="359.32" y="218.6" width="4.62" height="4.69" fill="#29788e"/><rect x="363.34" y="218.6" width="4.62" height="4.69" fill="#29788e"/><rect x="367.36" y="218.6" width="4.62" height="4.69" fill="#25828e"/><rect x="371.38" y="218.6" width="4.62" height="4.69" fill="#22898d"/><rect x="295" y="222.69" width="4.62" height="4.69" fill="#345e8d"/><rect x="299.02" y="222.69" width="4.62" height="4.69" fill="#3d4a89"/><rect x="303.04" y="222.69" width="4.62" height="4.69" fill="#3b508a"/><rect x="307.06" y="222.69" width="4.62" height="4.69" fill="#30678d"/><rect x="311.08" y="222.69" width="4.62" height="4.69" fill="#32628d"/><rect x="315.1" y="222.69" width="4.62" height="4.69" fill="#2e6c8e"/><rect x="319.12" y="222.69" width="4.62" height="4.69" fill="#277e8e"/><rect x="323.14" y="222.69" width="4.62" height="4.69" fill="#2d6e8e"/><rect x="327.16" y="222.69" width="4.62" height="4.69" fill="#32628d"/><rect x="331.18" y="222.69" width="4.62" height="4.69" fill="#287a8e"/><rect x="335.2" y="222.69" width="4.62" height="4.69" fill="#2c728e"/><rect x="339.22" y="222.69" width="4.62" height="4.69" fill="#30688d"/><rect x="343.24" y="222.69" width="4.62" height="4.69" fill="#2d6f8e"/><rect x="347.26" y="222.69" width="4.62" height="4.69" fill="#355c8c"/><rect x="351.28" y="222.69" width="4.62" height="4.69" fill="#355c8c"/><rect x="355.3" y="222.69" width="4.62" height="4.69" fill="#32628d"/><rect x="359.32" y="222.69" width="4.62" height="4.69" fill="#2c718e"/><rect x="363.34" y="222.69" width="4.62" height="4.69" fill="#277d8e"/><rect x="367.36" y="222.69" width="4.62" height="4.69" fill="#218c8d"/><rect x="371.38" y="222.69" width="4.62" height="4.69" fill="#218e8c"/><rect x="295" y="226.78" width="4.62" height="4.69" fill="#2e6d8e"/><rect x="299.02" y="226.78" width="4.62" height="4.69" fill="#365a8c"/><rect x="303.04" y="226.78" width="4.62" height="4.69" fill="#37598c"/><rect x="307.06" y="226.78" width="4.62" height="4.69" fill="#2d6e8e"/><rect x="311.08" y="226.78" width="4.62" height="4.69" fill="#2e6b8e"/><rect x="315.1" y="226.78" width="4.62" height="4.69" fill="#2c708e"/><rect x="319.12" y="226.78" width="4.62" height="4.69" fill="#277e8e"/><rect x="323.14" y="226.78" width="4.62" height="4.69" fill="#277c8e"/><rect x="327.16" y="226.78" width="4.62" height="4.69" fill="#2a768e"/><rect x="331.18" y="226.78" width="4.62" height="4.69" fill="#2c718e"/><rect x="335.2" y="226.78" width="4.62" height="4.69" fill="#2c708e"/><rect x="339.22" y="226.78" width="4.62" height="4.69" fill="#2c708e"/><rect x="343.24" y="226.78" width="4.62" height="4.69" fill="#30678d"/><rect x="347.26" y="226.78" width="4.62" height="4.69" fill="#3a528b"/><rect x="351.28" y="226.78" width="4.62" height="4.69" fill="#3a538b"/><rect x="355.3" y="226.78" width="4.62" height="4.69" fill="#345f8d"/><rect x="359.32" y="226.78" width="4.62" height="4.69" fill="#2f6a8d"/><rect x="363.34" y="226.78" width="4.62" height="4.69" fill="#2c728e"/><rect x="367.36" y="226.78" width="4.62" height="4.69" fill="#228b8d"/><rect x="371.38" y="226.78" width="4.62" height="4.69" fill="#23888d"/><rect x="295" y="230.88" width="4.62" height="4.69" fill="#2e6c8e"/><rect x="299.02" y="230.88" width="4.62" height="4.69" fill="#2e6d8e"/><rect x="303.04" y="230.88" width="4.62" height="4.69" fill="#32628d"/><rect x="307.06" y="230.88" width="4.62" height="4.69" fill="#31668d"/><rect x="311.08" y="230.88" width="4.62" height="4.69" fill="#31668d"/><rect x="315.1" y="230.88" width="4.62" height="4.69" fill="#2e6d8e"/><rect x="319.12" y="230.88" width="4.62" height="4.69" fill="#2e6c8e"/><rect x="323.14" y="230.88" width="4.62" height="4.69" fill="#2c708e"/><rect x="327.16" y="230.88" width="4.62" height="4.69" fill="#2d6f8e"/><rect x="331.18" y="230.88" width="4.62" height="4.69" fill="#2e6b8e"/><rect x="335.2" y="230.88" width="4.62" height="4.69" fill="#2a758e"/><rect x="339.22" y="230.88" width="4.62" height="4.69" fill="#2e6c8e"/><rect x="343.24" y="230.88" width="4.62" height="4.69" fill="#38568b"/><rect x="347.26" y="230.88" width="4.62" height="4.69" fill="#37588c"/><rect x="351.28" y="230.88" width="4.62" height="4.69" fill="#37588c"/><rect x="355.3" y="230.88" width="4.62" height="4.69" fill="#345f8d"/><rect x="359.32" y="230.88" width="4.62" height="4.69" fill="#345e8d"/><rect x="363.34" y="230.88" width="4.62" height="4.69" fill="#31658d"/><rect x="367.36" y="230.88" width="4.62" height="4.69" fill="#29798e"/><rect x="371.38" y="230.88" width="4.62" height="4.69" fill="#277d8e"/><rect x="295" y="234.97" width="4.62" height="4.69" fill="#39558b"/><rect x="299.02" y="234.97" width="4.62" height="4.69" fill="#33608d"/><rect x="303.04" y="234.97" width="4.62" height="4.69" fill="#355c8c"/><rect x="307.06" y="234.97" width="4.62" height="4.69" fill="#33618d"/><rect x="311.08" y="234.97" width="4.62" height="4.69" fill="#30688d"/><rect x="315.1" y="234.97" width="4.62" height="4.69" fill="#2b748e"/><rect x="319.12" y="234.97" width="4.62" height="4.69" fill="#2c728e"/><rect x="323.14" y="234.97" width="4.62" height="4.69" fill="#2f6a8d"/><rect x="327.16" y="234.97" width="4.62" height="4.69" fill="#31668d"/><rect x="331.18" y="234.97" width="4.62" height="4.69" fill="#2e6c8e"/><rect x="335.2" y="234.97" width="4.62" height="4.69" fill="#2d6f8e"/><rect x="339.22" y="234.97" width="4.62" height="4.69" fill="#2f698d"/><rect x="343.24" y="234.97" width="4.62" height="4.69" fill="#37598c"/><rect x="347.26" y="234.97" width="4.62" height="4.69" fill="#345e8d"/><rect x="351.28" y="234.97" width="4.62" height="4.69" fill="#32638d"/><rect x="355.3" y="234.97" width="4.62" height="4.69" fill="#32638d"/><rect x="359.32" y="234.97" width="4.62" height="4.69" fill="#33618d"/><rect x="363.34" y="234.97" width="4.62" height="4.69" fill="#30688d"/><rect x="367.36" y="234.97" width="4.62" height="4.69" fill="#2f698d"/><rect x="371.38" y="234.97" width="4.62" height="4.69" fill="#365a8c"/><rect x="295" y="239.06" width="4.62" height="4.69" fill="#3a538b"/><rect x="299.02" y="239.06" width="4.62" height="4.69" fill="#31668d"/><rect x="303.04" y="239.06" width="4.62" height="4.69" fill="#355d8c"/><rect x="307.06" y="239.06" width="4.62" height="4.69" fill="#38568b"/><rect x="311.08" y="239.06" width="4.62" height="4.69" fill="#2e6b8e"/><rect x="315.1" y="239.06" width="4.62" height="4.69" fill="#287a8e"/><rect x="319.12" y="239.06" width="4.62" height="4.69" fill="#30688d"/><rect x="323.14" y="239.06" width="4.62" height="4.69" fill="#38568b"/><rect x="327.16" y="239.06" width="4.62" height="4.69" fill="#345f8d"/><rect x="331.18" y="239.06" width="4.62" height="4.69" fill="#2d6e8e"/><rect x="335.2" y="239.06" width="4.62" height="4.69" fill="#31668d"/><rect x="339.22" y="239.06" width="4.62" height="4.69" fill="#32628d"/><rect x="343.24" y="239.06" width="4.62" height="4.69" fill="#31658d"/><rect x="347.26" y="239.06" width="4.62" height="4.69" fill="#31668d"/><rect x="351.28" y="239.06" width="4.62" height="4.69" fill="#2f698d"/><rect x="355.3" y="239.06" width="4.62" height="4.69" fill="#2d6f8e"/><rect x="359.32" y="239.06" width="4.62" height="4.69" fill="#2d6f8e"/><rect x="363.34" y="239.06" width="4.62" height="4.69" fill="#2c708e"/><rect x="367.36" y="239.06" width="4.62" height="4.69" fill="#31648d"/><rect x="371.38" y="239.06" width="4.62" height="4.69" fill="#3a538b"/><rect x="295" y="243.15" width="4.62" height="4.69" fill="#3b518a"/><rect x="299.02" y="243.15" width="4.62" height="4.69" fill="#31668d"/><rect x="303.04" y="243.15" width="4.62" height="4.69" fill="#345f8d"/><rect x="307.06" y="243.15" width="4.62" height="4.69" fill="#3b508a"/><rect x="311.08" y="243.15" width="4.62" height="4.69" fill="#32628d"/><rect x="315.1" y="243.15" width="4.62" height="4.69" fill="#2d6e8e"/><rect x="319.12" y="243.15" width="4.62" height="4.69" fill="#33608d"/><rect x="323.14" y="243.15" width="4.62" height="4.69" fill="#3d4b89"/><rect x="327.16" y="243.15" width="4.62" height="4.69" fill="#39558b"/><rect x="331.18" y="243.15" width="4.62" height="4.69" fill="#37588c"/><rect x="335.2" y="243.15" width="4.62" height="4.69" fill="#39558b"/><rect x="339.22" y="243.15" width="4.62" height="4.69" fill="#3c4e8a"/><rect x="343.24" y="243.15" width="4.62" height="4.69" fill="#31648d"/><rect x="347.26" y="243.15" width="4.62" height="4.69" fill="#2c718e"/><rect x="351.28" y="243.15" width="4.62" height="4.69" fill="#2a768e"/><rect x="355.3" y="243.15" width="4.62" height="4.69" fill="#2a778e"/><rect x="359.32" y="243.15" width="4.62" height="4.69" fill="#2b738e"/><rect x="363.34" y="243.15" width="4.62" height="4.69" fill="#2c728e"/><rect x="367.36" y="243.15" width="4.62" height="4.69" fill="#33608d"/><rect x="371.38" y="243.15" width="4.62" height="4.69" fill="#3d4c89"/><rect x="295" y="247.25" width="4.62" height="4.69" fill="#355d8c"/><rect x="299.02" y="247.25" width="4.62" height="4.69" fill="#2f698d"/><rect x="303.04" y="247.25" width="4.62" height="4.69" fill="#30678d"/><rect x="307.06" y="247.25" width="4.62" height="4.69" fill="#39558b"/><rect x="311.08" y="247.25" width="4.62" height="4.69" fill="#3a538b"/><rect x="315.1" y="247.25" width="4.62" height="4.69" fill="#365b8c"/><rect x="319.12" y="247.25" width="4.62" height="4.69" fill="#345e8d"/><rect x="323.14" y="247.25" width="4.62" height="4.69" fill="#37598c"/><rect x="327.16" y="247.25" width="4.62" height="4.69" fill="#365a8c"/><rect x="331.18" y="247.25" width="4.62" height="4.69" fill="#3c4e8a"/><rect x="335.2" y="247.25" width="4.62" height="4.69" fill="#39558b"/><rect x="339.22" y="247.25" width="4.62" height="4.69" fill="#38578c"/><rect x="343.24" y="247.25" width="4.62" height="4.69" fill="#2c718e"/><rect x="347.26" y="247.25" width="4.62" height="4.69" fill="#277d8e"/><rect x="351.28" y="247.25" width="4.62" height="4.69" fill="#267f8e"/><rect x="355.3" y="247.25" width="4.62" height="4.69" fill="#277d8e"/><rect x="359.32" y="247.25" width="4.62" height="4.69" fill="#2c718e"/><rect x="363.34" y="247.25" width="4.62" height="4.69" fill="#2e6b8e"/><rect x="367.36" y="247.25" width="4.62" height="4.69" fill="#365a8c"/><rect x="371.38" y="247.25" width="4.62" height="4.69" fill="#3d4a89"/><rect x="295" y="251.34" width="4.62" height="4.69" fill="#33618d"/><rect x="299.02" y="251.34" width="4.62" height="4.69" fill="#30688d"/><rect x="303.04" y="251.34" width="4.62" height="4.69" fill="#345f8d"/><rect x="307.06" y="251.34" width="4.62" height="4.69" fill="#3e4989"/><rect x="311.08" y="251.34" width="4.62" height="4.69" fill="#3e4989"/><rect x="315.1" y="251.34" width="4.62" height="4.69" fill="#39558b"/><rect x="319.12" y="251.34" width="4.62" height="4.69" fill="#365a8c"/><rect x="323.14" y="251.34" width="4.62" height="4.69" fill="#3b518a"/><rect x="327.16" y="251.34" width="4.62" height="4.69" fill="#3c4e8a"/><rect x="331.18" y="251.34" width="4.62" height="4.69" fill="#38578c"/><rect x="335.2" y="251.34" width="4.62" height="4.69" fill="#2f698d"/><rect x="339.22" y="251.34" width="4.62" height="4.69" fill="#31658d"/><rect x="343.24" y="251.34" width="4.62" height="4.69" fill="#2c708e"/><rect x="347.26" y="251.34" width="4.62" height="4.69" fill="#29798e"/><rect x="351.28" y="251.34" width="4.62" height="4.69" fill="#287b8e"/><rect x="355.3" y="251.34" width="4.62" height="4.69" fill="#277e8e"/><rect x="359.32" y="251.34" width="4.62" height="4.69" fill="#2c728e"/><rect x="363.34" y="251.34" width="4.62" height="4.69" fill="#31668d"/><rect x="367.36" y="251.34" width="4.62" height="4.69" fill="#38568b"/><rect x="371.38" y="251.34" width="4.62" height="4.69" fill="#3d4c89"/><rect x="295" y="255.43" width="4.62" height="4.69" fill="#32638d"/><rect x="299.02" y="255.43" width="4.62" height="4.69" fill="#31648d"/><rect x="303.04" y="255.43" width="4.62" height="4.69" fill="#355c8c"/><rect x="307.06" y="255.43" width="4.62" height="4.69" fill="#37588c"/><rect x="311.08" y="255.43" width="4.62" height="4.69" fill="#38578c"/><rect x="315.1" y="255.43" width="4.62" height="4.69" fill="#365b8c"/><rect x="319.12" y="255.43" width="4.62" height="4.69" fill="#33608d"/><rect x="323.14" y="255.43" width="4.62" height="4.69" fill="#33618d"/><rect x="327.16" y="255.43" width="4.62" height="4.69" fill="#38568b"/><rect x="331.18" y="255.43" width="4.62" height="4.69" fill="#37588c"/><rect x="335.2" y="255.43" width="4.62" height="4.69" fill="#30678d"/><rect x="339.22" y="255.43" width="4.62" height="4.69" fill="#2f698d"/><rect x="343.24" y="255.43" width="4.62" height="4.69" fill="#2c718e"/><rect x="347.26" y="255.43" width="4.62" height="4.69" fill="#2d6e8e"/><rect x="351.28" y="255.43" width="4.62" height="4.69" fill="#2c728e"/><rect x="355.3" y="255.43" width="4.62" height="4.69" fill="#287a8e"/><rect x="359.32" y="255.43" width="4.62" height="4.69" fill="#2d6f8e"/><rect x="363.34" y="255.43" width="4.62" height="4.69" fill="#2e6c8e"/><rect x="367.36" y="255.43" width="4.62" height="4.69" fill="#38578c"/><rect x="371.38" y="255.43" width="4.62" height="4.69" fill="#3d4c89"/><rect x="295" y="259.52" width="4.62" height="4.69" fill="#38578c"/><rect x="299.02" y="259.52" width="4.62" height="4.69" fill="#31658d"/><rect x="303.04" y="259.52" width="4.62" height="4.69" fill="#2c728e"/><rect x="307.06" y="259.52" width="4.62" height="4.69" fill="#2c728e"/><rect x="311.08" y="259.52" width="4.62" height="4.69" fill="#31658d"/><rect x="315.1" y="259.52" width="4.62" height="4.69" fill="#32628d"/><rect x="319.12" y="259.52" width="4.62" height="4.69" fill="#31648d"/><rect x="323.14" y="259.52" width="4.62" height="4.69" fill="#31658d"/><rect x="327.16" y="259.52" width="4.62" height="4.69" fill="#32638d"/><rect x="331.18" y="259.52" width="4.62" height="4.69" fill="#37588c"/><rect x="335.2" y="259.52" width="4.62" height="4.69" fill="#30688d"/><rect x="339.22" y="259.52" width="4.62" height="4.69" fill="#2c718e"/><rect x="343.24" y="259.52" width="4.62" height="4.69" fill="#2a758e"/><rect x="347.26" y="259.52" width="4.62" height="4.69" fill="#31648d"/><rect x="351.28" y="259.52" width="4.62" height="4.69" fill="#31668d"/><rect x="355.3" y="259.52" width="4.62" height="4.69" fill="#355c8c"/><rect x="359.32" y="259.52" width="4.62" height="4.69" fill="#365a8c"/><rect x="363.34" y="259.52" width="4.62" height="4.69" fill="#2f6a8d"/><rect x="367.36" y="259.52" width="4.62" height="4.69" fill="#33618d"/><rect x="371.38" y="259.52" width="4.62" height="4.69" fill="#3d4a89"/><rect x="295" y="263.62" width="4.62" height="4.69" fill="#3d4a89"/><rect x="299.02" y="263.62" width="4.62" height="4.69" fill="#355d8c"/><rect x="303.04" y="263.62" width="4.62" height="4.69" fill="#2c718e"/><rect x="307.06" y="263.62" width="4.62" height="4.69" fill="#2f6a8d"/><rect x="311.08" y="263.62" width="4.62" height="4.69" fill="#345e8d"/><rect x="315.1" y="263.62" width="4.62" height="4.69" fill="#31648d"/><rect x="319.12" y="263.62" width="4.62" height="4.69" fill="#30678d"/><rect x="323.14" y="263.62" width="4.62" height="4.69" fill="#365a8c"/><rect x="327.16" y="263.62" width="4.62" height="4.69" fill="#365b8c"/><rect x="331.18" y="263.62" width="4.62" height="4.69" fill="#33618d"/><rect x="335.2" y="263.62" width="4.62" height="4.69" fill="#287b8e"/><rect x="339.22" y="263.62" width="4.62" height="4.69" fill="#24858d"/><rect x="343.24" y="263.62" width="4.62" height="4.69" fill="#2a768e"/><rect x="347.26" y="263.62" width="4.62" height="4.69" fill="#33608d"/><rect x="351.28" y="263.62" width="4.62" height="4.69" fill="#345f8d"/><rect x="355.3" y="263.62" width="4.62" height="4.69" fill="#37588c"/><rect x="359.32" y="263.62" width="4.62" height="4.69" fill="#365b8c"/><rect x="363.34" y="263.62" width="4.62" height="4.69" fill="#355c8c"/><rect x="367.36" y="263.62" width="4.62" height="4.69" fill="#355c8c"/><rect x="371.38" y="263.62" width="4.62" height="4.69" fill="#3b518a"/><rect x="295" y="267.71" width="4.62" height="4.69" fill="#39558b"/><rect x="299.02" y="267.71" width="4.62" height="4.69" fill="#30688d"/><rect x="303.04" y="267.71" width="4.62" height="4.69" fill="#287a8e"/><rect x="307.06" y="267.71" width="4.62" height="4.69" fill="#2e6d8e"/><rect x="311.08" y="267.71" width="4.62" height="4.69" fill="#345f8d"/><rect x="315.1" y="267.71" width="4.62" height="4.69" fill="#365b8c"/><rect x="319.12" y="267.71" width="4.62" height="4.69" fill="#365a8c"/><rect x="323.14" y="267.71" width="4.62" height="4.69" fill="#39548b"/><rect x="327.16" y="267.71" width="4.62" height="4.69" fill="#3a538b"/><rect x="331.18" y="267.71" width="4.62" height="4.69" fill="#31668d"/><rect x="335.2" y="267.71" width="4.62" height="4.69" fill="#24848d"/><rect x="339.22" y="267.71" width="4.62" height="4.69" fill="#1e998a"/><rect x="343.24" y="267.71" width="4.62" height="4.69" fill="#24858d"/><rect x="347.26" y="267.71" width="4.62" height="4.69" fill="#2c718e"/><rect x="351.28" y="267.71" width="4.62" height="4.69" fill="#345e8d"/><rect x="355.3" y="267.71" width="4.62" height="4.69" fill="#31658d"/><rect x="359.32" y="267.71" width="4.62" height="4.69" fill="#2d6f8e"/><rect x="363.34" y="267.71" width="4.62" height="4.69" fill="#37588c"/><rect x="367.36" y="267.71" width="4.62" height="4.69" fill="#38568b"/><rect x="371.38" y="267.71" width="4.62" height="4.69" fill="#2e6d8e"/></g><ellipse cx="337.61" cy="232.43" rx="9.36" ry="9.36" fill="url(#hb4g0)"/><ellipse cx="331.98" cy="250.52" rx="9.36" ry="9.36" fill="url(#hb4g1)"/><ellipse cx="367.36" cy="250.52" rx="9.1" ry="9.1" fill="url(#hb4g2)"/><ellipse cx="315.1" cy="229.24" rx="9.1" ry="9.1" fill="url(#hb4g3)"/><ellipse cx="341.63" cy="243.07" rx="7.8" ry="7.8" fill="url(#hb4g4)"/><ellipse cx="309.47" cy="263.82" rx="7.8" ry="7.8" fill="url(#hb4g5)"/><ellipse cx="372.99" cy="269.14" rx="7.8" ry="7.8" fill="url(#hb4g6)"/><ellipse cx="336.81" cy="246.8" rx="7.28" ry="7.28" fill="url(#hb4g7)"/><ellipse cx="297.41" cy="239.88" rx="7.28" ry="7.28" fill="url(#hb4g8)"/><ellipse cx="360.93" cy="242.54" rx="7.28" ry="7.28" fill="url(#hb4g9)"/><ellipse cx="346.46" cy="241.48" rx="6.76" ry="6.76" fill="url(#hb4g10)"/><ellipse cx="337.61" cy="232.43" rx="4.68" ry="4.68" fill="url(#hb4g11)"/><ellipse cx="331.98" cy="250.52" rx="4.68" ry="4.68" fill="url(#hb4g12)"/></g>
<path d="M331 192.2 L331 207 L325.6 207 L334.2 215.8 L342.8 207 L337.4 207 L337.4 192.2 Z" fill="none" stroke="#000" stroke-width="1.2"/>
<text x="310.1" y="210" font-size="12" fill="#000" text-anchor="middle" font-family='"Liberation Sans", sans-serif' font-weight="normal" font-style="normal" >Mean</text>
<defs><filter id="hb5" x="-5%" y="-5%" width="110%" height="110%"><feGaussianBlur stdDeviation="1.0"/></filter><clipPath id="chb5"><rect x="608" y="53.6" width="64.9" height="43.3"/></clipPath></defs>
<g clip-path="url(#chb5)"><g filter="url(#hb5)"><rect x="608" y="53.6" width="4.66" height="4.54" fill="#1ea087"/><rect x="612.06" y="53.6" width="4.66" height="4.54" fill="#1f958b"/><rect x="616.11" y="53.6" width="4.66" height="4.54" fill="#36b877"/><rect x="620.17" y="53.6" width="4.66" height="4.54" fill="#42be71"/><rect x="624.23" y="53.6" width="4.66" height="4.54" fill="#36b877"/><rect x="628.28" y="53.6" width="4.66" height="4.54" fill="#d7e219"/><rect x="632.34" y="53.6" width="4.66" height="4.54" fill="#77d052"/><rect x="636.39" y="53.6" width="4.66" height="4.54" fill="#21a784"/><rect x="640.45" y="53.6" width="4.66" height="4.54" fill="#1e9b89"/><rect x="644.51" y="53.6" width="4.66" height="4.54" fill="#51c468"/><rect x="648.56" y="53.6" width="4.66" height="4.54" fill="#d4e11a"/><rect x="652.62" y="53.6" width="4.66" height="4.54" fill="#77d052"/><rect x="656.67" y="53.6" width="4.66" height="4.54" fill="#d4e11a"/><rect x="660.73" y="53.6" width="4.66" height="4.54" fill="#fde724"/><rect x="664.79" y="53.6" width="4.66" height="4.54" fill="#fde724"/><rect x="668.84" y="53.6" width="4.66" height="4.54" fill="#f3e51e"/><rect x="608" y="57.54" width="4.66" height="4.54" fill="#74d054"/><rect x="612.06" y="57.54" width="4.66" height="4.54" fill="#28ae7f"/><rect x="616.11" y="57.54" width="4.66" height="4.54" fill="#25ab81"/><rect x="620.17" y="57.54" width="4.66" height="4.54" fill="#3bba75"/><rect x="624.23" y="57.54" width="4.66" height="4.54" fill="#47c06e"/><rect x="628.28" y="57.54" width="4.66" height="4.54" fill="#a2da37"/><rect x="632.34" y="57.54" width="4.66" height="4.54" fill="#67cc5c"/><rect x="636.39" y="57.54" width="4.66" height="4.54" fill="#25ab81"/><rect x="640.45" y="57.54" width="4.66" height="4.54" fill="#1e9c89"/><rect x="644.51" y="57.54" width="4.66" height="4.54" fill="#2fb37b"/><rect x="648.56" y="57.54" width="4.66" height="4.54" fill="#8bd546"/><rect x="652.62" y="57.54" width="4.66" height="4.54" fill="#53c567"/><rect x="656.67" y="57.54" width="4.66" height="4.54" fill="#bdde26"/><rect x="660.73" y="57.54" width="4.66" height="4.54" fill="#e7e419"/><rect x="664.79" y="57.54" width="4.66" height="4.54" fill="#c7e01f"/><rect x="668.84" y="57.54" width="4.66" height="4.54" fill="#97d83e"/><rect x="608" y="61.47" width="4.66" height="4.54" fill="#40bd72"/><rect x="612.06" y="61.47" width="4.66" height="4.54" fill="#39b976"/><rect x="616.11" y="61.47" width="4.66" height="4.54" fill="#2bb17d"/><rect x="620.17" y="61.47" width="4.66" height="4.54" fill="#27ad80"/><rect x="624.23" y="61.47" width="4.66" height="4.54" fill="#27ad80"/><rect x="628.28" y="61.47" width="4.66" height="4.54" fill="#a2da37"/><rect x="632.34" y="61.47" width="4.66" height="4.54" fill="#67cc5c"/><rect x="636.39" y="61.47" width="4.66" height="4.54" fill="#2eb27c"/><rect x="640.45" y="61.47" width="4.66" height="4.54" fill="#1e9c89"/><rect x="644.51" y="61.47" width="4.66" height="4.54" fill="#23a982"/><rect x="648.56" y="61.47" width="4.66" height="4.54" fill="#b7dd29"/><rect x="652.62" y="61.47" width="4.66" height="4.54" fill="#4bc26c"/><rect x="656.67" y="61.47" width="4.66" height="4.54" fill="#44be70"/><rect x="660.73" y="61.47" width="4.66" height="4.54" fill="#55c666"/><rect x="664.79" y="61.47" width="4.66" height="4.54" fill="#6dce58"/><rect x="668.84" y="61.47" width="4.66" height="4.54" fill="#8dd644"/><rect x="608" y="65.41" width="4.66" height="4.54" fill="#29788e"/><rect x="612.06" y="65.41" width="4.66" height="4.54" fill="#1e9f88"/><rect x="616.11" y="65.41" width="4.66" height="4.54" fill="#2cb17d"/><rect x="620.17" y="65.41" width="4.66" height="4.54" fill="#2ab07e"/><rect x="624.23" y="65.41" width="4.66" height="4.54" fill="#29af7f"/><rect x="628.28" y="65.41" width="4.66" height="4.54" fill="#bfdf24"/><rect x="632.34" y="65.41" width="4.66" height="4.54" fill="#6bcd59"/><rect x="636.39" y="65.41" width="4.66" height="4.54" fill="#39b976"/><rect x="640.45" y="65.41" width="4.66" height="4.54" fill="#1fa386"/><rect x="644.51" y="65.41" width="4.66" height="4.54" fill="#21a784"/><rect x="648.56" y="65.41" width="4.66" height="4.54" fill="#d4e11a"/><rect x="652.62" y="65.41" width="4.66" height="4.54" fill="#51c468"/><rect x="656.67" y="65.41" width="4.66" height="4.54" fill="#1f968b"/><rect x="660.73" y="65.41" width="4.66" height="4.54" fill="#21a685"/><rect x="664.79" y="65.41" width="4.66" height="4.54" fill="#45bf6f"/><rect x="668.84" y="65.41" width="4.66" height="4.54" fill="#53c567"/><rect x="608" y="69.35" width="4.66" height="4.54" fill="#3e4989"/><rect x="612.06" y="69.35" width="4.66" height="4.54" fill="#287a8e"/><rect x="616.11" y="69.35" width="4.66" height="4.54" fill="#1e9c89"/><rect x="620.17" y="69.35" width="4.66" height="4.54" fill="#2cb17d"/><rect x="624.23" y="69.35" width="4.66" height="4.54" fill="#53c567"/><rect x="628.28" y="69.35" width="4.66" height="4.54" fill="#c2df22"/><rect x="632.34" y="69.35" width="4.66" height="4.54" fill="#5bc862"/><rect x="636.39" y="69.35" width="4.66" height="4.54" fill="#24aa82"/><rect x="640.45" y="69.35" width="4.66" height="4.54" fill="#1e978a"/><rect x="644.51" y="69.35" width="4.66" height="4.54" fill="#21a784"/><rect x="648.56" y="69.35" width="4.66" height="4.54" fill="#9fd938"/><rect x="652.62" y="69.35" width="4.66" height="4.54" fill="#81d34c"/><rect x="656.67" y="69.35" width="4.66" height="4.54" fill="#1fa187"/><rect x="660.73" y="69.35" width="4.66" height="4.54" fill="#20a585"/><rect x="664.79" y="69.35" width="4.66" height="4.54" fill="#42be71"/><rect x="668.84" y="69.35" width="4.66" height="4.54" fill="#32b57a"/><rect x="608" y="73.28" width="4.66" height="4.54" fill="#228a8d"/><rect x="612.06" y="73.28" width="4.66" height="4.54" fill="#287a8e"/><rect x="616.11" y="73.28" width="4.66" height="4.54" fill="#25828e"/><rect x="620.17" y="73.28" width="4.66" height="4.54" fill="#20a485"/><rect x="624.23" y="73.28" width="4.66" height="4.54" fill="#60c960"/><rect x="628.28" y="73.28" width="4.66" height="4.54" fill="#b5dd2b"/><rect x="632.34" y="73.28" width="4.66" height="4.54" fill="#59c764"/><rect x="636.39" y="73.28" width="4.66" height="4.54" fill="#2f6a8d"/><rect x="640.45" y="73.28" width="4.66" height="4.54" fill="#404487"/><rect x="644.51" y="73.28" width="4.66" height="4.54" fill="#25828e"/><rect x="648.56" y="73.28" width="4.66" height="4.54" fill="#88d547"/><rect x="652.62" y="73.28" width="4.66" height="4.54" fill="#fde724"/><rect x="656.67" y="73.28" width="4.66" height="4.54" fill="#88d547"/><rect x="660.73" y="73.28" width="4.66" height="4.54" fill="#32b57a"/><rect x="664.79" y="73.28" width="4.66" height="4.54" fill="#26ac81"/><rect x="668.84" y="73.28" width="4.66" height="4.54" fill="#44be70"/><rect x="608" y="77.22" width="4.66" height="4.54" fill="#1e9b89"/><rect x="612.06" y="77.22" width="4.66" height="4.54" fill="#1f938b"/><rect x="616.11" y="77.22" width="4.66" height="4.54" fill="#228a8d"/><rect x="620.17" y="77.22" width="4.66" height="4.54" fill="#267f8e"/><rect x="624.23" y="77.22" width="4.66" height="4.54" fill="#23898d"/><rect x="628.28" y="77.22" width="4.66" height="4.54" fill="#2ab07e"/><rect x="632.34" y="77.22" width="4.66" height="4.54" fill="#67cc5c"/><rect x="636.39" y="77.22" width="4.66" height="4.54" fill="#39b976"/><rect x="640.45" y="77.22" width="4.66" height="4.54" fill="#30b47a"/><rect x="644.51" y="77.22" width="4.66" height="4.54" fill="#4bc26c"/><rect x="648.56" y="77.22" width="4.66" height="4.54" fill="#9dd93a"/><rect x="652.62" y="77.22" width="4.66" height="4.54" fill="#bade27"/><rect x="656.67" y="77.22" width="4.66" height="4.54" fill="#60c960"/><rect x="660.73" y="77.22" width="4.66" height="4.54" fill="#49c16d"/><rect x="664.79" y="77.22" width="4.66" height="4.54" fill="#42be71"/><rect x="668.84" y="77.22" width="4.66" height="4.54" fill="#69cc5b"/><rect x="608" y="81.15" width="4.66" height="4.54" fill="#1e9d88"/><rect x="612.06" y="81.15" width="4.66" height="4.54" fill="#21a685"/><rect x="616.11" y="81.15" width="4.66" height="4.54" fill="#1f928c"/><rect x="620.17" y="81.15" width="4.66" height="4.54" fill="#2b738e"/><rect x="624.23" y="81.15" width="4.66" height="4.54" fill="#2f6a8d"/><rect x="628.28" y="81.15" width="4.66" height="4.54" fill="#1e978a"/><rect x="632.34" y="81.15" width="4.66" height="4.54" fill="#59c764"/><rect x="636.39" y="81.15" width="4.66" height="4.54" fill="#83d34b"/><rect x="640.45" y="81.15" width="4.66" height="4.54" fill="#b5dd2b"/><rect x="644.51" y="81.15" width="4.66" height="4.54" fill="#d4e11a"/><rect x="648.56" y="81.15" width="4.66" height="4.54" fill="#fde724"/><rect x="652.62" y="81.15" width="4.66" height="4.54" fill="#5ec961"/><rect x="656.67" y="81.15" width="4.66" height="4.54" fill="#5bc862"/><rect x="660.73" y="81.15" width="4.66" height="4.54" fill="#95d73f"/><rect x="664.79" y="81.15" width="4.66" height="4.54" fill="#88d547"/><rect x="668.84" y="81.15" width="4.66" height="4.54" fill="#60c960"/><rect x="608" y="85.09" width="4.66" height="4.54" fill="#1e9d88"/><rect x="612.06" y="85.09" width="4.66" height="4.54" fill="#1e9d88"/><rect x="616.11" y="85.09" width="4.66" height="4.54" fill="#22898d"/><rect x="620.17" y="85.09" width="4.66" height="4.54" fill="#2e6c8e"/><rect x="624.23" y="85.09" width="4.66" height="4.54" fill="#2d6e8e"/><rect x="628.28" y="85.09" width="4.66" height="4.54" fill="#1e9d88"/><rect x="632.34" y="85.09" width="4.66" height="4.54" fill="#57c665"/><rect x="636.39" y="85.09" width="4.66" height="4.54" fill="#b5dd2b"/><rect x="640.45" y="85.09" width="4.66" height="4.54" fill="#ece41a"/><rect x="644.51" y="85.09" width="4.66" height="4.54" fill="#cfe11c"/><rect x="648.56" y="85.09" width="4.66" height="4.54" fill="#74d054"/><rect x="652.62" y="85.09" width="4.66" height="4.54" fill="#36b877"/><rect x="656.67" y="85.09" width="4.66" height="4.54" fill="#7ed24e"/><rect x="660.73" y="85.09" width="4.66" height="4.54" fill="#cae01e"/><rect x="664.79" y="85.09" width="4.66" height="4.54" fill="#aadb32"/><rect x="668.84" y="85.09" width="4.66" height="4.54" fill="#51c468"/><rect x="608" y="89.03" width="4.66" height="4.54" fill="#218d8c"/><rect x="612.06" y="89.03" width="4.66" height="4.54" fill="#277c8e"/><rect x="616.11" y="89.03" width="4.66" height="4.54" fill="#31658d"/><rect x="620.17" y="89.03" width="4.66" height="4.54" fill="#345e8d"/><rect x="624.23" y="89.03" width="4.66" height="4.54" fill="#2a778e"/><rect x="628.28" y="89.03" width="4.66" height="4.54" fill="#1e9d88"/><rect x="632.34" y="89.03" width="4.66" height="4.54" fill="#57c665"/><rect x="636.39" y="89.03" width="4.66" height="4.54" fill="#c7e01f"/><rect x="640.45" y="89.03" width="4.66" height="4.54" fill="#d7e219"/><rect x="644.51" y="89.03" width="4.66" height="4.54" fill="#7cd24f"/><rect x="648.56" y="89.03" width="4.66" height="4.54" fill="#20a485"/><rect x="652.62" y="89.03" width="4.66" height="4.54" fill="#4bc26c"/><rect x="656.67" y="89.03" width="4.66" height="4.54" fill="#9ad83c"/><rect x="660.73" y="89.03" width="4.66" height="4.54" fill="#d2e11b"/><rect x="664.79" y="89.03" width="4.66" height="4.54" fill="#9fd938"/><rect x="668.84" y="89.03" width="4.66" height="4.54" fill="#6dce58"/><rect x="608" y="92.96" width="4.66" height="4.54" fill="#24868d"/><rect x="612.06" y="92.96" width="4.66" height="4.54" fill="#2c718e"/><rect x="616.11" y="92.96" width="4.66" height="4.54" fill="#423d84"/><rect x="620.17" y="92.96" width="4.66" height="4.54" fill="#433c84"/><rect x="624.23" y="92.96" width="4.66" height="4.54" fill="#26818e"/><rect x="628.28" y="92.96" width="4.66" height="4.54" fill="#21a685"/><rect x="632.34" y="92.96" width="4.66" height="4.54" fill="#59c764"/><rect x="636.39" y="92.96" width="4.66" height="4.54" fill="#aadb32"/><rect x="640.45" y="92.96" width="4.66" height="4.54" fill="#bdde26"/><rect x="644.51" y="92.96" width="4.66" height="4.54" fill="#a7db33"/><rect x="648.56" y="92.96" width="4.66" height="4.54" fill="#fde724"/><rect x="652.62" y="92.96" width="4.66" height="4.54" fill="#fde724"/><rect x="656.67" y="92.96" width="4.66" height="4.54" fill="#aadb32"/><rect x="660.73" y="92.96" width="4.66" height="4.54" fill="#5bc862"/><rect x="664.79" y="92.96" width="4.66" height="4.54" fill="#33b679"/><rect x="668.84" y="92.96" width="4.66" height="4.54" fill="#83d34b"/></g></g>
<defs><filter id="hb6" x="-5%" y="-5%" width="110%" height="110%"><feGaussianBlur stdDeviation="1.0"/></filter><clipPath id="chb6"><rect x="608" y="102" width="64.9" height="42.4"/></clipPath></defs>
<g clip-path="url(#chb6)"><g filter="url(#hb6)"><rect x="608" y="102" width="4.66" height="4.45" fill="#95d73f"/><rect x="612.06" y="102" width="4.66" height="4.45" fill="#cae01e"/><rect x="616.11" y="102" width="4.66" height="4.45" fill="#eee51b"/><rect x="620.17" y="102" width="4.66" height="4.45" fill="#8dd644"/><rect x="624.23" y="102" width="4.66" height="4.45" fill="#21a685"/><rect x="628.28" y="102" width="4.66" height="4.45" fill="#20908c"/><rect x="632.34" y="102" width="4.66" height="4.45" fill="#1f928c"/><rect x="636.39" y="102" width="4.66" height="4.45" fill="#67cc5c"/><rect x="640.45" y="102" width="4.66" height="4.45" fill="#72cf55"/><rect x="644.51" y="102" width="4.66" height="4.45" fill="#1fa286"/><rect x="648.56" y="102" width="4.66" height="4.45" fill="#1e978a"/><rect x="652.62" y="102" width="4.66" height="4.45" fill="#277d8e"/><rect x="656.67" y="102" width="4.66" height="4.45" fill="#29788e"/><rect x="660.73" y="102" width="4.66" height="4.45" fill="#277c8e"/><rect x="664.79" y="102" width="4.66" height="4.45" fill="#287a8e"/><rect x="668.84" y="102" width="4.66" height="4.45" fill="#208f8c"/><rect x="608" y="105.85" width="4.66" height="4.45" fill="#55c666"/><rect x="612.06" y="105.85" width="4.66" height="4.45" fill="#9fd938"/><rect x="616.11" y="105.85" width="4.66" height="4.45" fill="#cfe11c"/><rect x="620.17" y="105.85" width="4.66" height="4.45" fill="#72cf55"/><rect x="624.23" y="105.85" width="4.66" height="4.45" fill="#24848d"/><rect x="628.28" y="105.85" width="4.66" height="4.45" fill="#2c728e"/><rect x="632.34" y="105.85" width="4.66" height="4.45" fill="#25838d"/><rect x="636.39" y="105.85" width="4.66" height="4.45" fill="#2ab07e"/><rect x="640.45" y="105.85" width="4.66" height="4.45" fill="#3dbb74"/><rect x="644.51" y="105.85" width="4.66" height="4.45" fill="#23a982"/><rect x="648.56" y="105.85" width="4.66" height="4.45" fill="#1f928c"/><rect x="652.62" y="105.85" width="4.66" height="4.45" fill="#23888d"/><rect x="656.67" y="105.85" width="4.66" height="4.45" fill="#267f8e"/><rect x="660.73" y="105.85" width="4.66" height="4.45" fill="#277c8e"/><rect x="664.79" y="105.85" width="4.66" height="4.45" fill="#2a758e"/><rect x="668.84" y="105.85" width="4.66" height="4.45" fill="#26808e"/><rect x="608" y="109.71" width="4.66" height="4.45" fill="#aadb32"/><rect x="612.06" y="109.71" width="4.66" height="4.45" fill="#64cb5d"/><rect x="616.11" y="109.71" width="4.66" height="4.45" fill="#53c567"/><rect x="620.17" y="109.71" width="4.66" height="4.45" fill="#2fb37b"/><rect x="624.23" y="109.71" width="4.66" height="4.45" fill="#287a8e"/><rect x="628.28" y="109.71" width="4.66" height="4.45" fill="#2f6a8d"/><rect x="632.34" y="109.71" width="4.66" height="4.45" fill="#29788e"/><rect x="636.39" y="109.71" width="4.66" height="4.45" fill="#277d8e"/><rect x="640.45" y="109.71" width="4.66" height="4.45" fill="#1f968b"/><rect x="644.51" y="109.71" width="4.66" height="4.45" fill="#30b47a"/><rect x="648.56" y="109.71" width="4.66" height="4.45" fill="#1e978a"/><rect x="652.62" y="109.71" width="4.66" height="4.45" fill="#25828e"/><rect x="656.67" y="109.71" width="4.66" height="4.45" fill="#2d6f8e"/><rect x="660.73" y="109.71" width="4.66" height="4.45" fill="#2e6d8e"/><rect x="664.79" y="109.71" width="4.66" height="4.45" fill="#26808e"/><rect x="668.84" y="109.71" width="4.66" height="4.45" fill="#21a784"/><rect x="608" y="113.56" width="4.66" height="4.45" fill="#a5da35"/><rect x="612.06" y="113.56" width="4.66" height="4.45" fill="#57c665"/><rect x="616.11" y="113.56" width="4.66" height="4.45" fill="#27ad80"/><rect x="620.17" y="113.56" width="4.66" height="4.45" fill="#1e978a"/><rect x="624.23" y="113.56" width="4.66" height="4.45" fill="#277e8e"/><rect x="628.28" y="113.56" width="4.66" height="4.45" fill="#2c718e"/><rect x="632.34" y="113.56" width="4.66" height="4.45" fill="#26808e"/><rect x="636.39" y="113.56" width="4.66" height="4.45" fill="#2b748e"/><rect x="640.45" y="113.56" width="4.66" height="4.45" fill="#24848d"/><rect x="644.51" y="113.56" width="4.66" height="4.45" fill="#1fa187"/><rect x="648.56" y="113.56" width="4.66" height="4.45" fill="#218c8d"/><rect x="652.62" y="113.56" width="4.66" height="4.45" fill="#24848d"/><rect x="656.67" y="113.56" width="4.66" height="4.45" fill="#2d6f8e"/><rect x="660.73" y="113.56" width="4.66" height="4.45" fill="#2c728e"/><rect x="664.79" y="113.56" width="4.66" height="4.45" fill="#218c8d"/><rect x="668.84" y="113.56" width="4.66" height="4.45" fill="#51c468"/><rect x="608" y="117.42" width="4.66" height="4.45" fill="#27ad80"/><rect x="612.06" y="117.42" width="4.66" height="4.45" fill="#74d054"/><rect x="616.11" y="117.42" width="4.66" height="4.45" fill="#3ebc73"/><rect x="620.17" y="117.42" width="4.66" height="4.45" fill="#1e978a"/><rect x="624.23" y="117.42" width="4.66" height="4.45" fill="#218e8c"/><rect x="628.28" y="117.42" width="4.66" height="4.45" fill="#2b738e"/><rect x="632.34" y="117.42" width="4.66" height="4.45" fill="#287a8e"/><rect x="636.39" y="117.42" width="4.66" height="4.45" fill="#277d8e"/><rect x="640.45" y="117.42" width="4.66" height="4.45" fill="#26808e"/><rect x="644.51" y="117.42" width="4.66" height="4.45" fill="#29788e"/><rect x="648.56" y="117.42" width="4.66" height="4.45" fill="#267f8e"/><rect x="652.62" y="117.42" width="4.66" height="4.45" fill="#1e9d88"/><rect x="656.67" y="117.42" width="4.66" height="4.45" fill="#228a8d"/><rect x="660.73" y="117.42" width="4.66" height="4.45" fill="#29788e"/><rect x="664.79" y="117.42" width="4.66" height="4.45" fill="#25828e"/><rect x="668.84" y="117.42" width="4.66" height="4.45" fill="#23a883"/><rect x="608" y="121.27" width="4.66" height="4.45" fill="#1e9e88"/><rect x="612.06" y="121.27" width="4.66" height="4.45" fill="#9dd93a"/><rect x="616.11" y="121.27" width="4.66" height="4.45" fill="#57c665"/><rect x="620.17" y="121.27" width="4.66" height="4.45" fill="#1ea087"/><rect x="624.23" y="121.27" width="4.66" height="4.45" fill="#26ac81"/><rect x="628.28" y="121.27" width="4.66" height="4.45" fill="#267f8e"/><rect x="632.34" y="121.27" width="4.66" height="4.45" fill="#2d6e8e"/><rect x="636.39" y="121.27" width="4.66" height="4.45" fill="#472878"/><rect x="640.45" y="121.27" width="4.66" height="4.45" fill="#481e70"/><rect x="644.51" y="121.27" width="4.66" height="4.45" fill="#39558b"/><rect x="648.56" y="121.27" width="4.66" height="4.45" fill="#2a768e"/><rect x="652.62" y="121.27" width="4.66" height="4.45" fill="#277e8e"/><rect x="656.67" y="121.27" width="4.66" height="4.45" fill="#23888d"/><rect x="660.73" y="121.27" width="4.66" height="4.45" fill="#277e8e"/><rect x="664.79" y="121.27" width="4.66" height="4.45" fill="#287b8e"/><rect x="668.84" y="121.27" width="4.66" height="4.45" fill="#20908c"/><rect x="608" y="125.13" width="4.66" height="4.45" fill="#aadb32"/><rect x="612.06" y="125.13" width="4.66" height="4.45" fill="#69cc5b"/><rect x="616.11" y="125.13" width="4.66" height="4.45" fill="#81d34c"/><rect x="620.17" y="125.13" width="4.66" height="4.45" fill="#64cb5d"/><rect x="624.23" y="125.13" width="4.66" height="4.45" fill="#1e9e88"/><rect x="628.28" y="125.13" width="4.66" height="4.45" fill="#25838d"/><rect x="632.34" y="125.13" width="4.66" height="4.45" fill="#287b8e"/><rect x="636.39" y="125.13" width="4.66" height="4.45" fill="#414286"/><rect x="640.45" y="125.13" width="4.66" height="4.45" fill="#433a83"/><rect x="644.51" y="125.13" width="4.66" height="4.45" fill="#2e6d8e"/><rect x="648.56" y="125.13" width="4.66" height="4.45" fill="#287a8e"/><rect x="652.62" y="125.13" width="4.66" height="4.45" fill="#277c8e"/><rect x="656.67" y="125.13" width="4.66" height="4.45" fill="#208f8c"/><rect x="660.73" y="125.13" width="4.66" height="4.45" fill="#25828e"/><rect x="664.79" y="125.13" width="4.66" height="4.45" fill="#29798e"/><rect x="668.84" y="125.13" width="4.66" height="4.45" fill="#1e988a"/><rect x="608" y="128.98" width="4.66" height="4.45" fill="#cfe11c"/><rect x="612.06" y="128.98" width="4.66" height="4.45" fill="#42be71"/><rect x="616.11" y="128.98" width="4.66" height="4.45" fill="#3bba75"/><rect x="620.17" y="128.98" width="4.66" height="4.45" fill="#53c567"/><rect x="624.23" y="128.98" width="4.66" height="4.45" fill="#3bba75"/><rect x="628.28" y="128.98" width="4.66" height="4.45" fill="#287a8e"/><rect x="632.34" y="128.98" width="4.66" height="4.45" fill="#26818e"/><rect x="636.39" y="128.98" width="4.66" height="4.45" fill="#2e6d8e"/><rect x="640.45" y="128.98" width="4.66" height="4.45" fill="#355d8c"/><rect x="644.51" y="128.98" width="4.66" height="4.45" fill="#2e6c8e"/><rect x="648.56" y="128.98" width="4.66" height="4.45" fill="#277c8e"/><rect x="652.62" y="128.98" width="4.66" height="4.45" fill="#24868d"/><rect x="656.67" y="128.98" width="4.66" height="4.45" fill="#23878d"/><rect x="660.73" y="128.98" width="4.66" height="4.45" fill="#24868d"/><rect x="664.79" y="128.98" width="4.66" height="4.45" fill="#23898d"/><rect x="668.84" y="128.98" width="4.66" height="4.45" fill="#1e9a89"/><rect x="608" y="132.84" width="4.66" height="4.45" fill="#53c567"/><rect x="612.06" y="132.84" width="4.66" height="4.45" fill="#36b877"/><rect x="616.11" y="132.84" width="4.66" height="4.45" fill="#22a784"/><rect x="620.17" y="132.84" width="4.66" height="4.45" fill="#24aa82"/><rect x="624.23" y="132.84" width="4.66" height="4.45" fill="#30b47a"/><rect x="628.28" y="132.84" width="4.66" height="4.45" fill="#2d6f8e"/><rect x="632.34" y="132.84" width="4.66" height="4.45" fill="#2b748e"/><rect x="636.39" y="132.84" width="4.66" height="4.45" fill="#2a778e"/><rect x="640.45" y="132.84" width="4.66" height="4.45" fill="#2b748e"/><rect x="644.51" y="132.84" width="4.66" height="4.45" fill="#2c708e"/><rect x="648.56" y="132.84" width="4.66" height="4.45" fill="#355c8c"/><rect x="652.62" y="132.84" width="4.66" height="4.45" fill="#26808e"/><rect x="656.67" y="132.84" width="4.66" height="4.45" fill="#25838d"/><rect x="660.73" y="132.84" width="4.66" height="4.45" fill="#26818e"/><rect x="664.79" y="132.84" width="4.66" height="4.45" fill="#24848d"/><rect x="668.84" y="132.84" width="4.66" height="4.45" fill="#218c8d"/><rect x="608" y="136.69" width="4.66" height="4.45" fill="#39b976"/><rect x="612.06" y="136.69" width="4.66" height="4.45" fill="#49c16d"/><rect x="616.11" y="136.69" width="4.66" height="4.45" fill="#1fa187"/><rect x="620.17" y="136.69" width="4.66" height="4.45" fill="#1e998a"/><rect x="624.23" y="136.69" width="4.66" height="4.45" fill="#26ac81"/><rect x="628.28" y="136.69" width="4.66" height="4.45" fill="#267f8e"/><rect x="632.34" y="136.69" width="4.66" height="4.45" fill="#2d6f8e"/><rect x="636.39" y="136.69" width="4.66" height="4.45" fill="#2e6d8e"/><rect x="640.45" y="136.69" width="4.66" height="4.45" fill="#2b738e"/><rect x="644.51" y="136.69" width="4.66" height="4.45" fill="#2b738e"/><rect x="648.56" y="136.69" width="4.66" height="4.45" fill="#404487"/><rect x="652.62" y="136.69" width="4.66" height="4.45" fill="#29788e"/><rect x="656.67" y="136.69" width="4.66" height="4.45" fill="#24868d"/><rect x="660.73" y="136.69" width="4.66" height="4.45" fill="#2a768e"/><rect x="664.79" y="136.69" width="4.66" height="4.45" fill="#2c708e"/><rect x="668.84" y="136.69" width="4.66" height="4.45" fill="#26818e"/><rect x="608" y="140.55" width="4.66" height="4.45" fill="#e7e419"/><rect x="612.06" y="140.55" width="4.66" height="4.45" fill="#35b778"/><rect x="616.11" y="140.55" width="4.66" height="4.45" fill="#26818e"/><rect x="620.17" y="140.55" width="4.66" height="4.45" fill="#20a485"/><rect x="624.23" y="140.55" width="4.66" height="4.45" fill="#c2df22"/><rect x="628.28" y="140.55" width="4.66" height="4.45" fill="#67cc5c"/><rect x="632.34" y="140.55" width="4.66" height="4.45" fill="#1e998a"/><rect x="636.39" y="140.55" width="4.66" height="4.45" fill="#277e8e"/><rect x="640.45" y="140.55" width="4.66" height="4.45" fill="#2b738e"/><rect x="644.51" y="140.55" width="4.66" height="4.45" fill="#2c708e"/><rect x="648.56" y="140.55" width="4.66" height="4.45" fill="#287a8e"/><rect x="652.62" y="140.55" width="4.66" height="4.45" fill="#1e978a"/><rect x="656.67" y="140.55" width="4.66" height="4.45" fill="#23898d"/><rect x="660.73" y="140.55" width="4.66" height="4.45" fill="#32638d"/><rect x="664.79" y="140.55" width="4.66" height="4.45" fill="#355d8c"/><rect x="668.84" y="140.55" width="4.66" height="4.45" fill="#2c728e"/></g></g>
<defs><filter id="hb7" x="-5%" y="-5%" width="110%" height="110%"><feGaussianBlur stdDeviation="1.0"/></filter><clipPath id="chb7"><rect x="608" y="149.4" width="64.9" height="43.1"/></clipPath></defs>
<g clip-path="url(#chb7)"><g filter="url(#hb7)"><rect x="608" y="149.4" width="4.66" height="4.52" fill="#d2e11b"/><rect x="612.06" y="149.4" width="4.66" height="4.52" fill="#e1e318"/><rect x="616.11" y="149.4" width="4.66" height="4.52" fill="#cde01d"/><rect x="620.17" y="149.4" width="4.66" height="4.52" fill="#97d83e"/><rect x="624.23" y="149.4" width="4.66" height="4.52" fill="#21a685"/><rect x="628.28" y="149.4" width="4.66" height="4.52" fill="#1f958b"/><rect x="632.34" y="149.4" width="4.66" height="4.52" fill="#1e9a89"/><rect x="636.39" y="149.4" width="4.66" height="4.52" fill="#8bd546"/><rect x="640.45" y="149.4" width="4.66" height="4.52" fill="#64cb5d"/><rect x="644.51" y="149.4" width="4.66" height="4.52" fill="#2a768e"/><rect x="648.56" y="149.4" width="4.66" height="4.52" fill="#32638d"/><rect x="652.62" y="149.4" width="4.66" height="4.52" fill="#33618d"/><rect x="656.67" y="149.4" width="4.66" height="4.52" fill="#31658d"/><rect x="660.73" y="149.4" width="4.66" height="4.52" fill="#2d6f8e"/><rect x="664.79" y="149.4" width="4.66" height="4.52" fill="#2c708e"/><rect x="668.84" y="149.4" width="4.66" height="4.52" fill="#2a758e"/><rect x="608" y="153.32" width="4.66" height="4.52" fill="#55c666"/><rect x="612.06" y="153.32" width="4.66" height="4.52" fill="#74d054"/><rect x="616.11" y="153.32" width="4.66" height="4.52" fill="#9dd93a"/><rect x="620.17" y="153.32" width="4.66" height="4.52" fill="#81d34c"/><rect x="624.23" y="153.32" width="4.66" height="4.52" fill="#208f8c"/><rect x="628.28" y="153.32" width="4.66" height="4.52" fill="#22898d"/><rect x="632.34" y="153.32" width="4.66" height="4.52" fill="#20918c"/><rect x="636.39" y="153.32" width="4.66" height="4.52" fill="#2ab07e"/><rect x="640.45" y="153.32" width="4.66" height="4.52" fill="#27ad80"/><rect x="644.51" y="153.32" width="4.66" height="4.52" fill="#228b8d"/><rect x="648.56" y="153.32" width="4.66" height="4.52" fill="#2f698d"/><rect x="652.62" y="153.32" width="4.66" height="4.52" fill="#365b8c"/><rect x="656.67" y="153.32" width="4.66" height="4.52" fill="#33618d"/><rect x="660.73" y="153.32" width="4.66" height="4.52" fill="#2b748e"/><rect x="664.79" y="153.32" width="4.66" height="4.52" fill="#277d8e"/><rect x="668.84" y="153.32" width="4.66" height="4.52" fill="#24848d"/><rect x="608" y="157.24" width="4.66" height="4.52" fill="#72cf55"/><rect x="612.06" y="157.24" width="4.66" height="4.52" fill="#38b976"/><rect x="616.11" y="157.24" width="4.66" height="4.52" fill="#36b877"/><rect x="620.17" y="157.24" width="4.66" height="4.52" fill="#2bb17d"/><rect x="624.23" y="157.24" width="4.66" height="4.52" fill="#25828e"/><rect x="628.28" y="157.24" width="4.66" height="4.52" fill="#277c8e"/><rect x="632.34" y="157.24" width="4.66" height="4.52" fill="#23878d"/><rect x="636.39" y="157.24" width="4.66" height="4.52" fill="#277e8e"/><rect x="640.45" y="157.24" width="4.66" height="4.52" fill="#228b8d"/><rect x="644.51" y="157.24" width="4.66" height="4.52" fill="#1e9f88"/><rect x="648.56" y="157.24" width="4.66" height="4.52" fill="#29798e"/><rect x="652.62" y="157.24" width="4.66" height="4.52" fill="#32638d"/><rect x="656.67" y="157.24" width="4.66" height="4.52" fill="#33608d"/><rect x="660.73" y="157.24" width="4.66" height="4.52" fill="#2b738e"/><rect x="664.79" y="157.24" width="4.66" height="4.52" fill="#208f8c"/><rect x="668.84" y="157.24" width="4.66" height="4.52" fill="#3bba75"/><rect x="608" y="161.15" width="4.66" height="4.52" fill="#72cf55"/><rect x="612.06" y="161.15" width="4.66" height="4.52" fill="#36b877"/><rect x="616.11" y="161.15" width="4.66" height="4.52" fill="#23a982"/><rect x="620.17" y="161.15" width="4.66" height="4.52" fill="#1f938b"/><rect x="624.23" y="161.15" width="4.66" height="4.52" fill="#277e8e"/><rect x="628.28" y="161.15" width="4.66" height="4.52" fill="#2b748e"/><rect x="632.34" y="161.15" width="4.66" height="4.52" fill="#25828e"/><rect x="636.39" y="161.15" width="4.66" height="4.52" fill="#2b748e"/><rect x="640.45" y="161.15" width="4.66" height="4.52" fill="#25828e"/><rect x="644.51" y="161.15" width="4.66" height="4.52" fill="#1e988a"/><rect x="648.56" y="161.15" width="4.66" height="4.52" fill="#26818e"/><rect x="652.62" y="161.15" width="4.66" height="4.52" fill="#267f8e"/><rect x="656.67" y="161.15" width="4.66" height="4.52" fill="#2e6d8e"/><rect x="660.73" y="161.15" width="4.66" height="4.52" fill="#2e6d8e"/><rect x="664.79" y="161.15" width="4.66" height="4.52" fill="#1f928c"/><rect x="668.84" y="161.15" width="4.66" height="4.52" fill="#74d054"/><rect x="608" y="165.07" width="4.66" height="4.52" fill="#1fa386"/><rect x="612.06" y="165.07" width="4.66" height="4.52" fill="#53c567"/><rect x="616.11" y="165.07" width="4.66" height="4.52" fill="#3bba75"/><rect x="620.17" y="165.07" width="4.66" height="4.52" fill="#1f968b"/><rect x="624.23" y="165.07" width="4.66" height="4.52" fill="#218d8c"/><rect x="628.28" y="165.07" width="4.66" height="4.52" fill="#2c708e"/><rect x="632.34" y="165.07" width="4.66" height="4.52" fill="#277d8e"/><rect x="636.39" y="165.07" width="4.66" height="4.52" fill="#267f8e"/><rect x="640.45" y="165.07" width="4.66" height="4.52" fill="#287a8e"/><rect x="644.51" y="165.07" width="4.66" height="4.52" fill="#2e6d8e"/><rect x="648.56" y="165.07" width="4.66" height="4.52" fill="#29798e"/><rect x="652.62" y="165.07" width="4.66" height="4.52" fill="#1e9b89"/><rect x="656.67" y="165.07" width="4.66" height="4.52" fill="#24848d"/><rect x="660.73" y="165.07" width="4.66" height="4.52" fill="#287a8e"/><rect x="664.79" y="165.07" width="4.66" height="4.52" fill="#228a8d"/><rect x="668.84" y="165.07" width="4.66" height="4.52" fill="#2ab07e"/><rect x="608" y="168.99" width="4.66" height="4.52" fill="#1f958b"/><rect x="612.06" y="168.99" width="4.66" height="4.52" fill="#69cc5b"/><rect x="616.11" y="168.99" width="4.66" height="4.52" fill="#3bba75"/><rect x="620.17" y="168.99" width="4.66" height="4.52" fill="#1e9a89"/><rect x="624.23" y="168.99" width="4.66" height="4.52" fill="#23a883"/><rect x="628.28" y="168.99" width="4.66" height="4.52" fill="#287a8e"/><rect x="632.34" y="168.99" width="4.66" height="4.52" fill="#30688d"/><rect x="636.39" y="168.99" width="4.66" height="4.52" fill="#45347f"/><rect x="640.45" y="168.99" width="4.66" height="4.52" fill="#472575"/><rect x="644.51" y="168.99" width="4.66" height="4.52" fill="#3d4c89"/><rect x="648.56" y="168.99" width="4.66" height="4.52" fill="#2a758e"/><rect x="652.62" y="168.99" width="4.66" height="4.52" fill="#24868d"/><rect x="656.67" y="168.99" width="4.66" height="4.52" fill="#20908c"/><rect x="660.73" y="168.99" width="4.66" height="4.52" fill="#218c8d"/><rect x="664.79" y="168.99" width="4.66" height="4.52" fill="#26818e"/><rect x="668.84" y="168.99" width="4.66" height="4.52" fill="#24868d"/><rect x="608" y="172.91" width="4.66" height="4.52" fill="#bade27"/><rect x="612.06" y="172.91" width="4.66" height="4.52" fill="#5ec961"/><rect x="616.11" y="172.91" width="4.66" height="4.52" fill="#6dce58"/><rect x="620.17" y="172.91" width="4.66" height="4.52" fill="#59c764"/><rect x="624.23" y="172.91" width="4.66" height="4.52" fill="#1f968b"/><rect x="628.28" y="172.91" width="4.66" height="4.52" fill="#2c708e"/><rect x="632.34" y="172.91" width="4.66" height="4.52" fill="#2f698d"/><rect x="636.39" y="172.91" width="4.66" height="4.52" fill="#3e4989"/><rect x="640.45" y="172.91" width="4.66" height="4.52" fill="#414286"/><rect x="644.51" y="172.91" width="4.66" height="4.52" fill="#31648d"/><rect x="648.56" y="172.91" width="4.66" height="4.52" fill="#287a8e"/><rect x="652.62" y="172.91" width="4.66" height="4.52" fill="#24858d"/><rect x="656.67" y="172.91" width="4.66" height="4.52" fill="#1e9d88"/><rect x="660.73" y="172.91" width="4.66" height="4.52" fill="#1f948b"/><rect x="664.79" y="172.91" width="4.66" height="4.52" fill="#26818e"/><rect x="668.84" y="172.91" width="4.66" height="4.52" fill="#23878d"/><rect x="608" y="176.83" width="4.66" height="4.52" fill="#f8e621"/><rect x="612.06" y="176.83" width="4.66" height="4.52" fill="#55c666"/><rect x="616.11" y="176.83" width="4.66" height="4.52" fill="#3bba75"/><rect x="620.17" y="176.83" width="4.66" height="4.52" fill="#4fc369"/><rect x="624.23" y="176.83" width="4.66" height="4.52" fill="#2fb37b"/><rect x="628.28" y="176.83" width="4.66" height="4.52" fill="#2e6c8e"/><rect x="632.34" y="176.83" width="4.66" height="4.52" fill="#2b748e"/><rect x="636.39" y="176.83" width="4.66" height="4.52" fill="#2c708e"/><rect x="640.45" y="176.83" width="4.66" height="4.52" fill="#2d6e8e"/><rect x="644.51" y="176.83" width="4.66" height="4.52" fill="#2b738e"/><rect x="648.56" y="176.83" width="4.66" height="4.52" fill="#25838d"/><rect x="652.62" y="176.83" width="4.66" height="4.52" fill="#218c8d"/><rect x="656.67" y="176.83" width="4.66" height="4.52" fill="#1e978a"/><rect x="660.73" y="176.83" width="4.66" height="4.52" fill="#218c8d"/><rect x="664.79" y="176.83" width="4.66" height="4.52" fill="#24868d"/><rect x="668.84" y="176.83" width="4.66" height="4.52" fill="#1e978a"/><rect x="608" y="180.75" width="4.66" height="4.52" fill="#a5da35"/><rect x="612.06" y="180.75" width="4.66" height="4.52" fill="#4dc26b"/><rect x="616.11" y="180.75" width="4.66" height="4.52" fill="#22a784"/><rect x="620.17" y="180.75" width="4.66" height="4.52" fill="#21a784"/><rect x="624.23" y="180.75" width="4.66" height="4.52" fill="#21a784"/><rect x="628.28" y="180.75" width="4.66" height="4.52" fill="#345e8d"/><rect x="632.34" y="180.75" width="4.66" height="4.52" fill="#31648d"/><rect x="636.39" y="180.75" width="4.66" height="4.52" fill="#2e6c8e"/><rect x="640.45" y="180.75" width="4.66" height="4.52" fill="#2a778e"/><rect x="644.51" y="180.75" width="4.66" height="4.52" fill="#2e6c8e"/><rect x="648.56" y="180.75" width="4.66" height="4.52" fill="#39548b"/><rect x="652.62" y="180.75" width="4.66" height="4.52" fill="#277c8e"/><rect x="656.67" y="180.75" width="4.66" height="4.52" fill="#218e8c"/><rect x="660.73" y="180.75" width="4.66" height="4.52" fill="#24848d"/><rect x="664.79" y="180.75" width="4.66" height="4.52" fill="#24858d"/><rect x="668.84" y="180.75" width="4.66" height="4.52" fill="#20908c"/><rect x="608" y="184.66" width="4.66" height="4.52" fill="#59c764"/><rect x="612.06" y="184.66" width="4.66" height="4.52" fill="#42be71"/><rect x="616.11" y="184.66" width="4.66" height="4.52" fill="#1e978a"/><rect x="620.17" y="184.66" width="4.66" height="4.52" fill="#228a8d"/><rect x="624.23" y="184.66" width="4.66" height="4.52" fill="#21a784"/><rect x="628.28" y="184.66" width="4.66" height="4.52" fill="#287a8e"/><rect x="632.34" y="184.66" width="4.66" height="4.52" fill="#345f8d"/><rect x="636.39" y="184.66" width="4.66" height="4.52" fill="#33618d"/><rect x="640.45" y="184.66" width="4.66" height="4.52" fill="#2f698d"/><rect x="644.51" y="184.66" width="4.66" height="4.52" fill="#33618d"/><rect x="648.56" y="184.66" width="4.66" height="4.52" fill="#45327f"/><rect x="652.62" y="184.66" width="4.66" height="4.52" fill="#2e6d8e"/><rect x="656.67" y="184.66" width="4.66" height="4.52" fill="#277d8e"/><rect x="660.73" y="184.66" width="4.66" height="4.52" fill="#2a778e"/><rect x="664.79" y="184.66" width="4.66" height="4.52" fill="#277d8e"/><rect x="668.84" y="184.66" width="4.66" height="4.52" fill="#26808e"/><rect x="608" y="188.58" width="4.66" height="4.52" fill="#dae218"/><rect x="612.06" y="188.58" width="4.66" height="4.52" fill="#25ab81"/><rect x="616.11" y="188.58" width="4.66" height="4.52" fill="#287a8e"/><rect x="620.17" y="188.58" width="4.66" height="4.52" fill="#1f968b"/><rect x="624.23" y="188.58" width="4.66" height="4.52" fill="#bfdf24"/><rect x="628.28" y="188.58" width="4.66" height="4.52" fill="#64cb5d"/><rect x="632.34" y="188.58" width="4.66" height="4.52" fill="#25838d"/><rect x="636.39" y="188.58" width="4.66" height="4.52" fill="#33618d"/><rect x="640.45" y="188.58" width="4.66" height="4.52" fill="#39548b"/><rect x="644.51" y="188.58" width="4.66" height="4.52" fill="#355c8c"/><rect x="648.56" y="188.58" width="4.66" height="4.52" fill="#2e6d8e"/><rect x="652.62" y="188.58" width="4.66" height="4.52" fill="#23888d"/><rect x="656.67" y="188.58" width="4.66" height="4.52" fill="#25828e"/><rect x="660.73" y="188.58" width="4.66" height="4.52" fill="#2d6f8e"/><rect x="664.79" y="188.58" width="4.66" height="4.52" fill="#25828e"/><rect x="668.84" y="188.58" width="4.66" height="4.52" fill="#1e9a89"/></g></g>
<defs><filter id="hb8" x="-5%" y="-5%" width="110%" height="110%"><feGaussianBlur stdDeviation="1.0"/></filter><clipPath id="chb8"><rect x="599.2" y="216" width="80.5" height="53.7"/></clipPath></defs>
<g clip-path="url(#chb8)"><g filter="url(#hb8)"><rect x="599.2" y="216" width="4.62" height="4.73" fill="#5bc862"/><rect x="603.23" y="216" width="4.62" height="4.73" fill="#55c666"/><rect x="607.25" y="216" width="4.62" height="4.73" fill="#86d449"/><rect x="611.28" y="216" width="4.62" height="4.73" fill="#9dd93a"/><rect x="615.3" y="216" width="4.62" height="4.73" fill="#6dce58"/><rect x="619.33" y="216" width="4.62" height="4.73" fill="#5bc862"/><rect x="623.35" y="216" width="4.62" height="4.73" fill="#6bcd59"/><rect x="627.38" y="216" width="4.62" height="4.73" fill="#62ca5f"/><rect x="631.4" y="216" width="4.62" height="4.73" fill="#32b57a"/><rect x="635.43" y="216" width="4.62" height="4.73" fill="#7ed24e"/><rect x="639.45" y="216" width="4.62" height="4.73" fill="#7ed24e"/><rect x="643.48" y="216" width="4.62" height="4.73" fill="#28ae7f"/><rect x="647.5" y="216" width="4.62" height="4.73" fill="#21a685"/><rect x="651.53" y="216" width="4.62" height="4.73" fill="#1e998a"/><rect x="655.55" y="216" width="4.62" height="4.73" fill="#1f928c"/><rect x="659.58" y="216" width="4.62" height="4.73" fill="#1e9e88"/><rect x="663.6" y="216" width="4.62" height="4.73" fill="#1fa187"/><rect x="667.62" y="216" width="4.62" height="4.73" fill="#1f928c"/><rect x="671.65" y="216" width="4.62" height="4.73" fill="#1f968b"/><rect x="675.68" y="216" width="4.62" height="4.73" fill="#1e9f88"/><rect x="599.2" y="220.13" width="4.62" height="4.73" fill="#29af7f"/><rect x="603.23" y="220.13" width="4.62" height="4.73" fill="#39b976"/><rect x="607.25" y="220.13" width="4.62" height="4.73" fill="#7cd24f"/><rect x="611.28" y="220.13" width="4.62" height="4.73" fill="#8dd644"/><rect x="615.3" y="220.13" width="4.62" height="4.73" fill="#51c468"/><rect x="619.33" y="220.13" width="4.62" height="4.73" fill="#35b778"/><rect x="623.35" y="220.13" width="4.62" height="4.73" fill="#42be71"/><rect x="627.38" y="220.13" width="4.62" height="4.73" fill="#2cb17d"/><rect x="631.4" y="220.13" width="4.62" height="4.73" fill="#1e9f88"/><rect x="635.43" y="220.13" width="4.62" height="4.73" fill="#3dbb74"/><rect x="639.45" y="220.13" width="4.62" height="4.73" fill="#3dbb74"/><rect x="643.48" y="220.13" width="4.62" height="4.73" fill="#1fa187"/><rect x="647.5" y="220.13" width="4.62" height="4.73" fill="#1e9a89"/><rect x="651.53" y="220.13" width="4.62" height="4.73" fill="#1e9f88"/><rect x="655.55" y="220.13" width="4.62" height="4.73" fill="#1e9c89"/><rect x="659.58" y="220.13" width="4.62" height="4.73" fill="#1e9f88"/><rect x="663.6" y="220.13" width="4.62" height="4.73" fill="#1fa286"/><rect x="667.62" y="220.13" width="4.62" height="4.73" fill="#1f958b"/><rect x="671.65" y="220.13" width="4.62" height="4.73" fill="#218d8c"/><rect x="675.68" y="220.13" width="4.62" height="4.73" fill="#1e9c89"/><rect x="599.2" y="224.26" width="4.62" height="4.73" fill="#2eb27c"/><rect x="603.23" y="224.26" width="4.62" height="4.73" fill="#38b976"/><rect x="607.25" y="224.26" width="4.62" height="4.73" fill="#5bc862"/><rect x="611.28" y="224.26" width="4.62" height="4.73" fill="#70ce56"/><rect x="615.3" y="224.26" width="4.62" height="4.73" fill="#3bba75"/><rect x="619.33" y="224.26" width="4.62" height="4.73" fill="#1ea087"/><rect x="623.35" y="224.26" width="4.62" height="4.73" fill="#1e9f88"/><rect x="627.38" y="224.26" width="4.62" height="4.73" fill="#1e9c89"/><rect x="631.4" y="224.26" width="4.62" height="4.73" fill="#1e978a"/><rect x="635.43" y="224.26" width="4.62" height="4.73" fill="#1e978a"/><rect x="639.45" y="224.26" width="4.62" height="4.73" fill="#218c8d"/><rect x="643.48" y="224.26" width="4.62" height="4.73" fill="#1f938b"/><rect x="647.5" y="224.26" width="4.62" height="4.73" fill="#20908c"/><rect x="651.53" y="224.26" width="4.62" height="4.73" fill="#1e9c89"/><rect x="655.55" y="224.26" width="4.62" height="4.73" fill="#21a784"/><rect x="659.58" y="224.26" width="4.62" height="4.73" fill="#1e9b89"/><rect x="663.6" y="224.26" width="4.62" height="4.73" fill="#1e9b89"/><rect x="667.62" y="224.26" width="4.62" height="4.73" fill="#1e9d88"/><rect x="671.65" y="224.26" width="4.62" height="4.73" fill="#1fa187"/><rect x="675.68" y="224.26" width="4.62" height="4.73" fill="#23a982"/><rect x="599.2" y="228.39" width="4.62" height="4.73" fill="#c2df22"/><rect x="603.23" y="228.39" width="4.62" height="4.73" fill="#70ce56"/><rect x="607.25" y="228.39" width="4.62" height="4.73" fill="#28ae7f"/><rect x="611.28" y="228.39" width="4.62" height="4.73" fill="#39b976"/><rect x="615.3" y="228.39" width="4.62" height="4.73" fill="#32b57a"/><rect x="619.33" y="228.39" width="4.62" height="4.73" fill="#1fa286"/><rect x="623.35" y="228.39" width="4.62" height="4.73" fill="#1e9a89"/><rect x="627.38" y="228.39" width="4.62" height="4.73" fill="#1f958b"/><rect x="631.4" y="228.39" width="4.62" height="4.73" fill="#1e9a89"/><rect x="635.43" y="228.39" width="4.62" height="4.73" fill="#2c728e"/><rect x="639.45" y="228.39" width="4.62" height="4.73" fill="#2f698d"/><rect x="643.48" y="228.39" width="4.62" height="4.73" fill="#20a485"/><rect x="647.5" y="228.39" width="4.62" height="4.73" fill="#1e9a89"/><rect x="651.53" y="228.39" width="4.62" height="4.73" fill="#1ea087"/><rect x="655.55" y="228.39" width="4.62" height="4.73" fill="#1e9f88"/><rect x="659.58" y="228.39" width="4.62" height="4.73" fill="#26808e"/><rect x="663.6" y="228.39" width="4.62" height="4.73" fill="#277c8e"/><rect x="667.62" y="228.39" width="4.62" height="4.73" fill="#1e9a89"/><rect x="671.65" y="228.39" width="4.62" height="4.73" fill="#38b976"/><rect x="675.68" y="228.39" width="4.62" height="4.73" fill="#59c764"/><rect x="599.2" y="232.52" width="4.62" height="4.73" fill="#35b778"/><rect x="603.23" y="232.52" width="4.62" height="4.73" fill="#2cb17d"/><rect x="607.25" y="232.52" width="4.62" height="4.73" fill="#2eb27c"/><rect x="611.28" y="232.52" width="4.62" height="4.73" fill="#3ebc73"/><rect x="615.3" y="232.52" width="4.62" height="4.73" fill="#39b976"/><rect x="619.33" y="232.52" width="4.62" height="4.73" fill="#1e9e88"/><rect x="623.35" y="232.52" width="4.62" height="4.73" fill="#228b8d"/><rect x="627.38" y="232.52" width="4.62" height="4.73" fill="#20908c"/><rect x="631.4" y="232.52" width="4.62" height="4.73" fill="#1e9d88"/><rect x="635.43" y="232.52" width="4.62" height="4.73" fill="#228b8d"/><rect x="639.45" y="232.52" width="4.62" height="4.73" fill="#26818e"/><rect x="643.48" y="232.52" width="4.62" height="4.73" fill="#1e988a"/><rect x="647.5" y="232.52" width="4.62" height="4.73" fill="#1e988a"/><rect x="651.53" y="232.52" width="4.62" height="4.73" fill="#20a585"/><rect x="655.55" y="232.52" width="4.62" height="4.73" fill="#1fa386"/><rect x="659.58" y="232.52" width="4.62" height="4.73" fill="#25838d"/><rect x="663.6" y="232.52" width="4.62" height="4.73" fill="#29788e"/><rect x="667.62" y="232.52" width="4.62" height="4.73" fill="#1e998a"/><rect x="671.65" y="232.52" width="4.62" height="4.73" fill="#45bf6f"/><rect x="675.68" y="232.52" width="4.62" height="4.73" fill="#8bd546"/><rect x="599.2" y="236.65" width="4.62" height="4.73" fill="#23898d"/><rect x="603.23" y="236.65" width="4.62" height="4.73" fill="#1ea087"/><rect x="607.25" y="236.65" width="4.62" height="4.73" fill="#44be70"/><rect x="611.28" y="236.65" width="4.62" height="4.73" fill="#30b47a"/><rect x="615.3" y="236.65" width="4.62" height="4.73" fill="#25ab81"/><rect x="619.33" y="236.65" width="4.62" height="4.73" fill="#1e9b89"/><rect x="623.35" y="236.65" width="4.62" height="4.73" fill="#22898d"/><rect x="627.38" y="236.65" width="4.62" height="4.73" fill="#1f928c"/><rect x="631.4" y="236.65" width="4.62" height="4.73" fill="#218d8c"/><rect x="635.43" y="236.65" width="4.62" height="4.73" fill="#2d6e8e"/><rect x="639.45" y="236.65" width="4.62" height="4.73" fill="#2f698d"/><rect x="643.48" y="236.65" width="4.62" height="4.73" fill="#2a758e"/><rect x="647.5" y="236.65" width="4.62" height="4.73" fill="#24868d"/><rect x="651.53" y="236.65" width="4.62" height="4.73" fill="#1e998a"/><rect x="655.55" y="236.65" width="4.62" height="4.73" fill="#22a784"/><rect x="659.58" y="236.65" width="4.62" height="4.73" fill="#1f938b"/><rect x="663.6" y="236.65" width="4.62" height="4.73" fill="#287b8e"/><rect x="667.62" y="236.65" width="4.62" height="4.73" fill="#1f928c"/><rect x="671.65" y="236.65" width="4.62" height="4.73" fill="#32b57a"/><rect x="675.68" y="236.65" width="4.62" height="4.73" fill="#64cb5d"/><rect x="599.2" y="240.78" width="4.62" height="4.73" fill="#1fa286"/><rect x="603.23" y="240.78" width="4.62" height="4.73" fill="#38b976"/><rect x="607.25" y="240.78" width="4.62" height="4.73" fill="#57c665"/><rect x="611.28" y="240.78" width="4.62" height="4.73" fill="#1e9c89"/><rect x="615.3" y="240.78" width="4.62" height="4.73" fill="#1e998a"/><rect x="619.33" y="240.78" width="4.62" height="4.73" fill="#23a982"/><rect x="623.35" y="240.78" width="4.62" height="4.73" fill="#218e8c"/><rect x="627.38" y="240.78" width="4.62" height="4.73" fill="#25838d"/><rect x="631.4" y="240.78" width="4.62" height="4.73" fill="#2b738e"/><rect x="635.43" y="240.78" width="4.62" height="4.73" fill="#481e70"/><rect x="639.45" y="240.78" width="4.62" height="4.73" fill="#470f62"/><rect x="643.48" y="240.78" width="4.62" height="4.73" fill="#433c84"/><rect x="647.5" y="240.78" width="4.62" height="4.73" fill="#30678d"/><rect x="651.53" y="240.78" width="4.62" height="4.73" fill="#218e8c"/><rect x="655.55" y="240.78" width="4.62" height="4.73" fill="#1ea087"/><rect x="659.58" y="240.78" width="4.62" height="4.73" fill="#1f928c"/><rect x="663.6" y="240.78" width="4.62" height="4.73" fill="#23888d"/><rect x="667.62" y="240.78" width="4.62" height="4.73" fill="#208f8c"/><rect x="671.65" y="240.78" width="4.62" height="4.73" fill="#1e9a89"/><rect x="675.68" y="240.78" width="4.62" height="4.73" fill="#1e9e88"/><rect x="599.2" y="244.92" width="4.62" height="4.73" fill="#59c764"/><rect x="603.23" y="244.92" width="4.62" height="4.73" fill="#47c06e"/><rect x="607.25" y="244.92" width="4.62" height="4.73" fill="#44be70"/><rect x="611.28" y="244.92" width="4.62" height="4.73" fill="#57c665"/><rect x="615.3" y="244.92" width="4.62" height="4.73" fill="#4dc26b"/><rect x="619.33" y="244.92" width="4.62" height="4.73" fill="#28ae7f"/><rect x="623.35" y="244.92" width="4.62" height="4.73" fill="#1f948b"/><rect x="627.38" y="244.92" width="4.62" height="4.73" fill="#23878d"/><rect x="631.4" y="244.92" width="4.62" height="4.73" fill="#277c8e"/><rect x="635.43" y="244.92" width="4.62" height="4.73" fill="#443781"/><rect x="639.45" y="244.92" width="4.62" height="4.73" fill="#433c84"/><rect x="643.48" y="244.92" width="4.62" height="4.73" fill="#2b748e"/><rect x="647.5" y="244.92" width="4.62" height="4.73" fill="#25828e"/><rect x="651.53" y="244.92" width="4.62" height="4.73" fill="#1f968b"/><rect x="655.55" y="244.92" width="4.62" height="4.73" fill="#1e998a"/><rect x="659.58" y="244.92" width="4.62" height="4.73" fill="#218d8c"/><rect x="663.6" y="244.92" width="4.62" height="4.73" fill="#218e8c"/><rect x="667.62" y="244.92" width="4.62" height="4.73" fill="#22898d"/><rect x="671.65" y="244.92" width="4.62" height="4.73" fill="#1e9a89"/><rect x="675.68" y="244.92" width="4.62" height="4.73" fill="#1e988a"/><rect x="599.2" y="249.05" width="4.62" height="4.73" fill="#83d34b"/><rect x="603.23" y="249.05" width="4.62" height="4.73" fill="#55c666"/><rect x="607.25" y="249.05" width="4.62" height="4.73" fill="#3bba75"/><rect x="611.28" y="249.05" width="4.62" height="4.73" fill="#64cb5d"/><rect x="615.3" y="249.05" width="4.62" height="4.73" fill="#69cc5b"/><rect x="619.33" y="249.05" width="4.62" height="4.73" fill="#39b976"/><rect x="623.35" y="249.05" width="4.62" height="4.73" fill="#1e9f88"/><rect x="627.38" y="249.05" width="4.62" height="4.73" fill="#1e978a"/><rect x="631.4" y="249.05" width="4.62" height="4.73" fill="#1e988a"/><rect x="635.43" y="249.05" width="4.62" height="4.73" fill="#2f698d"/><rect x="639.45" y="249.05" width="4.62" height="4.73" fill="#2d6e8e"/><rect x="643.48" y="249.05" width="4.62" height="4.73" fill="#20908c"/><rect x="647.5" y="249.05" width="4.62" height="4.73" fill="#1f948b"/><rect x="651.53" y="249.05" width="4.62" height="4.73" fill="#1e998a"/><rect x="655.55" y="249.05" width="4.62" height="4.73" fill="#218d8c"/><rect x="659.58" y="249.05" width="4.62" height="4.73" fill="#24868d"/><rect x="663.6" y="249.05" width="4.62" height="4.73" fill="#1f938b"/><rect x="667.62" y="249.05" width="4.62" height="4.73" fill="#228b8d"/><rect x="671.65" y="249.05" width="4.62" height="4.73" fill="#1f958b"/><rect x="675.68" y="249.05" width="4.62" height="4.73" fill="#228b8d"/><rect x="599.2" y="253.18" width="4.62" height="4.73" fill="#7cd24f"/><rect x="603.23" y="253.18" width="4.62" height="4.73" fill="#6dce58"/><rect x="607.25" y="253.18" width="4.62" height="4.73" fill="#39b976"/><rect x="611.28" y="253.18" width="4.62" height="4.73" fill="#30b47a"/><rect x="615.3" y="253.18" width="4.62" height="4.73" fill="#39b976"/><rect x="619.33" y="253.18" width="4.62" height="4.73" fill="#49c16d"/><rect x="623.35" y="253.18" width="4.62" height="4.73" fill="#1e9b89"/><rect x="627.38" y="253.18" width="4.62" height="4.73" fill="#1e9e88"/><rect x="631.4" y="253.18" width="4.62" height="4.73" fill="#22a784"/><rect x="635.43" y="253.18" width="4.62" height="4.73" fill="#1e9d88"/><rect x="639.45" y="253.18" width="4.62" height="4.73" fill="#1e9f88"/><rect x="643.48" y="253.18" width="4.62" height="4.73" fill="#1e998a"/><rect x="647.5" y="253.18" width="4.62" height="4.73" fill="#20918c"/><rect x="651.53" y="253.18" width="4.62" height="4.73" fill="#1f968b"/><rect x="655.55" y="253.18" width="4.62" height="4.73" fill="#1f938b"/><rect x="659.58" y="253.18" width="4.62" height="4.73" fill="#20908c"/><rect x="663.6" y="253.18" width="4.62" height="4.73" fill="#1e9e88"/><rect x="667.62" y="253.18" width="4.62" height="4.73" fill="#1e9e88"/><rect x="671.65" y="253.18" width="4.62" height="4.73" fill="#1e978a"/><rect x="675.68" y="253.18" width="4.62" height="4.73" fill="#218c8d"/><rect x="599.2" y="257.31" width="4.62" height="4.73" fill="#30b47a"/><rect x="603.23" y="257.31" width="4.62" height="4.73" fill="#2cb17d"/><rect x="607.25" y="257.31" width="4.62" height="4.73" fill="#1e9b89"/><rect x="611.28" y="257.31" width="4.62" height="4.73" fill="#23a982"/><rect x="615.3" y="257.31" width="4.62" height="4.73" fill="#1e9b89"/><rect x="619.33" y="257.31" width="4.62" height="4.73" fill="#1f928c"/><rect x="623.35" y="257.31" width="4.62" height="4.73" fill="#26ac81"/><rect x="627.38" y="257.31" width="4.62" height="4.73" fill="#28ae7f"/><rect x="631.4" y="257.31" width="4.62" height="4.73" fill="#1e9c89"/><rect x="635.43" y="257.31" width="4.62" height="4.73" fill="#20a585"/><rect x="639.45" y="257.31" width="4.62" height="4.73" fill="#22a784"/><rect x="643.48" y="257.31" width="4.62" height="4.73" fill="#20918c"/><rect x="647.5" y="257.31" width="4.62" height="4.73" fill="#33608d"/><rect x="651.53" y="257.31" width="4.62" height="4.73" fill="#355d8c"/><rect x="655.55" y="257.31" width="4.62" height="4.73" fill="#218c8d"/><rect x="659.58" y="257.31" width="4.62" height="4.73" fill="#1f958b"/><rect x="663.6" y="257.31" width="4.62" height="4.73" fill="#20a485"/><rect x="667.62" y="257.31" width="4.62" height="4.73" fill="#1e998a"/><rect x="671.65" y="257.31" width="4.62" height="4.73" fill="#23888d"/><rect x="675.68" y="257.31" width="4.62" height="4.73" fill="#23898d"/><rect x="599.2" y="261.44" width="4.62" height="4.73" fill="#40bd72"/><rect x="603.23" y="261.44" width="4.62" height="4.73" fill="#32b57a"/><rect x="607.25" y="261.44" width="4.62" height="4.73" fill="#1f948b"/><rect x="611.28" y="261.44" width="4.62" height="4.73" fill="#20908c"/><rect x="615.3" y="261.44" width="4.62" height="4.73" fill="#1e998a"/><rect x="619.33" y="261.44" width="4.62" height="4.73" fill="#27ad80"/><rect x="623.35" y="261.44" width="4.62" height="4.73" fill="#47c06e"/><rect x="627.38" y="261.44" width="4.62" height="4.73" fill="#29af7f"/><rect x="631.4" y="261.44" width="4.62" height="4.73" fill="#20908c"/><rect x="635.43" y="261.44" width="4.62" height="4.73" fill="#1e9b89"/><rect x="639.45" y="261.44" width="4.62" height="4.73" fill="#1fa386"/><rect x="643.48" y="261.44" width="4.62" height="4.73" fill="#1f928c"/><rect x="647.5" y="261.44" width="4.62" height="4.73" fill="#2a768e"/><rect x="651.53" y="261.44" width="4.62" height="4.73" fill="#2e6c8e"/><rect x="655.55" y="261.44" width="4.62" height="4.73" fill="#26818e"/><rect x="659.58" y="261.44" width="4.62" height="4.73" fill="#228a8d"/><rect x="663.6" y="261.44" width="4.62" height="4.73" fill="#1e988a"/><rect x="667.62" y="261.44" width="4.62" height="4.73" fill="#23898d"/><rect x="671.65" y="261.44" width="4.62" height="4.73" fill="#26808e"/><rect x="675.68" y="261.44" width="4.62" height="4.73" fill="#228a8d"/><rect x="599.2" y="265.57" width="4.62" height="4.73" fill="#64cb5d"/><rect x="603.23" y="265.57" width="4.62" height="4.73" fill="#45bf6f"/><rect x="607.25" y="265.57" width="4.62" height="4.73" fill="#1ea087"/><rect x="611.28" y="265.57" width="4.62" height="4.73" fill="#2a768e"/><rect x="615.3" y="265.57" width="4.62" height="4.73" fill="#1e998a"/><rect x="619.33" y="265.57" width="4.62" height="4.73" fill="#81d34c"/><rect x="623.35" y="265.57" width="4.62" height="4.73" fill="#5ec961"/><rect x="627.38" y="265.57" width="4.62" height="4.73" fill="#27ad80"/><rect x="631.4" y="265.57" width="4.62" height="4.73" fill="#1e998a"/><rect x="635.43" y="265.57" width="4.62" height="4.73" fill="#1ea087"/><rect x="639.45" y="265.57" width="4.62" height="4.73" fill="#1e9d88"/><rect x="643.48" y="265.57" width="4.62" height="4.73" fill="#1f928c"/><rect x="647.5" y="265.57" width="4.62" height="4.73" fill="#1e9e88"/><rect x="651.53" y="265.57" width="4.62" height="4.73" fill="#1e9e88"/><rect x="655.55" y="265.57" width="4.62" height="4.73" fill="#22898d"/><rect x="659.58" y="265.57" width="4.62" height="4.73" fill="#1f968b"/><rect x="663.6" y="265.57" width="4.62" height="4.73" fill="#1f948b"/><rect x="667.62" y="265.57" width="4.62" height="4.73" fill="#2c708e"/><rect x="671.65" y="265.57" width="4.62" height="4.73" fill="#2c708e"/><rect x="675.68" y="265.57" width="4.62" height="4.73" fill="#218e8c"/></g></g>
<path d="M637 192 L637 208.4 L631.3 208.4 L641.1 215.2 L650.9 208.4 L645.2 208.4 L645.2 192 Z" fill="none" stroke="#000" stroke-width="1.2"/>
<text x="614.8" y="210.7" font-size="12" fill="#000" text-anchor="middle" font-family='"Liberation Sans", sans-serif' font-weight="normal" font-style="normal" >Mean</text>
<rect x="410" y="32.9" width="165.1" height="44.1" rx="7" fill="#dae8fc" stroke="none" stroke-width="1" />
<text x="426.4" y="45.8" font-size="11" fill="#a50000" text-anchor="start" font-family='"Liberation Sans", sans-serif' font-weight="normal" font-style="normal" >Question: Name of the</text>
<text x="435.8" y="58.6" font-size="11" fill="#a50000" text-anchor="start" font-family='"Liberation Sans", sans-serif' font-weight="normal" font-style="normal" >environment of</text>
<text x="441.4" y="71.6" font-size="11" fill="#a50000" text-anchor="start" font-family='"Liberation Sans", sans-serif' font-weight="normal" font-style="normal" >the hidden animal.</text>
<path d="M403.4 82.7 L563.1 82.7 L563.1 77.9 L570.6 87.1 L563.1 96.3 L563.1 91.5 L403.4 91.5 Z" fill="none" stroke="#000" stroke-width="1.2" stroke-linejoin="miter"/>
<rect x="446.1" y="91.5" width="82.2" height="11.5" rx="2" fill="#dae8fc" stroke="none" stroke-width="1" />
<text x="487.2" y="100.8" font-size="11" fill="#111" text-anchor="middle" font-family='"Liberation Sans", sans-serif' font-weight="normal" font-style="normal" ><tspan fill="#a50000">Answer:</tspan> grass</text>
<rect x="410" y="112.5" width="165.1" height="44.1" rx="7" fill="#dae8fc" stroke="none" stroke-width="1" />
<text x="429.6" y="125.1" font-size="11" fill="#a50000" text-anchor="start" font-family='"Liberation Sans", sans-serif' font-weight="normal" font-style="normal" >Question: Name of the</text>
<text x="432.4" y="138" font-size="11" fill="#a50000" text-anchor="start" font-family='"Liberation Sans", sans-serif' font-weight="normal" font-style="normal" >environment of</text>
<text x="432.4" y="150.7" font-size="11" fill="#a50000" text-anchor="start" font-family='"Liberation Sans", sans-serif' font-weight="normal" font-style="normal" >the concealed animal<tspan font-weight="bold" font-size="13">.</tspan></text>
<path d="M407.2 161.5 L566.3 161.5 L566.3 157 L574.3 166.2 L566.3 175.4 L566.3 170.9 L407.2 170.9 Z" fill="none" stroke="#000" stroke-width="1.2" stroke-linejoin="miter"/>
<rect x="448.4" y="173.3" width="81.4" height="12" rx="2" fill="#dae8fc" stroke="none" stroke-width="1" />
<text x="489.1" y="182.6" font-size="11" fill="#111" text-anchor="middle" font-family='"Liberation Sans", sans-serif' font-weight="normal" font-style="normal" ><tspan fill="#a50000">Answer:</tspan> forest</text>
<rect x="410" y="195.3" width="165.1" height="44.1" rx="7" fill="#dae8fc" stroke="none" stroke-width="1" />
<text x="432.4" y="207.9" font-size="11" fill="#a50000" text-anchor="start" font-family='"Liberation Sans", sans-serif' font-weight="normal" font-style="normal" >Question: Name of the</text>
<text x="432.4" y="220.8" font-size="11" fill="#a50000" text-anchor="start" font-family='"Liberation Sans", sans-serif' font-weight="normal" font-style="normal" >environment of</text>
<text x="429.3" y="233.9" font-size="11" fill="#a50000" text-anchor="start" font-family='"Liberation Sans", sans-serif' font-weight="normal" font-style="normal" >the camouflaged animal<tspan font-weight="bold" font-size="13">.</tspan></text>
<path d="M407.7 244.4 L567.2 244.4 L567.2 239.7 L574.7 248.4 L567.2 257.1 L567.2 252.4 L407.7 252.4 Z" fill="none" stroke="#000" stroke-width="1.2" stroke-linejoin="miter"/>
<rect x="441.8" y="255.8" width="81.4" height="11.6" rx="2" fill="#dae8fc" stroke="none" stroke-width="1" />
<text x="482.5" y="265.1" font-size="11" fill="#111" text-anchor="middle" font-family='"Liberation Sans", sans-serif' font-weight="normal" font-style="normal" ><tspan fill="#a50000">Answer:</tspan> forest</text>
<path d="M328.4 273.4 L336.5 273.4 L336.5 299.4 L607.7 299.4 L607.7 293.1 L624.9 305.4 L607.7 313 L607.7 307.4 L335.4 307.4 Q328.4 307.4 328.4 300.4 Z" fill="#eeeeee" stroke="#000" stroke-width="1.2"/>
<path d="M638.4 271.8 L638.4 281.4 L632.5 281.4 L641.5 293.6 L650.5 281.4 L644.6 281.4 L644.6 271.8 Z" fill="#eeeeee" stroke="#000" stroke-width="1.2"/>
<ellipse cx="641.1" cy="305.4" rx="8.8" ry="7.7" fill="none" stroke="#000" stroke-width="1.1"/>
<path d="M632.3 305.4 L649.9 305.4" fill="none" stroke="#000" stroke-width="1.1"/>
<path d="M637.5 319.6 L637.5 341 L627.1 341 L641.3 349.2 L655.5 341 L645.1 341 L645.1 319.6 Z" fill="none" stroke="#000" stroke-width="1.2"/>
<rect x="769.1" y="6.3" width="66.7" height="44.3" rx="7" fill="#dcdce8" stroke="#a8a8c8" stroke-width="1" />
<text x="802.4" y="18.2" font-size="12" fill="#000" text-anchor="middle" font-family='"Liberation Sans", sans-serif' font-weight="normal" font-style="normal" >original</text>
<text x="802.4" y="32.4" font-size="12" fill="#000" text-anchor="middle" font-family='"Liberation Sans", sans-serif' font-weight="normal" font-style="normal" >attention</text>
<text x="802.4" y="46.8" font-size="12" fill="#000" text-anchor="middle" font-family='"Liberation Sans", sans-serif' font-weight="normal" font-style="normal" >block</text>
<rect x="877.1" y="6.3" width="66.7" height="44.3" rx="7" fill="#dcdce8" stroke="#a8a8c8" stroke-width="1" />
<text x="910.4" y="18.2" font-size="12" fill="#000" text-anchor="middle" font-family='"Liberation Sans", sans-serif' font-weight="normal" font-style="normal" >original</text>
<text x="910.4" y="32.4" font-size="12" fill="#000" text-anchor="middle" font-family='"Liberation Sans", sans-serif' font-weight="normal" font-style="normal" >attention</text>
<text x="910.4" y="46.8" font-size="12" fill="#000" text-anchor="middle" font-family='"Liberation Sans", sans-serif' font-weight="normal" font-style="normal" >block</text>
<rect x="770.2" y="71.4" width="66.5" height="44.2" rx="7" fill="#d6dee3" stroke="#a5b8c8" stroke-width="1" />
<text x="803.4" y="83.2" font-size="12" fill="#000" text-anchor="middle" font-family='"Liberation Sans", sans-serif' font-weight="normal" font-style="normal" >new</text>
<text x="803.4" y="97.5" font-size="12" fill="#000" text-anchor="middle" font-family='"Liberation Sans", sans-serif' font-weight="normal" font-style="normal" >attention</text>
<text x="803.4" y="111.7" font-size="12" fill="#000" text-anchor="middle" font-family='"Liberation Sans", sans-serif' font-weight="normal" font-style="normal" >block</text>
<rect x="877.2" y="71.4" width="66.5" height="44.2" rx="7" fill="#d6dee3" stroke="#a5b8c8" stroke-width="1" />
<text x="910.4" y="83.2" font-size="12" fill="#000" text-anchor="middle" font-family='"Liberation Sans", sans-serif' font-weight="normal" font-style="normal" >new</text>
<text x="910.4" y="97.5" font-size="12" fill="#000" text-anchor="middle" font-family='"Liberation Sans", sans-serif' font-weight="normal" font-style="normal" >attention</text>
<text x="910.4" y="111.7" font-size="12" fill="#000" text-anchor="middle" font-family='"Liberation Sans", sans-serif' font-weight="normal" font-style="normal" >block</text>
<rect x="730.2" y="66.2" width="37.1" height="28.8" rx="6" fill="#f4f6f3" stroke="#333" stroke-width="1" />
<rect x="732" y="68" width="33.5" height="25.2" rx="4.5" fill="none" stroke="#333" stroke-width="1" />
<text x="740.05" y="84.4" font-size="15.5" font-family='"Liberation Serif", serif' font-style="italic">S</text>
<text x="748.55" y="86.3" font-size="11" font-family='"Liberation Serif", serif' font-style="italic">m</text>
<path d="M748.5 66.3 L748.5 28.4" fill="none" stroke="#000" stroke-width="1.1"/>
<path d="M748.5 28.4 L762.4 28.4" fill="none" stroke="#000" stroke-width="1.1"/>
<path d="M769.1 28.4 L760.6 32.5 L762.4 28.4 L760.6 24.3 Z" fill="#000"/>
<path d="M748.5 60.5 L828.3 60.5" fill="none" stroke="#000" stroke-width="1.1"/>
<path d="M835 60.5 L826.5 64.6 L828.3 60.5 L826.5 56.4 Z" fill="#000"/>
<path d="M748.5 94.4 L748.5 124.9" fill="none" stroke="#000" stroke-width="1.1"/>
<path d="M748.5 104.2 L763.5 104.2" fill="none" stroke="#000" stroke-width="1.1"/>
<path d="M770.2 104.2 L761.7 108.3 L763.5 104.2 L761.7 100.1 Z" fill="#000"/>
<path d="M748.5 124.9 L829.1 124.9" fill="none" stroke="#000" stroke-width="1.1"/>
<path d="M835.8 124.9 L827.3 129 L829.1 124.9 L827.3 120.8 Z" fill="#000"/>
<circle cx="840.9" cy="60.8" r="5.9" fill="none" stroke="#000" stroke-width="1.1"/>
<path d="M835 60.8 L846.8 60.8" fill="none" stroke="#000" stroke-width="1.1"/>
<path d="M840.9 54.9 L840.9 66.7" fill="none" stroke="#000" stroke-width="1.1"/>
<circle cx="945.5" cy="61.3" r="5.9" fill="none" stroke="#000" stroke-width="1.1"/>
<path d="M939.6 61.3 L951.4 61.3" fill="none" stroke="#000" stroke-width="1.1"/>
<path d="M945.5 55.4 L945.5 67.2" fill="none" stroke="#000" stroke-width="1.1"/>
<circle cx="841.7" cy="125" r="5.9" fill="none" stroke="#000" stroke-width="1.1"/>
<path d="M835.8 125 L847.6 125" fill="none" stroke="#000" stroke-width="1.1"/>
<path d="M841.7 119.1 L841.7 130.9" fill="none" stroke="#000" stroke-width="1.1"/>
<circle cx="945.1" cy="125.1" r="5.9" fill="none" stroke="#000" stroke-width="1.1"/>
<path d="M939.2 125.1 L951 125.1" fill="none" stroke="#000" stroke-width="1.1"/>
<path d="M945.1 119.2 L945.1 131" fill="none" stroke="#000" stroke-width="1.1"/>
<path d="M835.8 28.4 L840.9 28.4 L840.9 48.2" fill="none" stroke="#000" stroke-width="1.1"/>
<path d="M840.9 54.9 L836.8 46.4 L840.9 48.2 L845 46.4 Z" fill="#000"/>
<path d="M943.8 28.4 L945.5 28.4 L945.5 48.7" fill="none" stroke="#000" stroke-width="1.1"/>
<path d="M945.5 55.4 L941.4 46.9 L945.5 48.7 L949.6 46.9 Z" fill="#000"/>
<path d="M836.7 104.7 L841.7 104.7 L841.7 112.4" fill="none" stroke="#000" stroke-width="1.1"/>
<path d="M841.7 119.1 L837.6 110.6 L841.7 112.4 L845.8 110.6 Z" fill="#000"/>
<path d="M944 104.7 L945.1 104.7 L945.1 112.5" fill="none" stroke="#000" stroke-width="1.1"/>
<path d="M945.1 119.2 L941 110.7 L945.1 112.5 L949.2 110.7 Z" fill="#000"/>
<rect x="844.6" y="44.1" width="2.8" height="2.8" rx="0.6" fill="#000" stroke="none" stroke-width="1" />
<rect x="849.5" y="44.1" width="2.8" height="2.8" rx="0.6" fill="#000" stroke="none" stroke-width="1" />
<rect x="854.4" y="44.1" width="2.8" height="2.8" rx="0.6" fill="#000" stroke="none" stroke-width="1" />
<rect x="844.6" y="113.9" width="2.8" height="2.8" rx="0.6" fill="#000" stroke="none" stroke-width="1" />
<rect x="849.5" y="113.9" width="2.8" height="2.8" rx="0.6" fill="#000" stroke="none" stroke-width="1" />
<rect x="854.4" y="113.9" width="2.8" height="2.8" rx="0.6" fill="#000" stroke="none" stroke-width="1" />
<path d="M860.4 27.6 L860.4 104.2" fill="none" stroke="#000" stroke-width="1.1"/>
<path d="M860.4 27.6 L870.4 27.6" fill="none" stroke="#000" stroke-width="1.1"/>
<path d="M877.1 27.6 L868.6 31.7 L870.4 27.6 L868.6 23.5 Z" fill="#000"/>
<path d="M860.4 104.2 L870.5 104.2" fill="none" stroke="#000" stroke-width="1.1"/>
<path d="M877.2 104.2 L868.7 108.3 L870.5 104.2 L868.7 100.1 Z" fill="#000"/>
<path d="M851.5 61.1 L932.9 61.1" fill="none" stroke="#000" stroke-width="1.1"/>
<path d="M939.6 61.1 L931.1 65.2 L932.9 61.1 L931.1 57 Z" fill="#000"/>
<path d="M857.1 125.1 L932.5 125.1" fill="none" stroke="#000" stroke-width="1.1"/>
<path d="M939.2 125.1 L930.7 129.2 L932.5 125.1 L930.7 121 Z" fill="#000"/>
<path d="M951.4 61.3 L953.4 61.3 L953.4 30.3 L960.5 30.3" fill="none" stroke="#000" stroke-width="1.1"/>
<path d="M967.2 30.3 L958.7 34.4 L960.5 30.3 L958.7 26.2 Z" fill="#000"/>
<path d="M951 125.1 L954.2 125.1 L954.2 108.2 L960.2 108.2" fill="none" stroke="#000" stroke-width="1.1"/>
<path d="M966.9 108.2 L958.4 112.3 L960.2 108.2 L958.4 104.1 Z" fill="#000"/>
<rect x="966.6" y="17.3" width="27" height="25.9" rx="5" fill="#f4f6f3" stroke="#222" stroke-width="1" />
<rect x="966.9" y="20.3" width="3.2" height="19.9" rx="0" fill="#7a7a7a" stroke="none" stroke-width="1" />
<rect x="990.1" y="20.3" width="3.2" height="19.9" rx="0" fill="#7a7a7a" stroke="none" stroke-width="1" />
<rect x="969.2" y="19.9" width="21.8" height="20.7" rx="3.5" fill="none" stroke="#222" stroke-width="1" />
<text x="972.19" y="34.85" font-size="15" font-family='"Liberation Serif", serif' font-style="italic">F</text>
<text x="981.5" y="37.05" font-size="10" font-family='"Liberation Serif", serif' font-style="italic">I</text>
<rect x="966.6" y="56.7" width="27" height="25.8" rx="5" fill="#f4f6f3" stroke="#222" stroke-width="1" />
<rect x="966.9" y="59.7" width="3.2" height="19.8" rx="0" fill="#7a7a7a" stroke="none" stroke-width="1" />
<rect x="990.1" y="59.7" width="3.2" height="19.8" rx="0" fill="#7a7a7a" stroke="none" stroke-width="1" />
<rect x="969.2" y="59.3" width="21.8" height="20.6" rx="3.5" fill="none" stroke="#222" stroke-width="1" />
<text x="972.19" y="74.2" font-size="15" font-family='"Liberation Serif", serif' font-style="italic">F</text>
<text x="981.5" y="76.4" font-size="10" font-family='"Liberation Serif", serif' font-style="italic">T</text>
<rect x="966.8" y="95.2" width="26.7" height="26.5" rx="5" fill="#f4f6f3" stroke="#222" stroke-width="1" />
<rect x="967.1" y="98.2" width="3.2" height="20.5" rx="0" fill="#7a7a7a" stroke="none" stroke-width="1" />
<rect x="990" y="98.2" width="3.2" height="20.5" rx="0" fill="#7a7a7a" stroke="none" stroke-width="1" />
<rect x="969.4" y="97.8" width="21.5" height="21.3" rx="3.5" fill="none" stroke="#222" stroke-width="1" />
<text x="972.24" y="113.05" font-size="15" font-family='"Liberation Serif", serif' font-style="italic">F</text>
<text x="981.55" y="115.25" font-size="10" font-family='"Liberation Serif", serif' font-style="italic">I</text>
<path d="M975.15 103.25 L976.8 100.65 L978.45 103.25" fill="none" stroke="#000" stroke-width="0.9"/>
<path d="M979.8 43.4 L979.8 49.6" fill="none" stroke="#000" stroke-width="1.1"/>
<path d="M979.8 56.3 L975.7 47.8 L979.8 49.6 L983.9 47.8 Z" fill="#000"/>
<path d="M979.8 95.5 L979.8 89.3" fill="none" stroke="#000" stroke-width="1.1"/>
<path d="M979.8 82.6 L983.9 91.1 L979.8 89.3 L975.7 91.1 Z" fill="#000"/>
<path d="M731 133.9 L1006 133.9" fill="none" stroke="#555" stroke-width="1.2" stroke-dasharray="2.2 2.2"/>
<rect x="754.3" y="138.1" width="230.5" height="99.3" rx="16" fill="#d4dde2" stroke="#9fb2c2" stroke-width="1" />
<rect x="764" y="140.4" width="35.6" height="30" rx="6" fill="#e2e8ea" stroke="#222" stroke-width="1" />
<rect x="768" y="140.7" width="27.6" height="3" rx="0" fill="#6e6e6e" stroke="none" stroke-width="1" />
<rect x="768" y="167.1" width="27.6" height="3" rx="0" fill="#6e6e6e" stroke="none" stroke-width="1" />
<rect x="766.4" y="142.8" width="30.8" height="25.2" rx="4.5" fill="none" stroke="#222" stroke-width="1" />
<text x="773.1" y="158.8" font-size="15.5" font-family='"Liberation Serif", serif' font-style="italic">S</text>
<text x="781.6" y="160.7" font-size="11" font-family='"Liberation Serif", serif' font-style="italic">m</text>
<path d="M799 155 L926.2 155" fill="none" stroke="#000" stroke-width="1.1"/>
<path d="M932.9 155 L924.4 159.1 L926.2 155 L924.4 150.9 Z" fill="#000"/>
<circle cx="939.1" cy="155" r="5.8" fill="none" stroke="#000" stroke-width="1.1"/>
<path d="M933.3 155 L944.9 155" fill="none" stroke="#000" stroke-width="1.1"/>
<path d="M939.1 149.2 L939.1 160.8" fill="none" stroke="#000" stroke-width="1.1"/>
<path d="M945 155 L965.6 155" fill="none" stroke="#000" stroke-width="1.1"/>
<path d="M972.3 155 L963.8 159.1 L965.6 155 L963.8 150.9 Z" fill="#000"/>
<path d="M782.1 169.8 L782.1 178.4" fill="none" stroke="#000" stroke-width="1.1"/>
<path d="M782.1 185.1 L778 176.6 L782.1 178.4 L786.2 176.6 Z" fill="#000"/>
<rect x="767.8" y="185.1" width="29.6" height="30.1" rx="4" fill="#d4dde2" stroke="#222" stroke-width="1" />
<text x="782.6" y="196.8" font-size="10.5" fill="#000" text-anchor="middle" font-family='"Liberation Serif", serif' font-weight="normal" font-style="normal" >layer</text>
<text x="782.6" y="211.9" font-size="10.5" fill="#000" text-anchor="middle" font-family='"Liberation Serif", serif' font-weight="normal" font-style="normal" >norm</text>
<path d="M797.4 200.1 L807.1 200.1" fill="none" stroke="#000" stroke-width="1.1"/>
<path d="M807.1 171.2 L807.1 224.9" fill="none" stroke="#000" stroke-width="1.1"/>
<path d="M807.1 171.2 L812 171.2" fill="none" stroke="#000" stroke-width="1.1"/>
<path d="M818.7 171.2 L810.2 175.3 L812 171.2 L810.2 167.1 Z" fill="#000"/>
<path d="M807.1 200.1 L812 200.1" fill="none" stroke="#000" stroke-width="1.1"/>
<path d="M818.7 200.1 L810.2 204.2 L812 200.1 L810.2 196 Z" fill="#000"/>
<path d="M807.1 224.9 L813.1 224.9" fill="none" stroke="#000" stroke-width="1.1"/>
<path d="M819.8 224.9 L811.3 229 L813.1 224.9 L811.3 220.8 Z" fill="#000"/>
<rect x="818.7" y="161.9" width="39.8" height="18.6" rx="3" fill="#d4dde2" stroke="#222" stroke-width="1" />
<text x="838.6" y="175.4" font-size="12" fill="#000" text-anchor="middle" font-family='"Liberation Sans", sans-serif' font-weight="normal" font-style="normal" >key</text>
<rect x="818.7" y="190.6" width="40.5" height="19.2" rx="3" fill="#d4dde2" stroke="#222" stroke-width="1" />
<text x="839" y="204.4" font-size="12" fill="#000" text-anchor="middle" font-family='"Liberation Sans", sans-serif' font-weight="normal" font-style="normal" >key</text>
<rect x="819.8" y="216.8" width="40.1" height="18.5" rx="3" fill="#d4dde2" stroke="#222" stroke-width="1" />
<text x="839.8" y="230.2" font-size="12" fill="#000" text-anchor="middle" font-family='"Liberation Sans", sans-serif' font-weight="normal" font-style="normal" >value</text>
<circle cx="878.2" cy="199.5" r="6" fill="none" stroke="#000" stroke-width="1.1"/>
<path d="M873.96 195.26 L882.44 203.74" fill="none" stroke="#000" stroke-width="1.1"/>
<path d="M873.96 203.74 L882.44 195.26" fill="none" stroke="#000" stroke-width="1.1"/>
<circle cx="900.5" cy="199.5" r="6" fill="none" stroke="#000" stroke-width="1.1"/>
<path d="M896.26 195.26 L904.74 203.74" fill="none" stroke="#000" stroke-width="1.1"/>
<path d="M896.26 203.74 L904.74 195.26" fill="none" stroke="#000" stroke-width="1.1"/>
<path d="M858.5 171.2 L878.2 171.2 L878.2 186.8" fill="none" stroke="#000" stroke-width="1.1"/>
<path d="M878.2 193.5 L874.1 185 L878.2 186.8 L882.3 185 Z" fill="#000"/>
<path d="M859.2 199.5 L865.5 199.5" fill="none" stroke="#000" stroke-width="1.1"/>
<path d="M872.2 199.5 L863.7 203.6 L865.5 199.5 L863.7 195.4 Z" fill="#000"/>
<path d="M884.2 199.5 L887.8 199.5" fill="none" stroke="#000" stroke-width="1.1"/>
<path d="M894.5 199.5 L886 203.6 L887.8 199.5 L886 195.4 Z" fill="#000"/>
<path d="M859.9 224.9 L900.5 224.9 L900.5 212.2" fill="none" stroke="#000" stroke-width="1.1"/>
<path d="M900.5 205.5 L904.6 214 L900.5 212.2 L896.4 214 Z" fill="#000"/>
<path d="M904.8 195.2 L904.8 190.2 L909.2 190.2" fill="none" stroke="#000" stroke-width="1.1"/>
<path d="M914.4 190.2 L907.4 194.3 L909.2 190.2 L907.4 186.1 Z" fill="#000"/>
<rect x="914.4" y="175.1" width="50.2" height="30.1" rx="4" fill="#d4dde2" stroke="#222" stroke-width="1" />
<text x="939.5" y="187.2" font-size="10.5" fill="#000" text-anchor="middle" font-family='"Liberation Serif", serif' font-weight="normal" font-style="normal" >linear</text>
<text x="939.5" y="202.3" font-size="10.5" fill="#000" text-anchor="middle" font-family='"Liberation Serif", serif' font-weight="normal" font-style="normal" >projection</text>
<path d="M939.1 175.1 L939.1 167.5" fill="none" stroke="#000" stroke-width="1.1"/>
<path d="M939.1 160.8 L943.2 169.3 L939.1 167.5 L935 169.3 Z" fill="#000"/>
<text x="941.8" y="220.3" font-size="12" fill="#000" text-anchor="middle" font-family='"Liberation Sans", sans-serif' font-weight="normal" font-style="normal" >new attention</text>
<text x="942.1" y="234.2" font-size="12" fill="#000" text-anchor="middle" font-family='"Liberation Sans", sans-serif' font-weight="normal" font-style="normal" >block</text>
<rect x="741.3" y="241.5" width="251.7" height="66.1" rx="10" fill="#c9ced1" stroke="#a0a6aa" stroke-width="1" stroke-dasharray="3 2" />
<rect x="746.4" y="244.3" width="36.6" height="27.9" rx="6" fill="#c9ced1" stroke="#333" stroke-width="1" />
<rect x="748.2" y="246.1" width="33" height="24.3" rx="4.5" fill="none" stroke="#333" stroke-width="1" />
<text x="756" y="262.15" font-size="15.5" font-family='"Liberation Serif", serif' font-style="italic">S</text>
<text x="764.5" y="264.05" font-size="11" font-family='"Liberation Serif", serif' font-style="italic">m</text>
<rect x="753.9" y="277.5" width="25.9" height="26.2" rx="5" fill="#c9ced1" stroke="#333" stroke-width="1" />
<rect x="755.6" y="279.2" width="22.5" height="22.8" rx="3.5" fill="none" stroke="#333" stroke-width="1" />
<text x="759.29" y="294.9" font-size="15" font-family='"Liberation Serif", serif' font-style="italic">F</text>
<text x="768.6" y="297.1" font-size="10" font-family='"Liberation Serif", serif' font-style="italic">T</text>
<rect x="868.4" y="246" width="30.5" height="28" rx="5" fill="#c9ced1" stroke="#333" stroke-width="1" />
<rect x="870.2" y="247.8" width="26.9" height="24.4" rx="3.5" fill="none" stroke="#333" stroke-width="1" />
<text x="875.74" y="266.2" font-size="14" font-family='"Liberation Serif", serif' font-style="italic">F</text>
<text x="885.05" y="268.4" font-size="10" font-family='"Liberation Serif", serif' font-style="italic">I</text>
<path d="M878.65 256.4 L880.3 253.8 L881.95 256.4" fill="none" stroke="#000" stroke-width="0.9"/>
<rect x="862.1" y="277.1" width="26.3" height="26.3" rx="5" fill="#c9ced1" stroke="#333" stroke-width="1" />
<rect x="863.9" y="278.9" width="22.7" height="22.7" rx="3.5" fill="none" stroke="#333" stroke-width="1" />
<text x="867.34" y="294.85" font-size="15" font-family='"Liberation Serif", serif' font-style="italic">F</text>
<text x="876.65" y="297.05" font-size="10" font-family='"Liberation Serif", serif' font-style="italic">I</text>
<text x="825.8" y="255.4" font-size="12" fill="#000" text-anchor="middle" font-family='"Liberation Sans", sans-serif' font-weight="normal" font-style="normal" >feature of the</text>
<text x="825.8" y="269.5" font-size="12" fill="#000" text-anchor="middle" font-family='"Liberation Sans", sans-serif' font-weight="normal" font-style="normal" >m-th block</text>
<text x="823.1" y="285.3" font-size="12" fill="#000" text-anchor="middle" font-family='"Liberation Sans", sans-serif' font-weight="normal" font-style="normal" >feature of the</text>
<text x="822.9" y="300.5" font-size="12" fill="#000" text-anchor="middle" font-family='"Liberation Sans", sans-serif' font-weight="normal" font-style="normal" >text block</text>
<text x="944" y="255.8" font-size="12" fill="#000" text-anchor="middle" font-family='"Liberation Sans", sans-serif' font-weight="normal" font-style="normal" >feature of new</text>
<text x="943.9" y="270.6" font-size="12" fill="#000" text-anchor="middle" font-family='"Liberation Sans", sans-serif' font-weight="normal" font-style="normal" >image token</text>
<text x="938.1" y="287" font-size="12" fill="#000" text-anchor="middle" font-family='"Liberation Sans", sans-serif' font-weight="normal" font-style="normal" >feature of original</text>
<text x="939.7" y="301.7" font-size="12" fill="#000" text-anchor="middle" font-family='"Liberation Sans", sans-serif' font-weight="normal" font-style="normal" >image token</text>
<text x="868.1" y="322.3" font-size="15" fill="#000" text-anchor="middle" font-family='"Liberation Sans", sans-serif' font-weight="normal" font-style="normal" >Spatial CLIP</text>
<rect x="13.7" y="339.8" width="119.6" height="29.2" rx="7" fill="#dae8fc" stroke="none" stroke-width="1" />
<text x="73.2" y="359" font-size="13" fill="#8b0000" text-anchor="middle" font-family='"Liberation Sans", sans-serif' font-weight="bold" font-style="normal" >Generic prompt</text>
<defs><clipPath id="pcb"><rect x="10" y="381.8" width="80" height="52.8"/></clipPath></defs>
<g clip-path="url(#pcb)"><g transform="translate(10,381.8) scale(1,1)" filter="url(#pblur)"><use href="#ph"/></g>
</g>
<rect x="74.2" y="435" width="57.5" height="13" rx="0" fill="#fff" stroke="none" stroke-width="1" />
<rect x="90" y="432" width="41.7" height="4" rx="0" fill="#fff" stroke="none" stroke-width="1" />
<path d="M90 408.7 L98.9 408.7" fill="none" stroke="#000" stroke-width="1.1"/>
<path d="M105.6 408.7 L97.1 412.8 L98.9 408.7 L97.1 404.6 Z" fill="#000"/>
<circle cx="111.8" cy="408.5" r="6.2" fill="#fff" stroke="#000" stroke-width="1.1"/>
<path d="M107.42 404.12 L116.18 412.88" fill="none" stroke="#000" stroke-width="1.1"/>
<path d="M107.42 412.88 L116.18 404.12" fill="none" stroke="#000" stroke-width="1.1"/>
<path d="M118 407.4 L127.7 407.4" fill="none" stroke="#000" stroke-width="1.1"/>
<path d="M134.4 407.4 L125.9 411.5 L127.7 407.4 L125.9 403.3 Z" fill="#000"/>
<path d="M133.3 354.5 L536.9 354.5" fill="none" stroke="#000" stroke-width="1.1"/>
<path d="M543.6 354.5 L535.1 358.6 L536.9 354.5 L535.1 350.4 Z" fill="#000"/>
<path d="M516.9 408.4 L536.9 408.4" fill="none" stroke="#000" stroke-width="1.1"/>
<path d="M543.6 408.4 L535.1 412.5 L536.9 408.4 L535.1 404.3 Z" fill="#000"/>
<path d="M583.8 418.8 L684.8 418.8 L684.8 447.5 L111.8 447.5 L111.8 420.5" fill="none" stroke="#000" stroke-width="1.1"/>
<path d="M111.8 414.8 L115.9 423.3 L111.8 421.5 L107.7 423.3 Z" fill="#000"/>
<path d="M684.8 440.8 L690.7 440.8" fill="none" stroke="#000" stroke-width="1.1"/>
<path d="M697.4 440.8 L688.9 444.9 L690.7 440.8 L688.9 436.7 Z" fill="#000"/>
<text x="40" y="464.2" font-size="14" fill="#000" text-anchor="start" font-family='"Liberation Sans", sans-serif' font-weight="bold" font-style="normal" >PMG: Progressive Mask Generation</text>
<rect x="134.6" y="361.3" width="383.6" height="78" rx="12" fill="#d8f4e6" stroke="#9aa8a0" stroke-width="1" />
<defs><clipPath id="pcc"><rect x="145.4" y="368.4" width="74.4" height="49.2"/></clipPath></defs>
<g clip-path="url(#pcc)"><g transform="translate(140.75,358.19) scale(1.16,1.16)" filter="url(#pblur)"><use href="#ph"/></g>
<rect x="175.4" y="376.9" width="1.6" height="1.6" fill="#e00"/>
<rect x="177.9" y="376.9" width="1.6" height="1.6" fill="#e00"/>
<rect x="175.4" y="378.9" width="1.6" height="1.6" fill="#e00"/>
<rect x="177.9" y="378.9" width="1.6" height="1.6" fill="#e00"/>
<rect x="157.4" y="388.4" width="1.6" height="1.6" fill="#22c"/>
<rect x="210.4" y="405.4" width="1.6" height="1.6" fill="#22c"/>
<rect x="212.9" y="405.4" width="1.6" height="1.6" fill="#22c"/>
<rect x="217.4" y="408.4" width="1.6" height="1.6" fill="#22c"/>
</g>
<defs><clipPath id="pcd"><rect x="233" y="368.3" width="74.9" height="49.3"/></clipPath></defs>
<g clip-path="url(#pcd)"><g transform="translate(228.32,358.07) scale(1.17,1.16)" filter="url(#pblur)"><use href="#ph"/></g>
<rect x="233" y="368.3" width="74.9" height="49.3" fill="#1e1808" opacity="0.38"/>
<rect x="261.5" y="377.3" width="1.6" height="1.6" fill="#e00"/>
<rect x="255" y="392.3" width="1.6" height="1.6" fill="#e00"/>
<rect x="258" y="391.3" width="1.6" height="1.6" fill="#e00"/>
<rect x="259" y="387.3" width="1.6" height="1.6" fill="#e00"/>
<rect x="270" y="368.3" width="1.6" height="1.6" fill="#22c"/>
<rect x="272.5" y="368.3" width="1.6" height="1.6" fill="#22c"/>
<rect x="304" y="375.3" width="1.6" height="1.6" fill="#22c"/>
<rect x="305" y="377.3" width="1.6" height="1.6" fill="#22c"/>
</g>
<defs><clipPath id="pce"><rect x="320.2" y="368.3" width="74.8" height="49.3"/></clipPath></defs>
<g clip-path="url(#pce)"><g transform="translate(313.09,353.88) scale(1.31,1.3)" filter="url(#pblur)"><use href="#ph"/></g>
<rect x="320.2" y="368.3" width="74.8" height="49.3" fill="#1e1808" opacity="0.64"/>
<rect x="342.2" y="390.8" width="1.6" height="1.6" fill="#e00"/>
<rect x="342.2" y="388.3" width="1.6" height="1.6" fill="#e00"/>
<rect x="345.2" y="388.3" width="1.6" height="1.6" fill="#e00"/>
<rect x="393.2" y="395.3" width="1.6" height="1.6" fill="#22c"/>
<rect x="382.2" y="402.3" width="1.6" height="1.6" fill="#22c"/>
<rect x="384.7" y="402.3" width="1.6" height="1.6" fill="#22c"/>
</g>
<defs><clipPath id="pcf"><rect x="434.1" y="368.3" width="74.9" height="49.3"/></clipPath></defs>
<g clip-path="url(#pcf)"><g transform="translate(426.98,353.88) scale(1.31,1.3)" filter="url(#pblur)"><use href="#ph"/></g>
<rect x="434.1" y="368.3" width="74.9" height="49.3" fill="#1e1808" opacity="0.68"/>
<rect x="467.1" y="389.3" width="1.6" height="1.6" fill="#e00"/>
<rect x="469.1" y="387.8" width="1.6" height="1.6" fill="#e00"/>
<rect x="434.1" y="368.3" width="1.6" height="1.6" fill="#22c"/>
<rect x="436.6" y="368.3" width="1.6" height="1.6" fill="#22c"/>
<rect x="434.1" y="395.3" width="1.6" height="1.6" fill="#22c"/>
</g>
<rect x="145.4" y="405.9" width="23.3" height="11.7" rx="0" fill="#d0d5d6" stroke="none" stroke-width="1" />
<text x="152.3" y="415.6" font-size="10.5" font-family='"Liberation Serif", serif' font-style="italic">I</text>
<text x="157.6" y="417.4" font-size="8" font-family='"Liberation Serif", serif' font-style="normal">1</text>
<rect x="233" y="405.9" width="24.1" height="11.7" rx="0" fill="#d0d5d6" stroke="none" stroke-width="1" />
<text x="239.9" y="415.6" font-size="10.5" font-family='"Liberation Serif", serif' font-style="italic">I</text>
<text x="245.2" y="417.4" font-size="8" font-family='"Liberation Serif", serif' font-style="normal">2</text>
<rect x="320.2" y="405.9" width="23.7" height="11.7" rx="0" fill="#d0d5d6" stroke="none" stroke-width="1" />
<text x="327.1" y="415.6" font-size="10.5" font-family='"Liberation Serif", serif' font-style="italic">I</text>
<text x="332.4" y="417.4" font-size="8" font-family='"Liberation Serif", serif' font-style="normal">3</text>
<rect x="434.1" y="405.9" width="22.9" height="11.7" rx="0" fill="#d0d5d6" stroke="none" stroke-width="1" />
<text x="441" y="415.6" font-size="10.5" font-family='"Liberation Serif", serif' font-style="italic">I</text>
<text x="446.3" y="417.4" font-size="8" font-family='"Liberation Serif", serif' font-style="italic">G</text>
<path d="M220.7 393.4 L226.3 393.4" fill="none" stroke="#000" stroke-width="1.1"/>
<path d="M233 393.4 L224.5 397.5 L226.3 393.4 L224.5 389.3 Z" fill="#000"/>
<path d="M308.8 393.9 L313.5 393.9" fill="none" stroke="#000" stroke-width="1.1"/>
<path d="M320.2 393.9 L311.7 398 L313.5 393.9 L311.7 389.8 Z" fill="#000"/>
<circle cx="396" cy="394.4" r="1" fill="#333"/>
<circle cx="402.6" cy="394.4" r="1" fill="#333"/>
<circle cx="410.2" cy="394.4" r="1" fill="#333"/>
<path d="M415.5 394.4 L427.4 394.4" fill="none" stroke="#000" stroke-width="1.1"/>
<path d="M434.1 394.4 L425.6 398.5 L427.4 394.4 L425.6 390.3 Z" fill="#000"/>
<text x="139.1" y="432.5" font-size="11" fill="#000" text-anchor="start" font-family='"Liberation Sans", sans-serif' font-weight="normal" font-style="normal" >weighted image during iteration</text>
<circle cx="388.6" cy="428" r="4.1" fill="#f00"/>
<text x="400" y="432.2" font-size="11" fill="#000" text-anchor="start" font-family='"Liberation Sans", sans-serif' font-weight="normal" font-style="normal" >Positive</text>
<circle cx="453.4" cy="428" r="4.1" fill="#00f"/>
<text x="466.7" y="432.2" font-size="11" fill="#000" text-anchor="start" font-family='"Liberation Sans", sans-serif' font-weight="normal" font-style="normal" >Negative</text>
<rect x="543.6" y="338.2" width="40.2" height="92.2" rx="8" fill="#eeeeee" stroke="#555" stroke-width="1" />
<text x="563.9" y="389.4" font-size="14" fill="#000" text-anchor="middle" font-family='"Liberation Sans", sans-serif' font-weight="bold" font-style="normal" >CCTP</text>
<defs><filter id="hb9" x="-5%" y="-5%" width="110%" height="110%"><feGaussianBlur stdDeviation="1.1"/></filter><clipPath id="chb9"><rect x="587.7" y="352.3" width="94.6" height="62.6"/></clipPath><radialGradient id="hb9g0"><stop offset="0.00" stop-color="#32628d" stop-opacity="1.000"/><stop offset="0.20" stop-color="#32628d" stop-opacity="0.874"/><stop offset="0.40" stop-color="#32628d" stop-opacity="0.582"/><stop offset="0.60" stop-color="#32628d" stop-opacity="0.296"/><stop offset="0.80" stop-color="#32628d" stop-opacity="0.115"/><stop offset="1.00" stop-color="#32628d" stop-opacity="0.034"/></radialGradient><radialGradient id="hb9g1"><stop offset="0.00" stop-color="#472878" stop-opacity="1.000"/><stop offset="0.20" stop-color="#472878" stop-opacity="0.874"/><stop offset="0.40" stop-color="#472878" stop-opacity="0.582"/><stop offset="0.60" stop-color="#472878" stop-opacity="0.296"/><stop offset="0.80" stop-color="#472878" stop-opacity="0.115"/><stop offset="1.00" stop-color="#472878" stop-opacity="0.034"/></radialGradient><radialGradient id="hb9g2"><stop offset="0.00" stop-color="#4bc26c" stop-opacity="1.000"/><stop offset="0.20" stop-color="#4bc26c" stop-opacity="0.874"/><stop offset="0.40" stop-color="#4bc26c" stop-opacity="0.582"/><stop offset="0.60" stop-color="#4bc26c" stop-opacity="0.296"/><stop offset="0.80" stop-color="#4bc26c" stop-opacity="0.115"/><stop offset="1.00" stop-color="#4bc26c" stop-opacity="0.034"/></radialGradient><radialGradient id="hb9g3"><stop offset="0.00" stop-color="#44be70" stop-opacity="1.000"/><stop offset="0.20" stop-color="#44be70" stop-opacity="0.874"/><stop offset="0.40" stop-color="#44be70" stop-opacity="0.582"/><stop offset="0.60" stop-color="#44be70" stop-opacity="0.296"/><stop offset="0.80" stop-color="#44be70" stop-opacity="0.115"/><stop offset="1.00" stop-color="#44be70" stop-opacity="0.034"/></radialGradient><radialGradient id="hb9g4"><stop offset="0.00" stop-color="#fde724" stop-opacity="1.000"/><stop offset="0.20" stop-color="#fde724" stop-opacity="0.874"/><stop offset="0.40" stop-color="#fde724" stop-opacity="0.582"/><stop offset="0.60" stop-color="#fde724" stop-opacity="0.296"/><stop offset="0.80" stop-color="#fde724" stop-opacity="0.115"/><stop offset="1.00" stop-color="#fde724" stop-opacity="0.034"/></radialGradient><radialGradient id="hb9g5"><stop offset="0.00" stop-color="#aadb32" stop-opacity="1.000"/><stop offset="0.20" stop-color="#aadb32" stop-opacity="0.874"/><stop offset="0.40" stop-color="#aadb32" stop-opacity="0.582"/><stop offset="0.60" stop-color="#aadb32" stop-opacity="0.296"/><stop offset="0.80" stop-color="#aadb32" stop-opacity="0.115"/><stop offset="1.00" stop-color="#aadb32" stop-opacity="0.034"/></radialGradient><radialGradient id="hb9g6"><stop offset="0.00" stop-color="#59c764" stop-opacity="1.000"/><stop offset="0.20" stop-color="#59c764" stop-opacity="0.874"/><stop offset="0.40" stop-color="#59c764" stop-opacity="0.582"/><stop offset="0.60" stop-color="#59c764" stop-opacity="0.296"/><stop offset="0.80" stop-color="#59c764" stop-opacity="0.115"/><stop offset="1.00" stop-color="#59c764" stop-opacity="0.034"/></radialGradient><radialGradient id="hb9g7"><stop offset="0.00" stop-color="#2bb17d" stop-opacity="1.000"/><stop offset="0.20" stop-color="#2bb17d" stop-opacity="0.874"/><stop offset="0.40" stop-color="#2bb17d" stop-opacity="0.582"/><stop offset="0.60" stop-color="#2bb17d" stop-opacity="0.296"/><stop offset="0.80" stop-color="#2bb17d" stop-opacity="0.115"/><stop offset="1.00" stop-color="#2bb17d" stop-opacity="0.034"/></radialGradient><radialGradient id="hb9g8"><stop offset="0.00" stop-color="#cae01e" stop-opacity="1.000"/><stop offset="0.20" stop-color="#cae01e" stop-opacity="0.874"/><stop offset="0.40" stop-color="#cae01e" stop-opacity="0.582"/><stop offset="0.60" stop-color="#cae01e" stop-opacity="0.296"/><stop offset="0.80" stop-color="#cae01e" stop-opacity="0.115"/><stop offset="1.00" stop-color="#cae01e" stop-opacity="0.034"/></radialGradient></defs>
<g clip-path="url(#chb9)"><g filter="url(#hb9)"><rect x="587.7" y="352.3" width="4.54" height="4.51" fill="#3e4989"/><rect x="591.64" y="352.3" width="4.54" height="4.51" fill="#443781"/><rect x="595.58" y="352.3" width="4.54" height="4.51" fill="#482374"/><rect x="599.53" y="352.3" width="4.54" height="4.51" fill="#472575"/><rect x="603.47" y="352.3" width="4.54" height="4.51" fill="#462f7c"/><rect x="607.41" y="352.3" width="4.54" height="4.51" fill="#472676"/><rect x="611.35" y="352.3" width="4.54" height="4.51" fill="#46307d"/><rect x="615.29" y="352.3" width="4.54" height="4.51" fill="#46307d"/><rect x="619.23" y="352.3" width="4.54" height="4.51" fill="#462d7c"/><rect x="623.18" y="352.3" width="4.54" height="4.51" fill="#45327f"/><rect x="627.12" y="352.3" width="4.54" height="4.51" fill="#423e85"/><rect x="631.06" y="352.3" width="4.54" height="4.51" fill="#3e4888"/><rect x="635" y="352.3" width="4.54" height="4.51" fill="#345e8d"/><rect x="638.94" y="352.3" width="4.54" height="4.51" fill="#345f8d"/><rect x="642.88" y="352.3" width="4.54" height="4.51" fill="#33618d"/><rect x="646.83" y="352.3" width="4.54" height="4.51" fill="#37588c"/><rect x="650.77" y="352.3" width="4.54" height="4.51" fill="#3d4a89"/><rect x="654.71" y="352.3" width="4.54" height="4.51" fill="#404387"/><rect x="658.65" y="352.3" width="4.54" height="4.51" fill="#3e4888"/><rect x="662.59" y="352.3" width="4.54" height="4.51" fill="#3e4989"/><rect x="666.53" y="352.3" width="4.54" height="4.51" fill="#423e85"/><rect x="670.48" y="352.3" width="4.54" height="4.51" fill="#3d4a89"/><rect x="674.42" y="352.3" width="4.54" height="4.51" fill="#3a528b"/><rect x="678.36" y="352.3" width="4.54" height="4.51" fill="#3c4d8a"/><rect x="587.7" y="356.21" width="4.54" height="4.51" fill="#3f4587"/><rect x="591.64" y="356.21" width="4.54" height="4.51" fill="#46317e"/><rect x="595.58" y="356.21" width="4.54" height="4.51" fill="#46317e"/><rect x="599.53" y="356.21" width="4.54" height="4.51" fill="#46317e"/><rect x="603.47" y="356.21" width="4.54" height="4.51" fill="#472b7a"/><rect x="607.41" y="356.21" width="4.54" height="4.51" fill="#482273"/><rect x="611.35" y="356.21" width="4.54" height="4.51" fill="#472c7b"/><rect x="615.29" y="356.21" width="4.54" height="4.51" fill="#45327f"/><rect x="619.23" y="356.21" width="4.54" height="4.51" fill="#462f7c"/><rect x="623.18" y="356.21" width="4.54" height="4.51" fill="#472676"/><rect x="627.12" y="356.21" width="4.54" height="4.51" fill="#433b83"/><rect x="631.06" y="356.21" width="4.54" height="4.51" fill="#3b518a"/><rect x="635" y="356.21" width="4.54" height="4.51" fill="#355c8c"/><rect x="638.94" y="356.21" width="4.54" height="4.51" fill="#38568b"/><rect x="642.88" y="356.21" width="4.54" height="4.51" fill="#3b518a"/><rect x="646.83" y="356.21" width="4.54" height="4.51" fill="#3b508a"/><rect x="650.77" y="356.21" width="4.54" height="4.51" fill="#3e4888"/><rect x="654.71" y="356.21" width="4.54" height="4.51" fill="#404487"/><rect x="658.65" y="356.21" width="4.54" height="4.51" fill="#423e85"/><rect x="662.59" y="356.21" width="4.54" height="4.51" fill="#443982"/><rect x="666.53" y="356.21" width="4.54" height="4.51" fill="#433a83"/><rect x="670.48" y="356.21" width="4.54" height="4.51" fill="#404487"/><rect x="674.42" y="356.21" width="4.54" height="4.51" fill="#3f4788"/><rect x="678.36" y="356.21" width="4.54" height="4.51" fill="#414186"/><rect x="587.7" y="360.12" width="4.54" height="4.51" fill="#3e4888"/><rect x="591.64" y="360.12" width="4.54" height="4.51" fill="#433c84"/><rect x="595.58" y="360.12" width="4.54" height="4.51" fill="#423d84"/><rect x="599.53" y="360.12" width="4.54" height="4.51" fill="#453681"/><rect x="603.47" y="360.12" width="4.54" height="4.51" fill="#482273"/><rect x="607.41" y="360.12" width="4.54" height="4.51" fill="#481d6f"/><rect x="611.35" y="360.12" width="4.54" height="4.51" fill="#462d7c"/><rect x="615.29" y="360.12" width="4.54" height="4.51" fill="#423d84"/><rect x="619.23" y="360.12" width="4.54" height="4.51" fill="#443781"/><rect x="623.18" y="360.12" width="4.54" height="4.51" fill="#472b7a"/><rect x="627.12" y="360.12" width="4.54" height="4.51" fill="#414286"/><rect x="631.06" y="360.12" width="4.54" height="4.51" fill="#33618d"/><rect x="635" y="360.12" width="4.54" height="4.51" fill="#31648d"/><rect x="638.94" y="360.12" width="4.54" height="4.51" fill="#3a538b"/><rect x="642.88" y="360.12" width="4.54" height="4.51" fill="#433a83"/><rect x="646.83" y="360.12" width="4.54" height="4.51" fill="#424085"/><rect x="650.77" y="360.12" width="4.54" height="4.51" fill="#414186"/><rect x="654.71" y="360.12" width="4.54" height="4.51" fill="#433a83"/><rect x="658.65" y="360.12" width="4.54" height="4.51" fill="#443781"/><rect x="662.59" y="360.12" width="4.54" height="4.51" fill="#423e85"/><rect x="666.53" y="360.12" width="4.54" height="4.51" fill="#3e4888"/><rect x="670.48" y="360.12" width="4.54" height="4.51" fill="#3d4b89"/><rect x="674.42" y="360.12" width="4.54" height="4.51" fill="#423d84"/><rect x="678.36" y="360.12" width="4.54" height="4.51" fill="#462f7c"/><rect x="587.7" y="364.04" width="4.54" height="4.51" fill="#38578c"/><rect x="591.64" y="364.04" width="4.54" height="4.51" fill="#39548b"/><rect x="595.58" y="364.04" width="4.54" height="4.51" fill="#3d4b89"/><rect x="599.53" y="364.04" width="4.54" height="4.51" fill="#404487"/><rect x="603.47" y="364.04" width="4.54" height="4.51" fill="#433a83"/><rect x="607.41" y="364.04" width="4.54" height="4.51" fill="#443781"/><rect x="611.35" y="364.04" width="4.54" height="4.51" fill="#3e4888"/><rect x="615.29" y="364.04" width="4.54" height="4.51" fill="#3d4b89"/><rect x="619.23" y="364.04" width="4.54" height="4.51" fill="#433a83"/><rect x="623.18" y="364.04" width="4.54" height="4.51" fill="#433b83"/><rect x="627.12" y="364.04" width="4.54" height="4.51" fill="#3d4c89"/><rect x="631.06" y="364.04" width="4.54" height="4.51" fill="#2e6b8e"/><rect x="635" y="364.04" width="4.54" height="4.51" fill="#287b8e"/><rect x="638.94" y="364.04" width="4.54" height="4.51" fill="#2f698d"/><rect x="642.88" y="364.04" width="4.54" height="4.51" fill="#3b518a"/><rect x="646.83" y="364.04" width="4.54" height="4.51" fill="#3b508a"/><rect x="650.77" y="364.04" width="4.54" height="4.51" fill="#3f4587"/><rect x="654.71" y="364.04" width="4.54" height="4.51" fill="#433c84"/><rect x="658.65" y="364.04" width="4.54" height="4.51" fill="#433b83"/><rect x="662.59" y="364.04" width="4.54" height="4.51" fill="#423e85"/><rect x="666.53" y="364.04" width="4.54" height="4.51" fill="#3d4a89"/><rect x="670.48" y="364.04" width="4.54" height="4.51" fill="#414186"/><rect x="674.42" y="364.04" width="4.54" height="4.51" fill="#443781"/><rect x="678.36" y="364.04" width="4.54" height="4.51" fill="#472a79"/><rect x="587.7" y="367.95" width="4.54" height="4.51" fill="#345f8d"/><rect x="591.64" y="367.95" width="4.54" height="4.51" fill="#33618d"/><rect x="595.58" y="367.95" width="4.54" height="4.51" fill="#37598c"/><rect x="599.53" y="367.95" width="4.54" height="4.51" fill="#3a538b"/><rect x="603.47" y="367.95" width="4.54" height="4.51" fill="#3e4989"/><rect x="607.41" y="367.95" width="4.54" height="4.51" fill="#404487"/><rect x="611.35" y="367.95" width="4.54" height="4.51" fill="#3e4888"/><rect x="615.29" y="367.95" width="4.54" height="4.51" fill="#3d4b89"/><rect x="619.23" y="367.95" width="4.54" height="4.51" fill="#423d84"/><rect x="623.18" y="367.95" width="4.54" height="4.51" fill="#424085"/><rect x="627.12" y="367.95" width="4.54" height="4.51" fill="#3a538b"/><rect x="631.06" y="367.95" width="4.54" height="4.51" fill="#2f698d"/><rect x="635" y="367.95" width="4.54" height="4.51" fill="#277c8e"/><rect x="638.94" y="367.95" width="4.54" height="4.51" fill="#2a778e"/><rect x="642.88" y="367.95" width="4.54" height="4.51" fill="#345e8d"/><rect x="646.83" y="367.95" width="4.54" height="4.51" fill="#37598c"/><rect x="650.77" y="367.95" width="4.54" height="4.51" fill="#37588c"/><rect x="654.71" y="367.95" width="4.54" height="4.51" fill="#3a528b"/><rect x="658.65" y="367.95" width="4.54" height="4.51" fill="#414186"/><rect x="662.59" y="367.95" width="4.54" height="4.51" fill="#46317e"/><rect x="666.53" y="367.95" width="4.54" height="4.51" fill="#423e85"/><rect x="670.48" y="367.95" width="4.54" height="4.51" fill="#45347f"/><rect x="674.42" y="367.95" width="4.54" height="4.51" fill="#46307d"/><rect x="678.36" y="367.95" width="4.54" height="4.51" fill="#443982"/><rect x="587.7" y="371.86" width="4.54" height="4.51" fill="#355d8c"/><rect x="591.64" y="371.86" width="4.54" height="4.51" fill="#355d8c"/><rect x="595.58" y="371.86" width="4.54" height="4.51" fill="#38568b"/><rect x="599.53" y="371.86" width="4.54" height="4.51" fill="#3a528b"/><rect x="603.47" y="371.86" width="4.54" height="4.51" fill="#3d4c89"/><rect x="607.41" y="371.86" width="4.54" height="4.51" fill="#3f4788"/><rect x="611.35" y="371.86" width="4.54" height="4.51" fill="#424085"/><rect x="615.29" y="371.86" width="4.54" height="4.51" fill="#433a83"/><rect x="619.23" y="371.86" width="4.54" height="4.51" fill="#424085"/><rect x="623.18" y="371.86" width="4.54" height="4.51" fill="#3f4788"/><rect x="627.12" y="371.86" width="4.54" height="4.51" fill="#365b8c"/><rect x="631.06" y="371.86" width="4.54" height="4.51" fill="#31648d"/><rect x="635" y="371.86" width="4.54" height="4.51" fill="#2d6f8e"/><rect x="638.94" y="371.86" width="4.54" height="4.51" fill="#2c708e"/><rect x="642.88" y="371.86" width="4.54" height="4.51" fill="#365b8c"/><rect x="646.83" y="371.86" width="4.54" height="4.51" fill="#38568b"/><rect x="650.77" y="371.86" width="4.54" height="4.51" fill="#345e8d"/><rect x="654.71" y="371.86" width="4.54" height="4.51" fill="#32628d"/><rect x="658.65" y="371.86" width="4.54" height="4.51" fill="#3d4c89"/><rect x="662.59" y="371.86" width="4.54" height="4.51" fill="#433a83"/><rect x="666.53" y="371.86" width="4.54" height="4.51" fill="#404387"/><rect x="670.48" y="371.86" width="4.54" height="4.51" fill="#423d84"/><rect x="674.42" y="371.86" width="4.54" height="4.51" fill="#443982"/><rect x="678.36" y="371.86" width="4.54" height="4.51" fill="#433a83"/><rect x="587.7" y="375.78" width="4.54" height="4.51" fill="#39548b"/><rect x="591.64" y="375.78" width="4.54" height="4.51" fill="#3c4e8a"/><rect x="595.58" y="375.78" width="4.54" height="4.51" fill="#414286"/><rect x="599.53" y="375.78" width="4.54" height="4.51" fill="#3f4788"/><rect x="603.47" y="375.78" width="4.54" height="4.51" fill="#3a538b"/><rect x="607.41" y="375.78" width="4.54" height="4.51" fill="#39558b"/><rect x="611.35" y="375.78" width="4.54" height="4.51" fill="#404387"/><rect x="615.29" y="375.78" width="4.54" height="4.51" fill="#453580"/><rect x="619.23" y="375.78" width="4.54" height="4.51" fill="#45347f"/><rect x="623.18" y="375.78" width="4.54" height="4.51" fill="#453580"/><rect x="627.12" y="375.78" width="4.54" height="4.51" fill="#38578c"/><rect x="631.06" y="375.78" width="4.54" height="4.51" fill="#33608d"/><rect x="635" y="375.78" width="4.54" height="4.51" fill="#32638d"/><rect x="638.94" y="375.78" width="4.54" height="4.51" fill="#365b8c"/><rect x="642.88" y="375.78" width="4.54" height="4.51" fill="#3a538b"/><rect x="646.83" y="375.78" width="4.54" height="4.51" fill="#3a538b"/><rect x="650.77" y="375.78" width="4.54" height="4.51" fill="#3a538b"/><rect x="654.71" y="375.78" width="4.54" height="4.51" fill="#37588c"/><rect x="658.65" y="375.78" width="4.54" height="4.51" fill="#37588c"/><rect x="662.59" y="375.78" width="4.54" height="4.51" fill="#355d8c"/><rect x="666.53" y="375.78" width="4.54" height="4.51" fill="#3a528b"/><rect x="670.48" y="375.78" width="4.54" height="4.51" fill="#414286"/><rect x="674.42" y="375.78" width="4.54" height="4.51" fill="#433c84"/><rect x="678.36" y="375.78" width="4.54" height="4.51" fill="#453681"/><rect x="587.7" y="379.69" width="4.54" height="4.51" fill="#424085"/><rect x="591.64" y="379.69" width="4.54" height="4.51" fill="#404387"/><rect x="595.58" y="379.69" width="4.54" height="4.51" fill="#433b83"/><rect x="599.53" y="379.69" width="4.54" height="4.51" fill="#423d84"/><rect x="603.47" y="379.69" width="4.54" height="4.51" fill="#3e4888"/><rect x="607.41" y="379.69" width="4.54" height="4.51" fill="#3c4e8a"/><rect x="611.35" y="379.69" width="4.54" height="4.51" fill="#423e85"/><rect x="615.29" y="379.69" width="4.54" height="4.51" fill="#472c7b"/><rect x="619.23" y="379.69" width="4.54" height="4.51" fill="#472575"/><rect x="623.18" y="379.69" width="4.54" height="4.51" fill="#472777"/><rect x="627.12" y="379.69" width="4.54" height="4.51" fill="#3b518a"/><rect x="631.06" y="379.69" width="4.54" height="4.51" fill="#31668d"/><rect x="635" y="379.69" width="4.54" height="4.51" fill="#30688d"/><rect x="638.94" y="379.69" width="4.54" height="4.51" fill="#32628d"/><rect x="642.88" y="379.69" width="4.54" height="4.51" fill="#355d8c"/><rect x="646.83" y="379.69" width="4.54" height="4.51" fill="#33608d"/><rect x="650.77" y="379.69" width="4.54" height="4.51" fill="#37598c"/><rect x="654.71" y="379.69" width="4.54" height="4.51" fill="#38568b"/><rect x="658.65" y="379.69" width="4.54" height="4.51" fill="#32628d"/><rect x="662.59" y="379.69" width="4.54" height="4.51" fill="#2d6f8e"/><rect x="666.53" y="379.69" width="4.54" height="4.51" fill="#38568b"/><rect x="670.48" y="379.69" width="4.54" height="4.51" fill="#414286"/><rect x="674.42" y="379.69" width="4.54" height="4.51" fill="#3e4989"/><rect x="678.36" y="379.69" width="4.54" height="4.51" fill="#3d4c89"/><rect x="587.7" y="383.6" width="4.54" height="4.51" fill="#414186"/><rect x="591.64" y="383.6" width="4.54" height="4.51" fill="#3f4788"/><rect x="595.58" y="383.6" width="4.54" height="4.51" fill="#3f4788"/><rect x="599.53" y="383.6" width="4.54" height="4.51" fill="#433b83"/><rect x="603.47" y="383.6" width="4.54" height="4.51" fill="#45347f"/><rect x="607.41" y="383.6" width="4.54" height="4.51" fill="#45347f"/><rect x="611.35" y="383.6" width="4.54" height="4.51" fill="#472b7a"/><rect x="615.29" y="383.6" width="4.54" height="4.51" fill="#482374"/><rect x="619.23" y="383.6" width="4.54" height="4.51" fill="#48196b"/><rect x="623.18" y="383.6" width="4.54" height="4.51" fill="#472b7a"/><rect x="627.12" y="383.6" width="4.54" height="4.51" fill="#345f8d"/><rect x="631.06" y="383.6" width="4.54" height="4.51" fill="#2a778e"/><rect x="635" y="383.6" width="4.54" height="4.51" fill="#277e8e"/><rect x="638.94" y="383.6" width="4.54" height="4.51" fill="#287a8e"/><rect x="642.88" y="383.6" width="4.54" height="4.51" fill="#30678d"/><rect x="646.83" y="383.6" width="4.54" height="4.51" fill="#32628d"/><rect x="650.77" y="383.6" width="4.54" height="4.51" fill="#355d8c"/><rect x="654.71" y="383.6" width="4.54" height="4.51" fill="#365a8c"/><rect x="658.65" y="383.6" width="4.54" height="4.51" fill="#32628d"/><rect x="662.59" y="383.6" width="4.54" height="4.51" fill="#32628d"/><rect x="666.53" y="383.6" width="4.54" height="4.51" fill="#3e4888"/><rect x="670.48" y="383.6" width="4.54" height="4.51" fill="#414186"/><rect x="674.42" y="383.6" width="4.54" height="4.51" fill="#3a528b"/><rect x="678.36" y="383.6" width="4.54" height="4.51" fill="#3c4e8a"/><rect x="587.7" y="387.51" width="4.54" height="4.51" fill="#38568b"/><rect x="591.64" y="387.51" width="4.54" height="4.51" fill="#39548b"/><rect x="595.58" y="387.51" width="4.54" height="4.51" fill="#3b518a"/><rect x="599.53" y="387.51" width="4.54" height="4.51" fill="#414286"/><rect x="603.47" y="387.51" width="4.54" height="4.51" fill="#472878"/><rect x="607.41" y="387.51" width="4.54" height="4.51" fill="#46317e"/><rect x="611.35" y="387.51" width="4.54" height="4.51" fill="#423d84"/><rect x="615.29" y="387.51" width="4.54" height="4.51" fill="#433c84"/><rect x="619.23" y="387.51" width="4.54" height="4.51" fill="#46317e"/><rect x="623.18" y="387.51" width="4.54" height="4.51" fill="#424085"/><rect x="627.12" y="387.51" width="4.54" height="4.51" fill="#2f698d"/><rect x="631.06" y="387.51" width="4.54" height="4.51" fill="#25828e"/><rect x="635" y="387.51" width="4.54" height="4.51" fill="#218d8c"/><rect x="638.94" y="387.51" width="4.54" height="4.51" fill="#25828e"/><rect x="642.88" y="387.51" width="4.54" height="4.51" fill="#33618d"/><rect x="646.83" y="387.51" width="4.54" height="4.51" fill="#3c4d8a"/><rect x="650.77" y="387.51" width="4.54" height="4.51" fill="#3b508a"/><rect x="654.71" y="387.51" width="4.54" height="4.51" fill="#3a528b"/><rect x="658.65" y="387.51" width="4.54" height="4.51" fill="#3b508a"/><rect x="662.59" y="387.51" width="4.54" height="4.51" fill="#3d4b89"/><rect x="666.53" y="387.51" width="4.54" height="4.51" fill="#433a83"/><rect x="670.48" y="387.51" width="4.54" height="4.51" fill="#414186"/><rect x="674.42" y="387.51" width="4.54" height="4.51" fill="#3c4e8a"/><rect x="678.36" y="387.51" width="4.54" height="4.51" fill="#39548b"/><rect x="587.7" y="391.43" width="4.54" height="4.51" fill="#3b518a"/><rect x="591.64" y="391.43" width="4.54" height="4.51" fill="#39558b"/><rect x="595.58" y="391.43" width="4.54" height="4.51" fill="#3b518a"/><rect x="599.53" y="391.43" width="4.54" height="4.51" fill="#414286"/><rect x="603.47" y="391.43" width="4.54" height="4.51" fill="#472b7a"/><rect x="607.41" y="391.43" width="4.54" height="4.51" fill="#453580"/><rect x="611.35" y="391.43" width="4.54" height="4.51" fill="#3f4788"/><rect x="615.29" y="391.43" width="4.54" height="4.51" fill="#414186"/><rect x="619.23" y="391.43" width="4.54" height="4.51" fill="#3f4788"/><rect x="623.18" y="391.43" width="4.54" height="4.51" fill="#365a8c"/><rect x="627.12" y="391.43" width="4.54" height="4.51" fill="#2e6d8e"/><rect x="631.06" y="391.43" width="4.54" height="4.51" fill="#287b8e"/><rect x="635" y="391.43" width="4.54" height="4.51" fill="#277d8e"/><rect x="638.94" y="391.43" width="4.54" height="4.51" fill="#2d6e8e"/><rect x="642.88" y="391.43" width="4.54" height="4.51" fill="#39548b"/><rect x="646.83" y="391.43" width="4.54" height="4.51" fill="#3c4e8a"/><rect x="650.77" y="391.43" width="4.54" height="4.51" fill="#38578c"/><rect x="654.71" y="391.43" width="4.54" height="4.51" fill="#3d4a89"/><rect x="658.65" y="391.43" width="4.54" height="4.51" fill="#424085"/><rect x="662.59" y="391.43" width="4.54" height="4.51" fill="#433a83"/><rect x="666.53" y="391.43" width="4.54" height="4.51" fill="#433a83"/><rect x="670.48" y="391.43" width="4.54" height="4.51" fill="#3f4587"/><rect x="674.42" y="391.43" width="4.54" height="4.51" fill="#3b508a"/><rect x="678.36" y="391.43" width="4.54" height="4.51" fill="#3a538b"/><rect x="587.7" y="395.34" width="4.54" height="4.51" fill="#443982"/><rect x="591.64" y="395.34" width="4.54" height="4.51" fill="#3c4e8a"/><rect x="595.58" y="395.34" width="4.54" height="4.51" fill="#3c4e8a"/><rect x="599.53" y="395.34" width="4.54" height="4.51" fill="#424085"/><rect x="603.47" y="395.34" width="4.54" height="4.51" fill="#462d7c"/><rect x="607.41" y="395.34" width="4.54" height="4.51" fill="#46307d"/><rect x="611.35" y="395.34" width="4.54" height="4.51" fill="#433c84"/><rect x="615.29" y="395.34" width="4.54" height="4.51" fill="#424085"/><rect x="619.23" y="395.34" width="4.54" height="4.51" fill="#3e4989"/><rect x="623.18" y="395.34" width="4.54" height="4.51" fill="#355c8c"/><rect x="627.12" y="395.34" width="4.54" height="4.51" fill="#32638d"/><rect x="631.06" y="395.34" width="4.54" height="4.51" fill="#365b8c"/><rect x="635" y="395.34" width="4.54" height="4.51" fill="#3b518a"/><rect x="638.94" y="395.34" width="4.54" height="4.51" fill="#3a528b"/><rect x="642.88" y="395.34" width="4.54" height="4.51" fill="#38568b"/><rect x="646.83" y="395.34" width="4.54" height="4.51" fill="#38568b"/><rect x="650.77" y="395.34" width="4.54" height="4.51" fill="#37598c"/><rect x="654.71" y="395.34" width="4.54" height="4.51" fill="#3b508a"/><rect x="658.65" y="395.34" width="4.54" height="4.51" fill="#3d4c89"/><rect x="662.59" y="395.34" width="4.54" height="4.51" fill="#3f4587"/><rect x="666.53" y="395.34" width="4.54" height="4.51" fill="#404487"/><rect x="670.48" y="395.34" width="4.54" height="4.51" fill="#414286"/><rect x="674.42" y="395.34" width="4.54" height="4.51" fill="#3d4a89"/><rect x="678.36" y="395.34" width="4.54" height="4.51" fill="#3b508a"/><rect x="587.7" y="399.25" width="4.54" height="4.51" fill="#433b83"/><rect x="591.64" y="399.25" width="4.54" height="4.51" fill="#3f4587"/><rect x="595.58" y="399.25" width="4.54" height="4.51" fill="#443781"/><rect x="599.53" y="399.25" width="4.54" height="4.51" fill="#46317e"/><rect x="603.47" y="399.25" width="4.54" height="4.51" fill="#433b83"/><rect x="607.41" y="399.25" width="4.54" height="4.51" fill="#433c84"/><rect x="611.35" y="399.25" width="4.54" height="4.51" fill="#46317e"/><rect x="615.29" y="399.25" width="4.54" height="4.51" fill="#45327f"/><rect x="619.23" y="399.25" width="4.54" height="4.51" fill="#423d84"/><rect x="623.18" y="399.25" width="4.54" height="4.51" fill="#3e4989"/><rect x="627.12" y="399.25" width="4.54" height="4.51" fill="#3d4a89"/><rect x="631.06" y="399.25" width="4.54" height="4.51" fill="#433a83"/><rect x="635" y="399.25" width="4.54" height="4.51" fill="#46317e"/><rect x="638.94" y="399.25" width="4.54" height="4.51" fill="#424085"/><rect x="642.88" y="399.25" width="4.54" height="4.51" fill="#38568b"/><rect x="646.83" y="399.25" width="4.54" height="4.51" fill="#31648d"/><rect x="650.77" y="399.25" width="4.54" height="4.51" fill="#30688d"/><rect x="654.71" y="399.25" width="4.54" height="4.51" fill="#345f8d"/><rect x="658.65" y="399.25" width="4.54" height="4.51" fill="#38568b"/><rect x="662.59" y="399.25" width="4.54" height="4.51" fill="#3b518a"/><rect x="666.53" y="399.25" width="4.54" height="4.51" fill="#3f4788"/><rect x="670.48" y="399.25" width="4.54" height="4.51" fill="#423e85"/><rect x="674.42" y="399.25" width="4.54" height="4.51" fill="#3e4888"/><rect x="678.36" y="399.25" width="4.54" height="4.51" fill="#37598c"/><rect x="587.7" y="403.16" width="4.54" height="4.51" fill="#443982"/><rect x="591.64" y="403.16" width="4.54" height="4.51" fill="#423e85"/><rect x="595.58" y="403.16" width="4.54" height="4.51" fill="#443781"/><rect x="599.53" y="403.16" width="4.54" height="4.51" fill="#433c84"/><rect x="603.47" y="403.16" width="4.54" height="4.51" fill="#3f4587"/><rect x="607.41" y="403.16" width="4.54" height="4.51" fill="#423e85"/><rect x="611.35" y="403.16" width="4.54" height="4.51" fill="#46307d"/><rect x="615.29" y="403.16" width="4.54" height="4.51" fill="#472a79"/><rect x="619.23" y="403.16" width="4.54" height="4.51" fill="#443781"/><rect x="623.18" y="403.16" width="4.54" height="4.51" fill="#423e85"/><rect x="627.12" y="403.16" width="4.54" height="4.51" fill="#424085"/><rect x="631.06" y="403.16" width="4.54" height="4.51" fill="#433b83"/><rect x="635" y="403.16" width="4.54" height="4.51" fill="#45347f"/><rect x="638.94" y="403.16" width="4.54" height="4.51" fill="#443982"/><rect x="642.88" y="403.16" width="4.54" height="4.51" fill="#3c4d8a"/><rect x="646.83" y="403.16" width="4.54" height="4.51" fill="#32628d"/><rect x="650.77" y="403.16" width="4.54" height="4.51" fill="#32638d"/><rect x="654.71" y="403.16" width="4.54" height="4.51" fill="#38578c"/><rect x="658.65" y="403.16" width="4.54" height="4.51" fill="#3a528b"/><rect x="662.59" y="403.16" width="4.54" height="4.51" fill="#37588c"/><rect x="666.53" y="403.16" width="4.54" height="4.51" fill="#38568b"/><rect x="670.48" y="403.16" width="4.54" height="4.51" fill="#3b508a"/><rect x="674.42" y="403.16" width="4.54" height="4.51" fill="#38568b"/><rect x="678.36" y="403.16" width="4.54" height="4.51" fill="#37598c"/><rect x="587.7" y="407.07" width="4.54" height="4.51" fill="#45327f"/><rect x="591.64" y="407.07" width="4.54" height="4.51" fill="#433b83"/><rect x="595.58" y="407.07" width="4.54" height="4.51" fill="#443781"/><rect x="599.53" y="407.07" width="4.54" height="4.51" fill="#423d84"/><rect x="603.47" y="407.07" width="4.54" height="4.51" fill="#414286"/><rect x="607.41" y="407.07" width="4.54" height="4.51" fill="#414286"/><rect x="611.35" y="407.07" width="4.54" height="4.51" fill="#45327f"/><rect x="615.29" y="407.07" width="4.54" height="4.51" fill="#462d7c"/><rect x="619.23" y="407.07" width="4.54" height="4.51" fill="#414286"/><rect x="623.18" y="407.07" width="4.54" height="4.51" fill="#3d4c89"/><rect x="627.12" y="407.07" width="4.54" height="4.51" fill="#3d4a89"/><rect x="631.06" y="407.07" width="4.54" height="4.51" fill="#3d4c89"/><rect x="635" y="407.07" width="4.54" height="4.51" fill="#3f4587"/><rect x="638.94" y="407.07" width="4.54" height="4.51" fill="#424085"/><rect x="642.88" y="407.07" width="4.54" height="4.51" fill="#3d4a89"/><rect x="646.83" y="407.07" width="4.54" height="4.51" fill="#3b518a"/><rect x="650.77" y="407.07" width="4.54" height="4.51" fill="#3e4888"/><rect x="654.71" y="407.07" width="4.54" height="4.51" fill="#424085"/><rect x="658.65" y="407.07" width="4.54" height="4.51" fill="#414286"/><rect x="662.59" y="407.07" width="4.54" height="4.51" fill="#3c4e8a"/><rect x="666.53" y="407.07" width="4.54" height="4.51" fill="#39548b"/><rect x="670.48" y="407.07" width="4.54" height="4.51" fill="#3b518a"/><rect x="674.42" y="407.07" width="4.54" height="4.51" fill="#3b508a"/><rect x="678.36" y="407.07" width="4.54" height="4.51" fill="#345e8d"/><rect x="587.7" y="410.99" width="4.54" height="4.51" fill="#414286"/><rect x="591.64" y="410.99" width="4.54" height="4.51" fill="#45327f"/><rect x="595.58" y="410.99" width="4.54" height="4.51" fill="#472878"/><rect x="599.53" y="410.99" width="4.54" height="4.51" fill="#433a83"/><rect x="603.47" y="410.99" width="4.54" height="4.51" fill="#443781"/><rect x="607.41" y="410.99" width="4.54" height="4.51" fill="#424085"/><rect x="611.35" y="410.99" width="4.54" height="4.51" fill="#45347f"/><rect x="615.29" y="410.99" width="4.54" height="4.51" fill="#424085"/><rect x="619.23" y="410.99" width="4.54" height="4.51" fill="#3d4c89"/><rect x="623.18" y="410.99" width="4.54" height="4.51" fill="#3b518a"/><rect x="627.12" y="410.99" width="4.54" height="4.51" fill="#423e85"/><rect x="631.06" y="410.99" width="4.54" height="4.51" fill="#414286"/><rect x="635" y="410.99" width="4.54" height="4.51" fill="#423e85"/><rect x="638.94" y="410.99" width="4.54" height="4.51" fill="#404387"/><rect x="642.88" y="410.99" width="4.54" height="4.51" fill="#3b518a"/><rect x="646.83" y="410.99" width="4.54" height="4.51" fill="#3b508a"/><rect x="650.77" y="410.99" width="4.54" height="4.51" fill="#423e85"/><rect x="654.71" y="410.99" width="4.54" height="4.51" fill="#424085"/><rect x="658.65" y="410.99" width="4.54" height="4.51" fill="#404487"/><rect x="662.59" y="410.99" width="4.54" height="4.51" fill="#3d4c89"/><rect x="666.53" y="410.99" width="4.54" height="4.51" fill="#3b518a"/><rect x="670.48" y="410.99" width="4.54" height="4.51" fill="#3d4c89"/><rect x="674.42" y="410.99" width="4.54" height="4.51" fill="#404487"/><rect x="678.36" y="410.99" width="4.54" height="4.51" fill="#365b8c"/></g><ellipse cx="604.73" cy="407.39" rx="7.8" ry="7.8" fill="url(#hb9g0)"/><ellipse cx="620.81" cy="407.39" rx="7.8" ry="7.8" fill="url(#hb9g1)"/><ellipse cx="639.73" cy="381.1" rx="7.28" ry="7.28" fill="url(#hb9g2)"/><ellipse cx="652.03" cy="403.63" rx="7.28" ry="7.28" fill="url(#hb9g3)"/><ellipse cx="632.16" cy="389.86" rx="6.76" ry="6.76" fill="url(#hb9g4)"/><ellipse cx="635.95" cy="385.48" rx="6.76" ry="6.76" fill="url(#hb9g5)"/><ellipse cx="665.27" cy="381.72" rx="6.76" ry="6.76" fill="url(#hb9g6)"/><ellipse cx="589.59" cy="377.34" rx="6.76" ry="6.76" fill="url(#hb9g7)"/><ellipse cx="637.84" cy="367.95" rx="6.24" ry="6.24" fill="url(#hb9g8)"/></g>
<rect x="707.7" y="358.8" width="38.2" height="33.7" rx="5.5" fill="#dcebd9" stroke="#9fcb8c" stroke-width="1" />
<text x="726.85" y="379.8" font-size="13.5" fill="#000" text-anchor="middle" font-family='"Liberation Sans", sans-serif' font-weight="normal" font-style="normal" >SAM</text>
<path d="M745.5 375.5 L755.9 375.5" fill="none" stroke="#000" stroke-width="1.1"/>
<path d="M762.6 375.5 L754.1 379.6 L755.9 375.5 L754.1 371.4 Z" fill="#000"/>
<ellipse cx="726.8" cy="440.8" rx="29.8" ry="12.8" fill="#ece6ef" stroke="#c3a9cf" stroke-width="1"/>
<text x="727.1" y="444.9" font-size="12" fill="#000" text-anchor="middle" font-family='"Liberation Sans", sans-serif' font-weight="normal" font-style="normal" >Threshold</text>
<path d="M726.5 428.6 L726.5 398.3" fill="none" stroke="#000" stroke-width="1.1"/>
<path d="M726.5 391.6 L730.6 400.1 L726.5 398.3 L722.4 400.1 Z" fill="#000"/>
<text x="0" y="0" font-size="11.3" fill="#000" text-anchor="middle" font-family='"Liberation Sans", sans-serif' font-weight="normal" font-style="normal" transform="translate(719.6,410.3) rotate(-90)">points</text>
<text x="0" y="0" font-size="11.3" fill="#000" text-anchor="middle" font-family='"Liberation Sans", sans-serif' font-weight="normal" font-style="normal" transform="translate(739.2,412.2) rotate(-90)">bbox</text>
<rect x="762.5" y="339.5" width="246" height="128" rx="18" fill="#ebf3f8" stroke="#a8b0b2" stroke-width="1" />
<circle cx="913.6" cy="400" r="59.2" fill="none" stroke="#b0b0b0" stroke-width="0.8"/>
<circle cx="913.6" cy="400" r="49.6" fill="none" stroke="#b0b0b0" stroke-width="0.8"/>
<circle cx="913.6" cy="400" r="40" fill="none" stroke="#b0b0b0" stroke-width="0.8"/>
<circle cx="913.6" cy="400" r="30.4" fill="none" stroke="#b0b0b0" stroke-width="0.8"/>
<circle cx="913.6" cy="400" r="20.8" fill="none" stroke="#b0b0b0" stroke-width="0.8"/>
<path d="M862.3 375 L886 392" fill="none" stroke="#333" stroke-width="0.9" stroke-dasharray="3 3"/>
<path d="M821.3 412 L882 404" fill="none" stroke="#333" stroke-width="0.9" stroke-dasharray="3 3"/>
<path d="M887 432.4 L896.5 418" fill="none" stroke="#333" stroke-width="0.9" stroke-dasharray="3 3"/>
<path d="M937.6 418 L951.3 432.4" fill="none" stroke="#333" stroke-width="0.9" stroke-dasharray="3 3"/>
<rect x="812.9" y="341" width="52.3" height="34" rx="0" fill="#000" stroke="#888" stroke-width="0.8" />
<path d="M832 343 L843.5 343 L839 360 L837.5 367 L835 360 Z" fill="#3a3a3a"/><path d="M834 344 L838 362 M837 343 L839.5 358 M840.5 344 L839 362 M842 345 L838 352" stroke="#8a8a8a" stroke-width="0.8"/><path d="M830 352 L833 356" stroke="#555" stroke-width="0.8"/>
<rect x="768.8" y="394" width="52.5" height="33.9" rx="0" fill="#000" stroke="#888" stroke-width="0.8" />
<path d="M794 404.5 L797.5 404 L796.5 408.5 Z" fill="#eee"/>
<rect x="833.1" y="422" width="52.8" height="33.9" rx="0" fill="#000" stroke="#888" stroke-width="0.8" />
<path d="M856 446 L858 440 L860.5 439.5 L859.5 445 L857.5 447.5 Z" fill="#f2f2f2"/>
<rect x="952.8" y="416" width="52.2" height="33.9" rx="0" fill="#000" stroke="#888" stroke-width="0.8" />
<path d="M975 440 L977.5 433 L979.5 433.5 L977.5 440.5 Z" fill="#ddd"/><path d="M977 431 L978 426 L980.5 426 L979.5 431" stroke="#999" stroke-width="0.7" fill="none"/>
<rect x="944" y="348.3" width="52.1" height="33.3" rx="0" fill="#000" stroke="#888" stroke-width="0.8" />
<path d="M965 370 L967.5 363 L969.5 363.5 L968 369 L966.5 371 Z" fill="#f2f2f2"/>
<rect x="883.65" y="376.85" width="53.1" height="34.8" rx="0" fill="#000" stroke="#9a9a9a" stroke-width="0.8" />
<rect x="885.1" y="378.2" width="53.1" height="34.8" rx="0" fill="#000" stroke="#9a9a9a" stroke-width="0.8" />
<rect x="886.55" y="379.55" width="53.1" height="34.8" rx="0" fill="#000" stroke="#9a9a9a" stroke-width="0.8" />
<rect x="888" y="380.9" width="53.1" height="34.8" rx="0" fill="#000" stroke="#9a9a9a" stroke-width="0.8" />
<rect x="889.45" y="382.25" width="53.1" height="34.8" rx="0" fill="#000" stroke="#9a9a9a" stroke-width="0.8" />
<rect x="890.9" y="383.6" width="53.1" height="34.8" rx="0" fill="#000" stroke="#9a9a9a" stroke-width="0.8" />
<path d="M913 407.5 L915.5 401 L917.8 401 L916 406.5 L914.5 408.5 Z" fill="#f2f2f2"/>
<rect x="938.7" y="343.9" width="62.7" height="41.2" rx="6" fill="none" stroke="#f00000" stroke-width="3" stroke-dasharray="9 8.5" stroke-dashoffset="4"/>
<rect x="825" y="376.8" width="28" height="9.6" rx="0" fill="#dce8f6" stroke="none" stroke-width="1" />
<text x="825.5" y="383.7" font-size="10.5" letter-spacing="0.35" fill="#333" font-family='"Liberation Serif", serif' font-style="italic">mask</text>
<text x="848.6" y="385.5" font-size="7.2" fill="#333" font-family='"Liberation Serif", serif'>1</text>
<rect x="781.4" y="430.4" width="28" height="9.6" rx="0" fill="#dce8f6" stroke="none" stroke-width="1" />
<text x="781.9" y="437.3" font-size="10.5" letter-spacing="0.35" fill="#333" font-family='"Liberation Serif", serif' font-style="italic">mask</text>
<text x="805" y="439.1" font-size="7.2" fill="#333" font-family='"Liberation Serif", serif'>0</text>
<rect x="846.2" y="457" width="28" height="9.6" rx="0" fill="#dce8f6" stroke="none" stroke-width="1" />
<text x="846.7" y="463.9" font-size="10.5" letter-spacing="0.35" fill="#333" font-family='"Liberation Serif", serif' font-style="italic">mask</text>
<text x="869.8" y="465.7" font-size="7.2" fill="#333" font-family='"Liberation Serif", serif'>4</text>
<rect x="954.4" y="390.6" width="28" height="9.6" rx="0" fill="#dce8f6" stroke="none" stroke-width="1" />
<text x="954.9" y="397.5" font-size="10.5" letter-spacing="0.35" fill="#333" font-family='"Liberation Serif", serif' font-style="italic">mask</text>
<text x="978" y="399.3" font-size="7.2" fill="#333" font-family='"Liberation Serif", serif'>5</text>
<rect x="963.3" y="451.6" width="28" height="9.6" rx="0" fill="#dce8f6" stroke="none" stroke-width="1" />
<text x="963.8" y="458.5" font-size="10.5" letter-spacing="0.35" fill="#333" font-family='"Liberation Serif", serif' font-style="italic">mask</text>
<text x="986.9" y="460.3" font-size="7.2" fill="#333" font-family='"Liberation Serif", serif'>3</text>
<rect x="902.5" y="420.1" width="27" height="9.6" rx="0" fill="#dce8f6" stroke="none" stroke-width="1" />
<text x="904.2" y="427.0" font-size="10.5" letter-spacing="0.35" fill="#333" font-family='"Liberation Serif", serif' font-style="italic">mean</text>
</svg>
</body></html>
